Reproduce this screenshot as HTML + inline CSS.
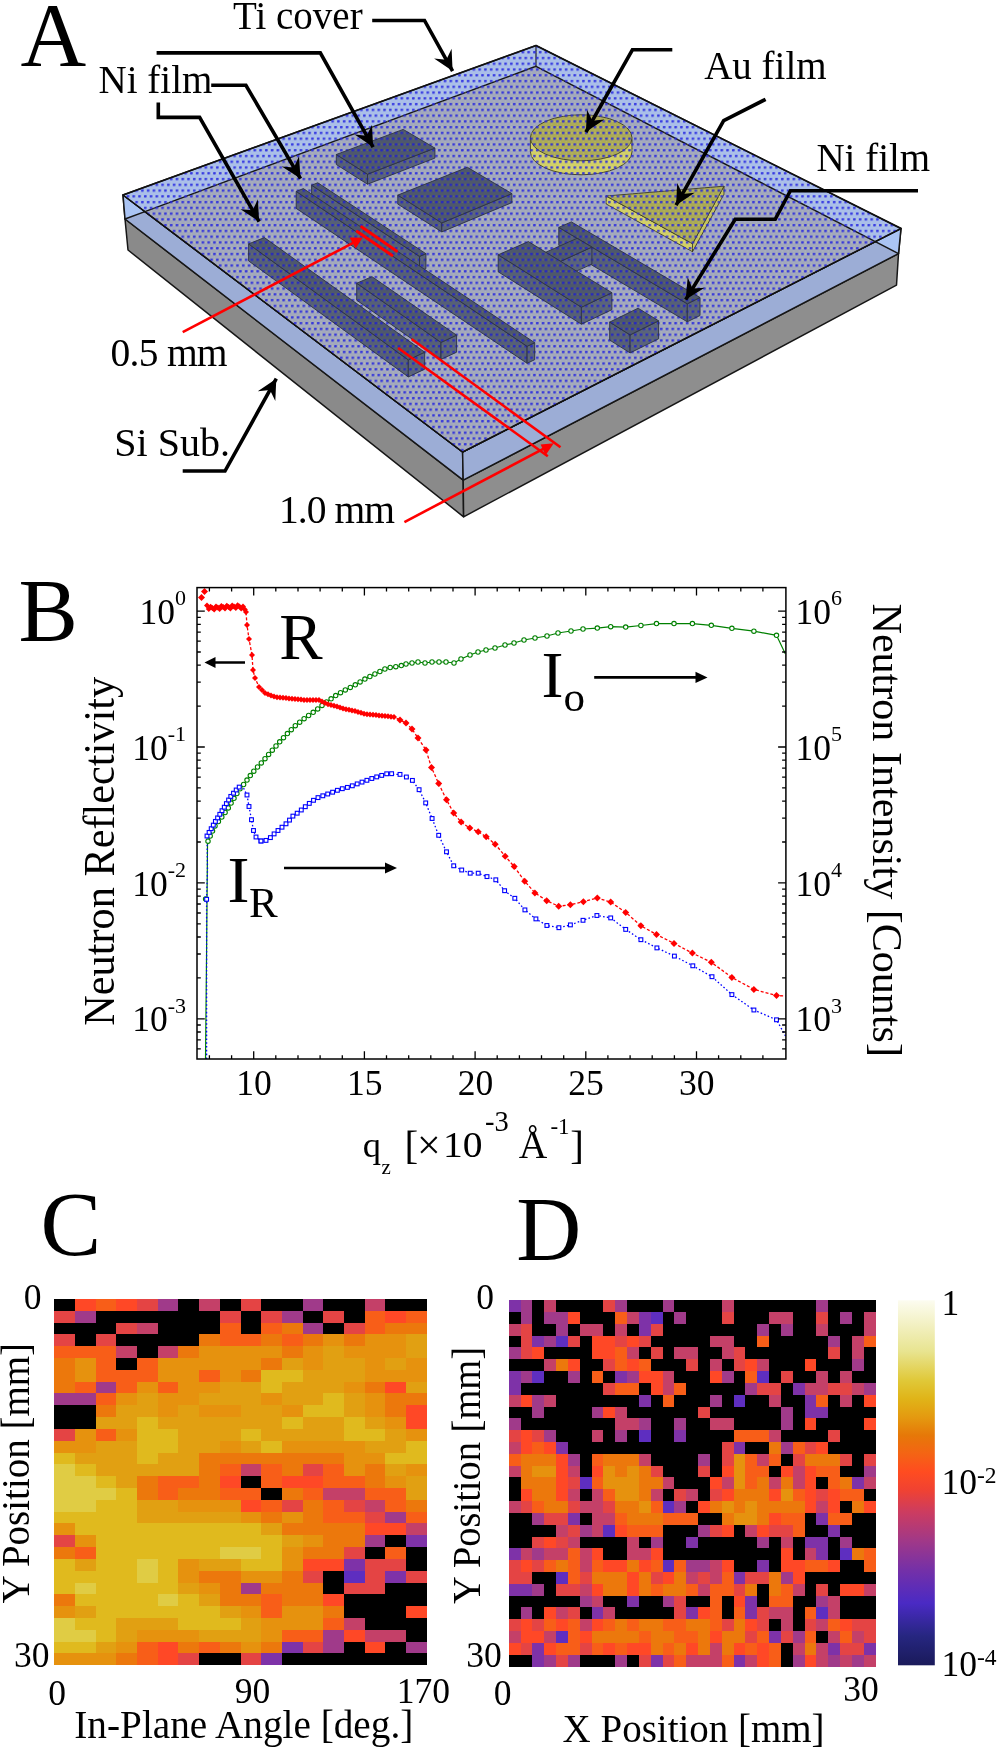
<!DOCTYPE html>
<html><head><meta charset="utf-8"><style>html,body{margin:0;padding:0;background:#fff;width:998px;height:1751px;overflow:hidden}</style></head><body>
<svg width="998" height="1751" viewBox="0 0 998 1751" style="display:block;will-change:transform">
<defs>
<pattern id="dots" patternUnits="userSpaceOnUse" width="5.765" height="11.53" x="-0.155" y="-0.84">
<rect x="0" y="0" width="2.6" height="2.3" rx="0.6" fill="#2424e0" opacity="0.85"/>
<rect x="2.8825" y="5.765" width="2.6" height="2.3" rx="0.6" fill="#2424e0" opacity="0.85"/>
<rect x="3.58" y="0.5" width="1.2" height="1.3" fill="#ecec9c" opacity="0.4"/>
<rect x="0.7" y="6.265" width="1.2" height="1.3" fill="#ecec9c" opacity="0.4"/>
<rect x="0.7" y="3.4" width="1.2" height="1.1" fill="#e0e4b0" opacity="0.22"/>
<rect x="3.58" y="9.15" width="1.2" height="1.1" fill="#e0e4b0" opacity="0.22"/>
</pattern>
<pattern id="dotsb" patternUnits="userSpaceOnUse" width="5.765" height="11.53" x="-0.155" y="-0.84">
<rect x="0" y="0" width="2.6" height="2.3" rx="0.6" fill="#2020d0" opacity="0.85"/>
<rect x="2.8825" y="5.765" width="2.6" height="2.3" rx="0.6" fill="#2020d0" opacity="0.85"/>
<rect x="3.58" y="0.5" width="1.2" height="1.3" fill="#8c9a50" opacity="0.35"/>
<rect x="0.7" y="6.265" width="1.2" height="1.3" fill="#8c9a50" opacity="0.35"/>
</pattern>
<linearGradient id="cbar" x1="0" y1="1" x2="0" y2="0">
<stop offset="0" stop-color="#1a1a5a"/>
<stop offset="0.08" stop-color="#262680"/>
<stop offset="0.17" stop-color="#4a2ac4"/>
<stop offset="0.26" stop-color="#7430a8"/>
<stop offset="0.34" stop-color="#a03888"/>
<stop offset="0.42" stop-color="#cc3c60"/>
<stop offset="0.48" stop-color="#f04232"/>
<stop offset="0.53" stop-color="#ff4c20"/>
<stop offset="0.58" stop-color="#f46414"/>
<stop offset="0.63" stop-color="#e67808"/>
<stop offset="0.68" stop-color="#e49a10"/>
<stop offset="0.73" stop-color="#e0b418"/>
<stop offset="0.78" stop-color="#e0c838"/>
<stop offset="0.86" stop-color="#e8e490"/>
<stop offset="1" stop-color="#fcfcf0"/>
</linearGradient>
</defs>
<rect width="998" height="1751" fill="#fff"/>
<polygon points="125.0,219.0 463.2,480.2 463.6,516.8 128.0,250.0" fill="#8a8a8a" stroke="#161616" stroke-width="1.5" stroke-linejoin="round"/>
<polygon points="463.2,480.2 898.5,253.6 896.5,285.2 463.6,516.8" fill="#8e8e8e" stroke="#161616" stroke-width="1.5" stroke-linejoin="round"/>
<polygon points="123.0,195.0 462.6,452.0 463.2,480.2 125.0,219.0" fill="#9cadd6" stroke="#161616" stroke-width="1.5" stroke-linejoin="round"/>
<polygon points="462.6,452.0 901.0,228.5 898.5,253.6 463.2,480.2" fill="#9cadd6" stroke="#161616" stroke-width="1.5" stroke-linejoin="round"/>
<polygon points="123.0,195.0 144.9,211.6 125.0,219.0" fill="#aac4f4" stroke="#161616" stroke-width="1.5" stroke-linejoin="round"/>
<polygon points="901.0,228.5 875.3,241.6 898.5,253.6" fill="#aac4f4" stroke="#161616" stroke-width="1.5" stroke-linejoin="round"/>
<polygon points="123.0,195.0 536.0,45.5 901.0,228.5 462.6,452.0" fill="#a9beea" stroke="#161616" stroke-width="1.5" stroke-linejoin="round"/>
<polygon points="144.9,211.6 536.0,66.3 875.3,241.6 462.6,452.0" fill="#a2a8bc" stroke="#161616" stroke-width="1.5" stroke-linejoin="round"/>
<line x1="536" y1="45.5" x2="536" y2="66.3" stroke="#222" stroke-width="1.2"/>
<path d="M530.4000000000001,137.8 L530.4000000000001,151.8 A50.8,23 0 0 0 632.0,151.8 L632.0,137.8 Z" fill="#d2d066" stroke="#3a3a20" stroke-width="0.9"/>
<ellipse cx="581.2" cy="137.8" rx="50.8" ry="23" fill="#acaa56" stroke="#3a3a20" stroke-width="0.9"/>
<polygon points="606.2,196.0 692.5,243.7 692.5,251.7 606.2,204.0" fill="#d2d066" stroke="#3a3a20" stroke-width="0.9"/>
<polygon points="692.5,243.7 724.0,186.2 724.0,194.2 692.5,251.7" fill="#c4c260" stroke="#3a3a20" stroke-width="0.9"/>
<polygon points="606.2,196.0 724.0,186.2 692.5,243.7" fill="#aaa954" stroke="#3a3a20" stroke-width="0.9"/>
<polygon points="123.0,195.0 536.0,45.5 901.0,228.5 462.6,452.0" fill="url(#dots)"/>
<polygon points="336.3,154.5 367.5,174.2 367.5,184.2 336.3,164.5" fill="#566076"/><polygon points="336.3,154.5 367.5,174.2 367.5,184.2 336.3,164.5" fill="url(#dotsb)" stroke="#2c3244" stroke-width="0.9" stroke-linejoin="round"/><polygon points="367.5,174.2 434.9,148.1 434.9,158.1 367.5,184.2" fill="#5a647a"/><polygon points="367.5,174.2 434.9,148.1 434.9,158.1 367.5,184.2" fill="url(#dotsb)" stroke="#2c3244" stroke-width="0.9" stroke-linejoin="round"/><polygon points="336.3,154.5 367.5,174.2 434.9,148.1 403.2,129.4" fill="#4e586c"/><polygon points="336.3,154.5 367.5,174.2 434.9,148.1 403.2,129.4" fill="url(#dotsb)" stroke="#2c3244" stroke-width="0.9" stroke-linejoin="round"/>
<polygon points="397.8,195.1 441.8,222.9 441.8,231.9 397.8,204.1" fill="#566076"/><polygon points="397.8,195.1 441.8,222.9 441.8,231.9 397.8,204.1" fill="url(#dotsb)" stroke="#2c3244" stroke-width="0.9" stroke-linejoin="round"/><polygon points="441.8,222.9 511.9,193.6 511.9,202.6 441.8,231.9" fill="#5a647a"/><polygon points="441.8,222.9 511.9,193.6 511.9,202.6 441.8,231.9" fill="url(#dotsb)" stroke="#2c3244" stroke-width="0.9" stroke-linejoin="round"/><polygon points="397.8,195.1 441.8,222.9 511.9,193.6 467.4,167.3" fill="#4e586c"/><polygon points="397.8,195.1 441.8,222.9 511.9,193.6 467.4,167.3" fill="url(#dotsb)" stroke="#2c3244" stroke-width="0.9" stroke-linejoin="round"/>
<polygon points="558.8,227.4 687.3,303.8 687.3,321.8 558.8,245.4" fill="#566076"/><polygon points="558.8,227.4 687.3,303.8 687.3,321.8 558.8,245.4" fill="url(#dotsb)" stroke="#2c3244" stroke-width="0.9" stroke-linejoin="round"/><polygon points="687.3,303.8 700.0,297.5 700.0,315.5 687.3,321.8" fill="#5a647a"/><polygon points="687.3,303.8 700.0,297.5 700.0,315.5 687.3,321.8" fill="url(#dotsb)" stroke="#2c3244" stroke-width="0.9" stroke-linejoin="round"/><polygon points="558.8,227.4 687.3,303.8 700.0,297.5 571.4,221.9" fill="#4e586c"/><polygon points="558.8,227.4 687.3,303.8 700.0,297.5 571.4,221.9" fill="url(#dotsb)" stroke="#2c3244" stroke-width="0.9" stroke-linejoin="round"/>
<polygon points="545.4,252.4 560.2,261.5 560.2,278.5 545.4,269.4" fill="#566076"/><polygon points="545.4,252.4 560.2,261.5 560.2,278.5 545.4,269.4" fill="url(#dotsb)" stroke="#2c3244" stroke-width="0.9" stroke-linejoin="round"/><polygon points="560.2,261.5 591.9,247.1 591.9,264.1 560.2,278.5" fill="#5a647a"/><polygon points="560.2,261.5 591.9,247.1 591.9,264.1 560.2,278.5" fill="url(#dotsb)" stroke="#2c3244" stroke-width="0.9" stroke-linejoin="round"/><polygon points="545.4,252.4 560.2,261.5 591.9,247.1 577.1,238.3" fill="#4e586c"/><polygon points="545.4,252.4 560.2,261.5 591.9,247.1 577.1,238.3" fill="url(#dotsb)" stroke="#2c3244" stroke-width="0.9" stroke-linejoin="round"/>
<polygon points="498.2,254.8 581.4,307.2 581.4,324.2 498.2,271.8" fill="#566076"/><polygon points="498.2,254.8 581.4,307.2 581.4,324.2 498.2,271.8" fill="url(#dotsb)" stroke="#2c3244" stroke-width="0.9" stroke-linejoin="round"/><polygon points="581.4,307.2 611.9,292.7 611.9,309.7 581.4,324.2" fill="#5a647a"/><polygon points="581.4,307.2 611.9,292.7 611.9,309.7 581.4,324.2" fill="url(#dotsb)" stroke="#2c3244" stroke-width="0.9" stroke-linejoin="round"/><polygon points="498.2,254.8 581.4,307.2 611.9,292.7 528.4,241.6" fill="#4e586c"/><polygon points="498.2,254.8 581.4,307.2 611.9,292.7 528.4,241.6" fill="url(#dotsb)" stroke="#2c3244" stroke-width="0.9" stroke-linejoin="round"/>
<polygon points="609.7,322.1 630.1,334.9 630.1,352.9 609.7,340.1" fill="#566076"/><polygon points="609.7,322.1 630.1,334.9 630.1,352.9 609.7,340.1" fill="url(#dotsb)" stroke="#2c3244" stroke-width="0.9" stroke-linejoin="round"/><polygon points="630.1,334.9 658.6,320.8 658.6,338.8 630.1,352.9" fill="#5a647a"/><polygon points="630.1,334.9 658.6,320.8 658.6,338.8 630.1,352.9" fill="url(#dotsb)" stroke="#2c3244" stroke-width="0.9" stroke-linejoin="round"/><polygon points="609.7,322.1 630.1,334.9 658.6,320.8 638.1,308.2" fill="#4e586c"/><polygon points="609.7,322.1 630.1,334.9 658.6,320.8 638.1,308.2" fill="url(#dotsb)" stroke="#2c3244" stroke-width="0.9" stroke-linejoin="round"/>
<polygon points="311.6,185.2 419.5,256.4 419.5,271.4 311.6,200.2" fill="#566076"/><polygon points="311.6,185.2 419.5,256.4 419.5,271.4 311.6,200.2" fill="url(#dotsb)" stroke="#2c3244" stroke-width="0.9" stroke-linejoin="round"/><polygon points="419.5,256.4 425.9,253.7 425.9,268.7 419.5,271.4" fill="#5a647a"/><polygon points="419.5,256.4 425.9,253.7 425.9,268.7 419.5,271.4" fill="url(#dotsb)" stroke="#2c3244" stroke-width="0.9" stroke-linejoin="round"/><polygon points="311.6,185.2 419.5,256.4 425.9,253.7 317.8,182.8" fill="#4e586c"/><polygon points="311.6,185.2 419.5,256.4 425.9,253.7 317.8,182.8" fill="url(#dotsb)" stroke="#2c3244" stroke-width="0.9" stroke-linejoin="round"/>
<polygon points="296.2,191.4 527.1,346.3 527.1,363.3 296.2,208.4" fill="#566076"/><polygon points="296.2,191.4 527.1,346.3 527.1,363.3 296.2,208.4" fill="url(#dotsb)" stroke="#2c3244" stroke-width="0.9" stroke-linejoin="round"/><polygon points="527.1,346.3 534.7,342.7 534.7,359.7 527.1,363.3" fill="#5a647a"/><polygon points="527.1,346.3 534.7,342.7 534.7,359.7 527.1,363.3" fill="url(#dotsb)" stroke="#2c3244" stroke-width="0.9" stroke-linejoin="round"/><polygon points="296.2,191.4 527.1,346.3 534.7,342.7 303.4,188.6" fill="#4e586c"/><polygon points="296.2,191.4 527.1,346.3 534.7,342.7 303.4,188.6" fill="url(#dotsb)" stroke="#2c3244" stroke-width="0.9" stroke-linejoin="round"/>
<polygon points="356.7,283.2 441.0,342.4 441.0,359.4 356.7,300.2" fill="#566076"/><polygon points="356.7,283.2 441.0,342.4 441.0,359.4 356.7,300.2" fill="url(#dotsb)" stroke="#2c3244" stroke-width="0.9" stroke-linejoin="round"/><polygon points="441.0,342.4 456.6,335.2 456.6,352.2 441.0,359.4" fill="#5a647a"/><polygon points="441.0,342.4 456.6,335.2 456.6,352.2 441.0,359.4" fill="url(#dotsb)" stroke="#2c3244" stroke-width="0.9" stroke-linejoin="round"/><polygon points="356.7,283.2 441.0,342.4 456.6,335.2 372.0,276.7" fill="#4e586c"/><polygon points="356.7,283.2 441.0,342.4 456.6,335.2 372.0,276.7" fill="url(#dotsb)" stroke="#2c3244" stroke-width="0.9" stroke-linejoin="round"/>
<polygon points="248.6,243.9 408.3,359.9 408.3,376.9 248.6,260.9" fill="#566076"/><polygon points="248.6,243.9 408.3,359.9 408.3,376.9 248.6,260.9" fill="url(#dotsb)" stroke="#2c3244" stroke-width="0.9" stroke-linejoin="round"/><polygon points="408.3,359.9 424.7,352.2 424.7,369.2 408.3,376.9" fill="#5a647a"/><polygon points="408.3,359.9 424.7,352.2 424.7,369.2 408.3,376.9" fill="url(#dotsb)" stroke="#2c3244" stroke-width="0.9" stroke-linejoin="round"/><polygon points="248.6,243.9 408.3,359.9 424.7,352.2 264.4,237.6" fill="#4e586c"/><polygon points="248.6,243.9 408.3,359.9 424.7,352.2 264.4,237.6" fill="url(#dotsb)" stroke="#2c3244" stroke-width="0.9" stroke-linejoin="round"/>
<polyline points="123.0,195.0 536.0,45.5 901.0,228.5" fill="none" stroke="#111" stroke-width="1.4"/>
<polyline points="123.0,195.0 462.6,452.0 901.0,228.5" fill="none" stroke="#111" stroke-width="1.1"/>
<polyline points="372.2,20.5 424.5,20.5 452.6,71.1" fill="none" stroke="#000" stroke-width="3.6" stroke-linejoin="miter"/><polygon points="452.6,71.1 434.1,58.5 446.3,59.7 451.6,48.8" fill="#000"/>
<polyline points="156.6,52.9 320.3,52.9 373.1,147.1" fill="none" stroke="#000" stroke-width="3.6" stroke-linejoin="miter"/><polygon points="373.1,147.1 354.6,134.5 366.7,135.8 372.0,124.8" fill="#000"/>
<polyline points="211.2,85.3 245.9,85.3 300.5,178.6" fill="none" stroke="#000" stroke-width="3.6" stroke-linejoin="miter"/><polygon points="300.5,178.6 281.8,166.4 293.9,167.4 299.0,156.3" fill="#000"/>
<polyline points="158.3,102.5 158.3,117.4 199.6,117.4 259.1,221.6" fill="none" stroke="#000" stroke-width="3.6" stroke-linejoin="miter"/><polygon points="259.1,221.6 240.5,209.2 252.7,210.3 257.9,199.3" fill="#000"/>
<polyline points="672.3,49.8 632.4,49.8 585.9,132.1" fill="none" stroke="#000" stroke-width="3.6" stroke-linejoin="miter"/><polygon points="585.9,132.1 587.0,109.8 592.3,120.8 604.4,119.6" fill="#000"/>
<polyline points="765.6,99.3 723.7,120.6 676.1,205.2" fill="none" stroke="#000" stroke-width="3.6" stroke-linejoin="miter"/><polygon points="676.1,205.2 677.2,182.9 682.5,193.9 694.6,192.7" fill="#000"/>
<polyline points="918.0,190.7 790.4,190.7 775.2,219.3 735.2,219.3 685.7,299.6" fill="none" stroke="#000" stroke-width="3.6" stroke-linejoin="miter"/><polygon points="685.7,299.6 687.7,277.3 692.5,288.5 704.7,287.8" fill="#000"/>
<polyline points="182.7,471.0 225.0,471.0 276.3,378.7" fill="none" stroke="#000" stroke-width="3.6" stroke-linejoin="miter"/><polygon points="276.3,378.7 275.3,401.0 270.0,390.1 257.8,391.3" fill="#000"/>
<line x1="182.7" y1="332.2" x2="356" y2="241.3" stroke="#ff0000" stroke-width="2.6"/>
<polygon points="362.6,237.8 349.6,237.6 355.6,248.6" fill="#ff0000"/>
<line x1="361.7" y1="226.9" x2="396.5" y2="251.1" stroke="#ff0000" stroke-width="3" stroke-linecap="round"/>
<line x1="357.2" y1="231.5" x2="391.9" y2="255.3" stroke="#ff0000" stroke-width="3" stroke-linecap="round"/>
<line x1="404.4" y1="522.1" x2="547" y2="446.9" stroke="#ff0000" stroke-width="2.6"/>
<polygon points="553.8,443.2 540.6,444.6 545.6,455.2" fill="#ff0000"/>
<line x1="411.6" y1="339" x2="560.5" y2="447.2" stroke="#ff0000" stroke-width="2.6"/>
<line x1="398.1" y1="348" x2="547.8" y2="456.3" stroke="#ff0000" stroke-width="2.6"/>
<text x="20.6" y="65.8" font-family="Liberation Serif" font-size="91" text-anchor="start" >A</text>
<text x="233.0" y="28.8" font-family="Liberation Serif" font-size="39" text-anchor="start" >Ti cover</text>
<text x="98.6" y="93.1" font-family="Liberation Serif" font-size="39" text-anchor="start" >Ni film</text>
<text x="704.2" y="79.1" font-family="Liberation Serif" font-size="39" text-anchor="start" >Au film</text>
<text x="816.4" y="171" font-family="Liberation Serif" font-size="39" text-anchor="start" >Ni film</text>
<text x="110.6" y="366.2" font-family="Liberation Serif" font-size="39.5" text-anchor="start" textLength="117" lengthAdjust="spacing">0.5 mm</text>
<text x="114.3" y="456.3" font-family="Liberation Serif" font-size="40" text-anchor="start" >Si Sub.</text>
<text x="279.0" y="523.2" font-family="Liberation Serif" font-size="39.5" text-anchor="start" textLength="116" lengthAdjust="spacing">1.0 mm</text>
<text x="18.6" y="640.2" font-family="Liberation Serif" font-size="89" text-anchor="start" >B</text>
<defs><clipPath id="plotclip"><rect x="197.0" y="587.6" width="588.9" height="471.4"/></clipPath></defs>
<g clip-path="url(#plotclip)">
<polyline points="205.5,1059.0 206.5,960.0 207.5,845.0 208.0,841.2 211.0,834.0 215.0,826.0 221.0,818.0 227.0,810.0 233.0,800.0 239.0,790.0 244.0,784.0 247.0,780.0 253.0,772.0 263.0,761.0 275.0,747.0 285.0,736.0 295.0,726.0 305.0,718.0 315.0,711.0 325.0,703.0 335.0,696.0 345.0,690.0 355.0,685.0 365.0,679.0 375.0,674.0 387.0,668.0 394.0,667.0 400.0,666.0 406.0,664.0 412.0,663.0 418.0,662.0 425.0,663.0 432.0,662.0 439.0,662.0 446.0,662.0 454.0,663.0 461.0,659.0 470.0,655.0 478.0,652.0 486.0,650.0 495.0,648.0 505.0,645.0 514.0,643.0 524.0,640.0 535.0,638.0 547.0,636.0 558.0,633.0 571.0,631.0 583.0,629.0 597.3,628.1 610.7,626.7 625.7,627.1 640.9,625.5 656.5,623.6 674.0,623.6 692.4,623.6 711.3,625.3 731.9,628.3 753.9,631.2 776.5,635.3 785.3,653.8" fill="none" stroke="#008000" stroke-width="1.2"/>
<polyline points="206.6,1059.0 206.6,899.3 207.5,869.0 207.0,836.0 211.0,829.0 215.0,822.0 220.0,814.0 225.0,806.0 231.0,796.0 238.0,788.0 242.0,785.0 247.0,795.0 249.0,806.5 251.5,819.7 253.5,830.5 256.0,837.0 261.0,841.0 265.0,841.0 270.0,838.0 275.0,833.0 281.0,828.0 287.0,823.0 293.0,816.0 299.0,812.0 305.0,807.0 311.0,802.0 317.0,798.0 325.0,795.0 333.0,792.0 341.0,789.0 349.0,787.0 357.0,784.0 365.0,781.0 373.0,778.0 383.0,775.0 389.0,773.0 394.0,774.4 400.0,774.4 406.4,777.0 412.4,780.4 419.1,789.7 425.7,802.9 432.1,818.5 438.7,835.3 446.5,851.8 453.7,865.8 461.7,870.0 470.2,873.2 478.2,873.2 487.0,876.6 495.8,879.8 504.6,890.7 514.8,898.3 524.9,909.9 535.9,918.9 546.9,925.5 558.9,927.7 570.4,924.9 583.0,920.3 596.9,915.5 610.7,917.9 625.7,929.4 640.9,939.7 656.9,947.9 674.4,956.1 692.8,965.8 712.0,976.7 731.9,994.6 753.9,1010.0 776.5,1019.8 785.9,1036.7" fill="none" stroke="#0000ff" stroke-width="1.3" stroke-dasharray="1.6,2.2"/>
<polyline points="206.0,604.0 208.0,607.0 211.0,608.0 215.0,608.0 220.0,607.2 225.0,607.0 230.0,607.0 235.0,606.5 240.0,606.5 244.0,608.0 246.0,612.0 247.0,625.0 249.0,639.0 252.0,655.0 253.0,670.0 255.0,678.0 259.0,687.0 265.0,693.0 275.0,697.0 285.0,698.0 295.0,699.0 305.0,700.0 319.0,700.0 327.0,704.0 335.0,706.0 345.0,709.0 355.0,711.0 365.0,714.0 375.0,715.0 385.0,716.0 394.0,717.0 400.0,720.0 406.0,723.0 412.0,729.0 418.0,738.0 426.0,750.0 431.5,767.6 438.7,783.6 446.5,799.7 453.7,813.1 461.1,822.1 469.8,828.1 478.2,831.7 486.2,836.8 495.2,844.2 505.2,856.2 514.2,866.6 524.7,881.2 534.9,892.9 546.7,900.7 558.7,906.3 570.4,904.7 583.4,901.7 597.3,898.0 610.7,902.1 625.7,912.4 640.9,925.7 656.5,934.6 674.0,943.4 692.4,953.1 711.3,962.3 731.9,977.5 753.9,989.4 776.5,995.6 785.3,996.0" fill="none" stroke="#ff0000" stroke-width="1.3" stroke-dasharray="3,2"/>
<circle cx="208.0" cy="841.2" r="2.2" fill="#fff" stroke="#008000" stroke-width="1.1"/>
<circle cx="210.2" cy="836.0" r="2.2" fill="#fff" stroke="#008000" stroke-width="1.1"/>
<circle cx="212.5" cy="831.0" r="2.2" fill="#fff" stroke="#008000" stroke-width="1.1"/>
<circle cx="215.0" cy="826.0" r="2.2" fill="#fff" stroke="#008000" stroke-width="1.1"/>
<circle cx="218.4" cy="821.5" r="2.2" fill="#fff" stroke="#008000" stroke-width="1.1"/>
<circle cx="221.8" cy="817.0" r="2.2" fill="#fff" stroke="#008000" stroke-width="1.1"/>
<circle cx="225.1" cy="812.5" r="2.2" fill="#fff" stroke="#008000" stroke-width="1.1"/>
<circle cx="228.3" cy="807.9" r="2.2" fill="#fff" stroke="#008000" stroke-width="1.1"/>
<circle cx="231.1" cy="803.1" r="2.2" fill="#fff" stroke="#008000" stroke-width="1.1"/>
<circle cx="234.0" cy="798.3" r="2.2" fill="#fff" stroke="#008000" stroke-width="1.1"/>
<circle cx="236.9" cy="793.5" r="2.2" fill="#fff" stroke="#008000" stroke-width="1.1"/>
<circle cx="240.0" cy="788.8" r="2.2" fill="#fff" stroke="#008000" stroke-width="1.1"/>
<circle cx="243.6" cy="784.5" r="2.2" fill="#fff" stroke="#008000" stroke-width="1.1"/>
<circle cx="247.0" cy="780.1" r="2.2" fill="#fff" stroke="#008000" stroke-width="1.1"/>
<circle cx="250.3" cy="775.6" r="2.2" fill="#fff" stroke="#008000" stroke-width="1.1"/>
<circle cx="253.8" cy="771.2" r="2.2" fill="#fff" stroke="#008000" stroke-width="1.1"/>
<circle cx="257.5" cy="767.0" r="2.2" fill="#fff" stroke="#008000" stroke-width="1.1"/>
<circle cx="261.3" cy="762.9" r="2.2" fill="#fff" stroke="#008000" stroke-width="1.1"/>
<circle cx="265.0" cy="758.7" r="2.2" fill="#fff" stroke="#008000" stroke-width="1.1"/>
<circle cx="268.6" cy="754.4" r="2.2" fill="#fff" stroke="#008000" stroke-width="1.1"/>
<circle cx="272.3" cy="750.2" r="2.2" fill="#fff" stroke="#008000" stroke-width="1.1"/>
<circle cx="276.0" cy="746.0" r="2.2" fill="#fff" stroke="#008000" stroke-width="1.1"/>
<circle cx="279.7" cy="741.8" r="2.2" fill="#fff" stroke="#008000" stroke-width="1.1"/>
<circle cx="283.5" cy="737.7" r="2.2" fill="#fff" stroke="#008000" stroke-width="1.1"/>
<circle cx="287.4" cy="733.6" r="2.2" fill="#fff" stroke="#008000" stroke-width="1.1"/>
<circle cx="291.3" cy="729.7" r="2.2" fill="#fff" stroke="#008000" stroke-width="1.1"/>
<circle cx="295.3" cy="725.7" r="2.2" fill="#fff" stroke="#008000" stroke-width="1.1"/>
<circle cx="299.7" cy="722.2" r="2.2" fill="#fff" stroke="#008000" stroke-width="1.1"/>
<circle cx="304.1" cy="718.7" r="2.2" fill="#fff" stroke="#008000" stroke-width="1.1"/>
<circle cx="308.6" cy="715.5" r="2.2" fill="#fff" stroke="#008000" stroke-width="1.1"/>
<circle cx="313.2" cy="712.3" r="2.2" fill="#fff" stroke="#008000" stroke-width="1.1"/>
<circle cx="317.7" cy="708.9" r="2.2" fill="#fff" stroke="#008000" stroke-width="1.1"/>
<circle cx="322.0" cy="705.4" r="2.2" fill="#fff" stroke="#008000" stroke-width="1.1"/>
<circle cx="326.5" cy="702.0" r="2.2" fill="#fff" stroke="#008000" stroke-width="1.1"/>
<circle cx="331.1" cy="698.8" r="2.2" fill="#fff" stroke="#008000" stroke-width="1.1"/>
<circle cx="335.7" cy="695.6" r="2.2" fill="#fff" stroke="#008000" stroke-width="1.1"/>
<circle cx="340.5" cy="692.7" r="2.2" fill="#fff" stroke="#008000" stroke-width="1.1"/>
<circle cx="345.3" cy="689.9" r="2.2" fill="#fff" stroke="#008000" stroke-width="1.1"/>
<circle cx="350.3" cy="687.4" r="2.2" fill="#fff" stroke="#008000" stroke-width="1.1"/>
<circle cx="355.3" cy="684.8" r="2.2" fill="#fff" stroke="#008000" stroke-width="1.1"/>
<circle cx="360.1" cy="681.9" r="2.2" fill="#fff" stroke="#008000" stroke-width="1.1"/>
<circle cx="364.9" cy="679.1" r="2.2" fill="#fff" stroke="#008000" stroke-width="1.1"/>
<circle cx="369.9" cy="676.5" r="2.2" fill="#fff" stroke="#008000" stroke-width="1.1"/>
<circle cx="374.9" cy="674.0" r="2.2" fill="#fff" stroke="#008000" stroke-width="1.1"/>
<circle cx="379.9" cy="671.5" r="2.2" fill="#fff" stroke="#008000" stroke-width="1.1"/>
<circle cx="384.9" cy="669.0" r="2.2" fill="#fff" stroke="#008000" stroke-width="1.1"/>
<circle cx="390.2" cy="667.5" r="2.2" fill="#fff" stroke="#008000" stroke-width="1.1"/>
<circle cx="395.8" cy="666.7" r="2.2" fill="#fff" stroke="#008000" stroke-width="1.1"/>
<circle cx="401.3" cy="665.6" r="2.2" fill="#fff" stroke="#008000" stroke-width="1.1"/>
<circle cx="406.0" cy="664.0" r="2.2" fill="#fff" stroke="#008000" stroke-width="1.1"/>
<circle cx="412.0" cy="663.0" r="2.2" fill="#fff" stroke="#008000" stroke-width="1.1"/>
<circle cx="418.0" cy="662.0" r="2.2" fill="#fff" stroke="#008000" stroke-width="1.1"/>
<circle cx="425.0" cy="663.0" r="2.2" fill="#fff" stroke="#008000" stroke-width="1.1"/>
<circle cx="432.0" cy="662.0" r="2.2" fill="#fff" stroke="#008000" stroke-width="1.1"/>
<circle cx="439.0" cy="662.0" r="2.2" fill="#fff" stroke="#008000" stroke-width="1.1"/>
<circle cx="446.0" cy="662.0" r="2.2" fill="#fff" stroke="#008000" stroke-width="1.1"/>
<circle cx="454.0" cy="663.0" r="2.2" fill="#fff" stroke="#008000" stroke-width="1.1"/>
<circle cx="461.0" cy="659.0" r="2.2" fill="#fff" stroke="#008000" stroke-width="1.1"/>
<circle cx="470.0" cy="655.0" r="2.2" fill="#fff" stroke="#008000" stroke-width="1.1"/>
<circle cx="478.0" cy="652.0" r="2.2" fill="#fff" stroke="#008000" stroke-width="1.1"/>
<circle cx="486.0" cy="650.0" r="2.2" fill="#fff" stroke="#008000" stroke-width="1.1"/>
<circle cx="495.0" cy="648.0" r="2.2" fill="#fff" stroke="#008000" stroke-width="1.1"/>
<circle cx="505.0" cy="645.0" r="2.2" fill="#fff" stroke="#008000" stroke-width="1.1"/>
<circle cx="514.0" cy="643.0" r="2.2" fill="#fff" stroke="#008000" stroke-width="1.1"/>
<circle cx="524.0" cy="640.0" r="2.2" fill="#fff" stroke="#008000" stroke-width="1.1"/>
<circle cx="535.0" cy="638.0" r="2.2" fill="#fff" stroke="#008000" stroke-width="1.1"/>
<circle cx="547.0" cy="636.0" r="2.2" fill="#fff" stroke="#008000" stroke-width="1.1"/>
<circle cx="558.0" cy="633.0" r="2.2" fill="#fff" stroke="#008000" stroke-width="1.1"/>
<circle cx="571.0" cy="631.0" r="2.2" fill="#fff" stroke="#008000" stroke-width="1.1"/>
<circle cx="583.0" cy="629.0" r="2.2" fill="#fff" stroke="#008000" stroke-width="1.1"/>
<circle cx="597.3" cy="628.1" r="2.2" fill="#fff" stroke="#008000" stroke-width="1.1"/>
<circle cx="610.7" cy="626.7" r="2.2" fill="#fff" stroke="#008000" stroke-width="1.1"/>
<circle cx="625.7" cy="627.1" r="2.2" fill="#fff" stroke="#008000" stroke-width="1.1"/>
<circle cx="640.9" cy="625.5" r="2.2" fill="#fff" stroke="#008000" stroke-width="1.1"/>
<circle cx="656.5" cy="623.6" r="2.2" fill="#fff" stroke="#008000" stroke-width="1.1"/>
<circle cx="674.0" cy="623.6" r="2.2" fill="#fff" stroke="#008000" stroke-width="1.1"/>
<circle cx="692.4" cy="623.6" r="2.2" fill="#fff" stroke="#008000" stroke-width="1.1"/>
<circle cx="711.3" cy="625.3" r="2.2" fill="#fff" stroke="#008000" stroke-width="1.1"/>
<circle cx="731.9" cy="628.3" r="2.2" fill="#fff" stroke="#008000" stroke-width="1.1"/>
<circle cx="753.9" cy="631.2" r="2.2" fill="#fff" stroke="#008000" stroke-width="1.1"/>
<circle cx="776.5" cy="635.3" r="2.2" fill="#fff" stroke="#008000" stroke-width="1.1"/>
<circle cx="205.6" cy="899.0" r="2.2" fill="#fff" stroke="#008000" stroke-width="1.1"/>
<rect x="205.1" y="834.1" width="3.8" height="3.8" fill="#fff" stroke="#0000ff" stroke-width="1.1"/>
<rect x="207.2" y="830.5" width="3.8" height="3.8" fill="#fff" stroke="#0000ff" stroke-width="1.1"/>
<rect x="209.3" y="826.8" width="3.8" height="3.8" fill="#fff" stroke="#0000ff" stroke-width="1.1"/>
<rect x="211.4" y="823.2" width="3.8" height="3.8" fill="#fff" stroke="#0000ff" stroke-width="1.1"/>
<rect x="213.5" y="819.5" width="3.8" height="3.8" fill="#fff" stroke="#0000ff" stroke-width="1.1"/>
<rect x="215.7" y="816.0" width="3.8" height="3.8" fill="#fff" stroke="#0000ff" stroke-width="1.1"/>
<rect x="217.9" y="812.4" width="3.8" height="3.8" fill="#fff" stroke="#0000ff" stroke-width="1.1"/>
<rect x="220.1" y="808.8" width="3.8" height="3.8" fill="#fff" stroke="#0000ff" stroke-width="1.1"/>
<rect x="222.4" y="805.3" width="3.8" height="3.8" fill="#fff" stroke="#0000ff" stroke-width="1.1"/>
<rect x="224.5" y="801.7" width="3.8" height="3.8" fill="#fff" stroke="#0000ff" stroke-width="1.1"/>
<rect x="226.7" y="798.1" width="3.8" height="3.8" fill="#fff" stroke="#0000ff" stroke-width="1.1"/>
<rect x="228.9" y="794.5" width="3.8" height="3.8" fill="#fff" stroke="#0000ff" stroke-width="1.1"/>
<rect x="231.6" y="791.3" width="3.8" height="3.8" fill="#fff" stroke="#0000ff" stroke-width="1.1"/>
<rect x="234.3" y="788.1" width="3.8" height="3.8" fill="#fff" stroke="#0000ff" stroke-width="1.1"/>
<rect x="237.3" y="785.2" width="3.8" height="3.8" fill="#fff" stroke="#0000ff" stroke-width="1.1"/>
<rect x="245.1" y="793.1" width="3.8" height="3.8" fill="#fff" stroke="#0000ff" stroke-width="1.1"/>
<rect x="247.1" y="804.6" width="3.8" height="3.8" fill="#fff" stroke="#0000ff" stroke-width="1.1"/>
<rect x="249.6" y="817.8" width="3.8" height="3.8" fill="#fff" stroke="#0000ff" stroke-width="1.1"/>
<rect x="251.6" y="828.6" width="3.8" height="3.8" fill="#fff" stroke="#0000ff" stroke-width="1.1"/>
<rect x="254.1" y="835.1" width="3.8" height="3.8" fill="#fff" stroke="#0000ff" stroke-width="1.1"/>
<rect x="259.1" y="839.1" width="3.8" height="3.8" fill="#fff" stroke="#0000ff" stroke-width="1.1"/>
<rect x="259.1" y="839.1" width="3.8" height="3.8" fill="#fff" stroke="#0000ff" stroke-width="1.1"/>
<rect x="264.1" y="838.5" width="3.8" height="3.8" fill="#fff" stroke="#0000ff" stroke-width="1.1"/>
<rect x="268.5" y="835.7" width="3.8" height="3.8" fill="#fff" stroke="#0000ff" stroke-width="1.1"/>
<rect x="272.2" y="832.0" width="3.8" height="3.8" fill="#fff" stroke="#0000ff" stroke-width="1.1"/>
<rect x="276.1" y="828.6" width="3.8" height="3.8" fill="#fff" stroke="#0000ff" stroke-width="1.1"/>
<rect x="280.1" y="825.3" width="3.8" height="3.8" fill="#fff" stroke="#0000ff" stroke-width="1.1"/>
<rect x="284.1" y="821.9" width="3.8" height="3.8" fill="#fff" stroke="#0000ff" stroke-width="1.1"/>
<rect x="287.6" y="818.2" width="3.8" height="3.8" fill="#fff" stroke="#0000ff" stroke-width="1.1"/>
<rect x="291.0" y="814.2" width="3.8" height="3.8" fill="#fff" stroke="#0000ff" stroke-width="1.1"/>
<rect x="295.3" y="811.3" width="3.8" height="3.8" fill="#fff" stroke="#0000ff" stroke-width="1.1"/>
<rect x="299.4" y="808.1" width="3.8" height="3.8" fill="#fff" stroke="#0000ff" stroke-width="1.1"/>
<rect x="303.4" y="804.8" width="3.8" height="3.8" fill="#fff" stroke="#0000ff" stroke-width="1.1"/>
<rect x="307.4" y="801.5" width="3.8" height="3.8" fill="#fff" stroke="#0000ff" stroke-width="1.1"/>
<rect x="311.6" y="798.4" width="3.8" height="3.8" fill="#fff" stroke="#0000ff" stroke-width="1.1"/>
<rect x="316.1" y="795.7" width="3.8" height="3.8" fill="#fff" stroke="#0000ff" stroke-width="1.1"/>
<rect x="320.9" y="793.9" width="3.8" height="3.8" fill="#fff" stroke="#0000ff" stroke-width="1.1"/>
<rect x="325.8" y="792.1" width="3.8" height="3.8" fill="#fff" stroke="#0000ff" stroke-width="1.1"/>
<rect x="330.7" y="790.3" width="3.8" height="3.8" fill="#fff" stroke="#0000ff" stroke-width="1.1"/>
<rect x="335.5" y="788.4" width="3.8" height="3.8" fill="#fff" stroke="#0000ff" stroke-width="1.1"/>
<rect x="340.4" y="786.8" width="3.8" height="3.8" fill="#fff" stroke="#0000ff" stroke-width="1.1"/>
<rect x="345.5" y="785.5" width="3.8" height="3.8" fill="#fff" stroke="#0000ff" stroke-width="1.1"/>
<rect x="350.4" y="783.9" width="3.8" height="3.8" fill="#fff" stroke="#0000ff" stroke-width="1.1"/>
<rect x="355.3" y="782.0" width="3.8" height="3.8" fill="#fff" stroke="#0000ff" stroke-width="1.1"/>
<rect x="360.1" y="780.2" width="3.8" height="3.8" fill="#fff" stroke="#0000ff" stroke-width="1.1"/>
<rect x="365.0" y="778.4" width="3.8" height="3.8" fill="#fff" stroke="#0000ff" stroke-width="1.1"/>
<rect x="369.9" y="776.6" width="3.8" height="3.8" fill="#fff" stroke="#0000ff" stroke-width="1.1"/>
<rect x="374.8" y="775.0" width="3.8" height="3.8" fill="#fff" stroke="#0000ff" stroke-width="1.1"/>
<rect x="379.8" y="773.5" width="3.8" height="3.8" fill="#fff" stroke="#0000ff" stroke-width="1.1"/>
<rect x="384.8" y="771.9" width="3.8" height="3.8" fill="#fff" stroke="#0000ff" stroke-width="1.1"/>
<rect x="389.7" y="771.8" width="3.8" height="3.8" fill="#fff" stroke="#0000ff" stroke-width="1.1"/>
<rect x="398.1" y="772.5" width="3.8" height="3.8" fill="#fff" stroke="#0000ff" stroke-width="1.1"/>
<rect x="404.5" y="775.1" width="3.8" height="3.8" fill="#fff" stroke="#0000ff" stroke-width="1.1"/>
<rect x="410.5" y="778.5" width="3.8" height="3.8" fill="#fff" stroke="#0000ff" stroke-width="1.1"/>
<rect x="417.2" y="787.8" width="3.8" height="3.8" fill="#fff" stroke="#0000ff" stroke-width="1.1"/>
<rect x="423.8" y="801.0" width="3.8" height="3.8" fill="#fff" stroke="#0000ff" stroke-width="1.1"/>
<rect x="430.2" y="816.6" width="3.8" height="3.8" fill="#fff" stroke="#0000ff" stroke-width="1.1"/>
<rect x="436.8" y="833.4" width="3.8" height="3.8" fill="#fff" stroke="#0000ff" stroke-width="1.1"/>
<rect x="444.6" y="849.9" width="3.8" height="3.8" fill="#fff" stroke="#0000ff" stroke-width="1.1"/>
<rect x="451.8" y="863.9" width="3.8" height="3.8" fill="#fff" stroke="#0000ff" stroke-width="1.1"/>
<rect x="459.8" y="868.1" width="3.8" height="3.8" fill="#fff" stroke="#0000ff" stroke-width="1.1"/>
<rect x="468.3" y="871.3" width="3.8" height="3.8" fill="#fff" stroke="#0000ff" stroke-width="1.1"/>
<rect x="476.3" y="871.3" width="3.8" height="3.8" fill="#fff" stroke="#0000ff" stroke-width="1.1"/>
<rect x="485.1" y="874.7" width="3.8" height="3.8" fill="#fff" stroke="#0000ff" stroke-width="1.1"/>
<rect x="493.9" y="877.9" width="3.8" height="3.8" fill="#fff" stroke="#0000ff" stroke-width="1.1"/>
<rect x="502.7" y="888.8" width="3.8" height="3.8" fill="#fff" stroke="#0000ff" stroke-width="1.1"/>
<rect x="512.9" y="896.4" width="3.8" height="3.8" fill="#fff" stroke="#0000ff" stroke-width="1.1"/>
<rect x="523.0" y="908.0" width="3.8" height="3.8" fill="#fff" stroke="#0000ff" stroke-width="1.1"/>
<rect x="534.0" y="917.0" width="3.8" height="3.8" fill="#fff" stroke="#0000ff" stroke-width="1.1"/>
<rect x="545.0" y="923.6" width="3.8" height="3.8" fill="#fff" stroke="#0000ff" stroke-width="1.1"/>
<rect x="557.0" y="925.8" width="3.8" height="3.8" fill="#fff" stroke="#0000ff" stroke-width="1.1"/>
<rect x="568.5" y="923.0" width="3.8" height="3.8" fill="#fff" stroke="#0000ff" stroke-width="1.1"/>
<rect x="581.1" y="918.4" width="3.8" height="3.8" fill="#fff" stroke="#0000ff" stroke-width="1.1"/>
<rect x="595.0" y="913.6" width="3.8" height="3.8" fill="#fff" stroke="#0000ff" stroke-width="1.1"/>
<rect x="608.8" y="916.0" width="3.8" height="3.8" fill="#fff" stroke="#0000ff" stroke-width="1.1"/>
<rect x="623.8" y="927.5" width="3.8" height="3.8" fill="#fff" stroke="#0000ff" stroke-width="1.1"/>
<rect x="639.0" y="937.8" width="3.8" height="3.8" fill="#fff" stroke="#0000ff" stroke-width="1.1"/>
<rect x="655.0" y="946.0" width="3.8" height="3.8" fill="#fff" stroke="#0000ff" stroke-width="1.1"/>
<rect x="672.5" y="954.2" width="3.8" height="3.8" fill="#fff" stroke="#0000ff" stroke-width="1.1"/>
<rect x="690.9" y="963.9" width="3.8" height="3.8" fill="#fff" stroke="#0000ff" stroke-width="1.1"/>
<rect x="710.1" y="974.8" width="3.8" height="3.8" fill="#fff" stroke="#0000ff" stroke-width="1.1"/>
<rect x="730.0" y="992.7" width="3.8" height="3.8" fill="#fff" stroke="#0000ff" stroke-width="1.1"/>
<rect x="752.0" y="1008.1" width="3.8" height="3.8" fill="#fff" stroke="#0000ff" stroke-width="1.1"/>
<rect x="774.6" y="1017.9" width="3.8" height="3.8" fill="#fff" stroke="#0000ff" stroke-width="1.1"/>
<rect x="204.7" y="897.4" width="3.8" height="3.8" fill="#fff" stroke="#0000ff" stroke-width="1.1"/>
<polygon points="207.0,602.5 210.0,605.5 207.0,608.5 204.0,605.5" fill="#ff0000"/>
<polygon points="208.8,605.9 211.8,608.9 208.8,611.9 205.8,608.9" fill="#ff0000"/>
<polygon points="210.6,603.7 213.6,606.7 210.6,609.7 207.6,606.7" fill="#ff0000"/>
<polygon points="212.4,605.0 215.4,608.0 212.4,611.0 209.4,608.0" fill="#ff0000"/>
<polygon points="214.2,606.6 217.2,609.6 214.2,612.6 211.2,609.6" fill="#ff0000"/>
<polygon points="216.0,603.6 219.0,606.6 216.0,609.6 213.0,606.6" fill="#ff0000"/>
<polygon points="217.8,604.6 220.8,607.6 217.8,610.6 214.8,607.6" fill="#ff0000"/>
<polygon points="219.6,605.9 222.6,608.9 219.6,611.9 216.6,608.9" fill="#ff0000"/>
<polygon points="221.4,602.9 224.4,605.9 221.4,608.9 218.4,605.9" fill="#ff0000"/>
<polygon points="223.2,604.1 226.2,607.1 223.2,610.1 220.2,607.1" fill="#ff0000"/>
<polygon points="225.0,605.6 228.0,608.6 225.0,611.6 222.0,608.6" fill="#ff0000"/>
<polygon points="226.8,602.8 229.8,605.8 226.8,608.8 223.8,605.8" fill="#ff0000"/>
<polygon points="228.6,604.0 231.6,607.0 228.6,610.0 225.6,607.0" fill="#ff0000"/>
<polygon points="230.4,605.6 233.4,608.6 230.4,611.6 227.4,608.6" fill="#ff0000"/>
<polygon points="232.2,602.6 235.2,605.6 232.2,608.6 229.2,605.6" fill="#ff0000"/>
<polygon points="234.0,603.6 237.0,606.6 234.0,609.6 231.0,606.6" fill="#ff0000"/>
<polygon points="235.8,605.1 238.8,608.1 235.8,611.1 232.8,608.1" fill="#ff0000"/>
<polygon points="237.6,602.3 240.6,605.3 237.6,608.3 234.6,605.3" fill="#ff0000"/>
<polygon points="239.4,603.5 242.4,606.5 239.4,609.5 236.4,606.5" fill="#ff0000"/>
<polygon points="241.2,605.6 244.2,608.6 241.2,611.6 238.2,608.6" fill="#ff0000"/>
<polygon points="243.0,603.4 246.0,606.4 243.0,609.4 240.0,606.4" fill="#ff0000"/>
<polygon points="244.8,606.6 247.8,609.6 244.8,612.6 241.8,609.6" fill="#ff0000"/>
<polygon points="246.0,609.0 249.0,612.0 246.0,615.0 243.0,612.0" fill="#ff0000"/>
<polygon points="247.0,622.0 250.0,625.0 247.0,628.0 244.0,625.0" fill="#ff0000"/>
<polygon points="249.0,636.0 252.0,639.0 249.0,642.0 246.0,639.0" fill="#ff0000"/>
<polygon points="252.0,652.0 255.0,655.0 252.0,658.0 249.0,655.0" fill="#ff0000"/>
<polygon points="253.0,667.0 256.0,670.0 253.0,673.0 250.0,670.0" fill="#ff0000"/>
<polygon points="255.0,675.0 258.0,678.0 255.0,681.0 252.0,678.0" fill="#ff0000"/>
<polygon points="259.0,684.0 262.0,687.0 259.0,690.0 256.0,687.0" fill="#ff0000"/>
<polygon points="262.0,687.0 265.0,690.0 262.0,693.0 259.0,690.0" fill="#ff0000"/>
<polygon points="265.0,690.0 268.0,693.0 265.0,696.0 262.0,693.0" fill="#ff0000"/>
<polygon points="268.0,691.2 271.0,694.2 268.0,697.2 265.0,694.2" fill="#ff0000"/>
<polygon points="271.0,692.4 274.0,695.4 271.0,698.4 268.0,695.4" fill="#ff0000"/>
<polygon points="274.0,693.6 277.0,696.6 274.0,699.6 271.0,696.6" fill="#ff0000"/>
<polygon points="277.0,694.2 280.0,697.2 277.0,700.2 274.0,697.2" fill="#ff0000"/>
<polygon points="280.0,694.5 283.0,697.5 280.0,700.5 277.0,697.5" fill="#ff0000"/>
<polygon points="283.0,694.8 286.0,697.8 283.0,700.8 280.0,697.8" fill="#ff0000"/>
<polygon points="286.0,695.1 289.0,698.1 286.0,701.1 283.0,698.1" fill="#ff0000"/>
<polygon points="289.0,695.4 292.0,698.4 289.0,701.4 286.0,698.4" fill="#ff0000"/>
<polygon points="292.0,695.7 295.0,698.7 292.0,701.7 289.0,698.7" fill="#ff0000"/>
<polygon points="295.0,696.0 298.0,699.0 295.0,702.0 292.0,699.0" fill="#ff0000"/>
<polygon points="298.0,696.3 301.0,699.3 298.0,702.3 295.0,699.3" fill="#ff0000"/>
<polygon points="301.0,696.6 304.0,699.6 301.0,702.6 298.0,699.6" fill="#ff0000"/>
<polygon points="304.0,696.9 307.0,699.9 304.0,702.9 301.0,699.9" fill="#ff0000"/>
<polygon points="307.0,697.0 310.0,700.0 307.0,703.0 304.0,700.0" fill="#ff0000"/>
<polygon points="310.0,697.0 313.0,700.0 310.0,703.0 307.0,700.0" fill="#ff0000"/>
<polygon points="313.0,697.0 316.0,700.0 313.0,703.0 310.0,700.0" fill="#ff0000"/>
<polygon points="316.0,697.0 319.0,700.0 316.0,703.0 313.0,700.0" fill="#ff0000"/>
<polygon points="319.0,697.0 322.0,700.0 319.0,703.0 316.0,700.0" fill="#ff0000"/>
<polygon points="322.0,698.5 325.0,701.5 322.0,704.5 319.0,701.5" fill="#ff0000"/>
<polygon points="325.0,700.0 328.0,703.0 325.0,706.0 322.0,703.0" fill="#ff0000"/>
<polygon points="328.0,701.2 331.0,704.2 328.0,707.2 325.0,704.2" fill="#ff0000"/>
<polygon points="331.0,702.0 334.0,705.0 331.0,708.0 328.0,705.0" fill="#ff0000"/>
<polygon points="334.0,702.8 337.0,705.8 334.0,708.8 331.0,705.8" fill="#ff0000"/>
<polygon points="337.0,703.6 340.0,706.6 337.0,709.6 334.0,706.6" fill="#ff0000"/>
<polygon points="340.0,704.5 343.0,707.5 340.0,710.5 337.0,707.5" fill="#ff0000"/>
<polygon points="343.0,705.4 346.0,708.4 343.0,711.4 340.0,708.4" fill="#ff0000"/>
<polygon points="346.0,706.2 349.0,709.2 346.0,712.2 343.0,709.2" fill="#ff0000"/>
<polygon points="349.0,706.8 352.0,709.8 349.0,712.8 346.0,709.8" fill="#ff0000"/>
<polygon points="352.0,707.4 355.0,710.4 352.0,713.4 349.0,710.4" fill="#ff0000"/>
<polygon points="355.0,708.0 358.0,711.0 355.0,714.0 352.0,711.0" fill="#ff0000"/>
<polygon points="358.0,708.9 361.0,711.9 358.0,714.9 355.0,711.9" fill="#ff0000"/>
<polygon points="361.0,709.8 364.0,712.8 361.0,715.8 358.0,712.8" fill="#ff0000"/>
<polygon points="364.0,710.7 367.0,713.7 364.0,716.7 361.0,713.7" fill="#ff0000"/>
<polygon points="367.0,711.2 370.0,714.2 367.0,717.2 364.0,714.2" fill="#ff0000"/>
<polygon points="370.0,711.5 373.0,714.5 370.0,717.5 367.0,714.5" fill="#ff0000"/>
<polygon points="373.0,711.8 376.0,714.8 373.0,717.8 370.0,714.8" fill="#ff0000"/>
<polygon points="376.0,712.1 379.0,715.1 376.0,718.1 373.0,715.1" fill="#ff0000"/>
<polygon points="379.0,712.4 382.0,715.4 379.0,718.4 376.0,715.4" fill="#ff0000"/>
<polygon points="382.0,712.7 385.0,715.7 382.0,718.7 379.0,715.7" fill="#ff0000"/>
<polygon points="385.0,713.0 388.0,716.0 385.0,719.0 382.0,716.0" fill="#ff0000"/>
<polygon points="388.0,713.3 391.0,716.3 388.0,719.3 385.0,716.3" fill="#ff0000"/>
<polygon points="391.0,713.7 394.0,716.7 391.0,719.7 388.0,716.7" fill="#ff0000"/>
<polygon points="394.0,714.0 397.0,717.0 394.0,720.0 391.0,717.0" fill="#ff0000"/>
<polygon points="400.0,716.5 403.5,720.0 400.0,723.5 396.5,720.0" fill="#ff0000"/>
<polygon points="406.0,719.5 409.5,723.0 406.0,726.5 402.5,723.0" fill="#ff0000"/>
<polygon points="412.0,725.5 415.5,729.0 412.0,732.5 408.5,729.0" fill="#ff0000"/>
<polygon points="418.0,734.5 421.5,738.0 418.0,741.5 414.5,738.0" fill="#ff0000"/>
<polygon points="426.0,746.5 429.5,750.0 426.0,753.5 422.5,750.0" fill="#ff0000"/>
<polygon points="431.5,764.1 435.0,767.6 431.5,771.1 428.0,767.6" fill="#ff0000"/>
<polygon points="438.7,780.1 442.2,783.6 438.7,787.1 435.2,783.6" fill="#ff0000"/>
<polygon points="446.5,796.2 450.0,799.7 446.5,803.2 443.0,799.7" fill="#ff0000"/>
<polygon points="453.7,809.6 457.2,813.1 453.7,816.6 450.2,813.1" fill="#ff0000"/>
<polygon points="461.1,818.6 464.6,822.1 461.1,825.6 457.6,822.1" fill="#ff0000"/>
<polygon points="469.8,824.6 473.3,828.1 469.8,831.6 466.3,828.1" fill="#ff0000"/>
<polygon points="478.2,828.2 481.7,831.7 478.2,835.2 474.7,831.7" fill="#ff0000"/>
<polygon points="486.2,833.3 489.7,836.8 486.2,840.3 482.7,836.8" fill="#ff0000"/>
<polygon points="495.2,840.7 498.7,844.2 495.2,847.7 491.7,844.2" fill="#ff0000"/>
<polygon points="505.2,852.7 508.7,856.2 505.2,859.7 501.7,856.2" fill="#ff0000"/>
<polygon points="514.2,863.1 517.7,866.6 514.2,870.1 510.7,866.6" fill="#ff0000"/>
<polygon points="524.7,877.7 528.2,881.2 524.7,884.7 521.2,881.2" fill="#ff0000"/>
<polygon points="534.9,889.4 538.4,892.9 534.9,896.4 531.4,892.9" fill="#ff0000"/>
<polygon points="546.7,897.2 550.2,900.7 546.7,904.2 543.2,900.7" fill="#ff0000"/>
<polygon points="558.7,902.8 562.2,906.3 558.7,909.8 555.2,906.3" fill="#ff0000"/>
<polygon points="570.4,901.2 573.9,904.7 570.4,908.2 566.9,904.7" fill="#ff0000"/>
<polygon points="583.4,898.2 586.9,901.7 583.4,905.2 579.9,901.7" fill="#ff0000"/>
<polygon points="597.3,894.5 600.8,898.0 597.3,901.5 593.8,898.0" fill="#ff0000"/>
<polygon points="610.7,898.6 614.2,902.1 610.7,905.6 607.2,902.1" fill="#ff0000"/>
<polygon points="625.7,908.9 629.2,912.4 625.7,915.9 622.2,912.4" fill="#ff0000"/>
<polygon points="640.9,922.2 644.4,925.7 640.9,929.2 637.4,925.7" fill="#ff0000"/>
<polygon points="656.5,931.1 660.0,934.6 656.5,938.1 653.0,934.6" fill="#ff0000"/>
<polygon points="674.0,939.9 677.5,943.4 674.0,946.9 670.5,943.4" fill="#ff0000"/>
<polygon points="692.4,949.6 695.9,953.1 692.4,956.6 688.9,953.1" fill="#ff0000"/>
<polygon points="711.3,958.8 714.8,962.3 711.3,965.8 707.8,962.3" fill="#ff0000"/>
<polygon points="731.9,974.0 735.4,977.5 731.9,981.0 728.4,977.5" fill="#ff0000"/>
<polygon points="753.9,985.9 757.4,989.4 753.9,992.9 750.4,989.4" fill="#ff0000"/>
<polygon points="776.5,992.1 780.0,995.6 776.5,999.1 773.0,995.6" fill="#ff0000"/>
<polygon points="201.5,594.0 205.0,597.5 201.5,601.0 198.0,597.5" fill="#ff0000"/>
<polygon points="204.5,588.0 208.0,591.5 204.5,595.0 201.0,591.5" fill="#ff0000"/>
</g>
<rect x="197.0" y="587.6" width="588.9" height="471.4" fill="none" stroke="#000" stroke-width="1.5"/>
<path d="M209.4,1059.0v-3.8M209.4,587.6v3.8M231.6,1059.0v-3.8M231.6,587.6v3.8M253.7,1059.0v-7.8M253.7,587.6v7.8M275.8,1059.0v-3.8M275.8,587.6v3.8M298.0,1059.0v-3.8M298.0,587.6v3.8M320.1,1059.0v-3.8M320.1,587.6v3.8M342.3,1059.0v-3.8M342.3,587.6v3.8M364.4,1059.0v-7.8M364.4,587.6v7.8M386.5,1059.0v-3.8M386.5,587.6v3.8M408.7,1059.0v-3.8M408.7,587.6v3.8M430.8,1059.0v-3.8M430.8,587.6v3.8M453.0,1059.0v-3.8M453.0,587.6v3.8M475.1,1059.0v-7.8M475.1,587.6v7.8M497.2,1059.0v-3.8M497.2,587.6v3.8M519.4,1059.0v-3.8M519.4,587.6v3.8M541.5,1059.0v-3.8M541.5,587.6v3.8M563.7,1059.0v-3.8M563.7,587.6v3.8M585.8,1059.0v-7.8M585.8,587.6v7.8M607.9,1059.0v-3.8M607.9,587.6v3.8M630.1,1059.0v-3.8M630.1,587.6v3.8M652.2,1059.0v-3.8M652.2,587.6v3.8M674.4,1059.0v-3.8M674.4,587.6v3.8M696.5,1059.0v-7.8M696.5,587.6v7.8M718.6,1059.0v-3.8M718.6,587.6v3.8M740.8,1059.0v-3.8M740.8,587.6v3.8M762.9,1059.0v-3.8M762.9,587.6v3.8M197.0,1048.9h3.8M785.9,1048.9h-3.8M197.0,1039.9h3.8M785.9,1039.9h-3.8M197.0,1032.0h3.8M785.9,1032.0h-3.8M197.0,1025.0h3.8M785.9,1025.0h-3.8M197.0,1018.8h7.8M785.9,1018.8h-7.8M197.0,977.9h3.8M785.9,977.9h-3.8M197.0,954.0h3.8M785.9,954.0h-3.8M197.0,937.0h3.8M785.9,937.0h-3.8M197.0,923.8h3.8M785.9,923.8h-3.8M197.0,913.0h3.8M785.9,913.0h-3.8M197.0,904.0h3.8M785.9,904.0h-3.8M197.0,896.1h3.8M785.9,896.1h-3.8M197.0,889.1h3.8M785.9,889.1h-3.8M197.0,882.9h7.8M785.9,882.9h-7.8M197.0,842.0h3.8M785.9,842.0h-3.8M197.0,818.1h3.8M785.9,818.1h-3.8M197.0,801.1h3.8M785.9,801.1h-3.8M197.0,787.9h3.8M785.9,787.9h-3.8M197.0,777.1h3.8M785.9,777.1h-3.8M197.0,768.1h3.8M785.9,768.1h-3.8M197.0,760.2h3.8M785.9,760.2h-3.8M197.0,753.2h3.8M785.9,753.2h-3.8M197.0,747.0h7.8M785.9,747.0h-7.8M197.0,706.1h3.8M785.9,706.1h-3.8M197.0,682.2h3.8M785.9,682.2h-3.8M197.0,665.2h3.8M785.9,665.2h-3.8M197.0,652.0h3.8M785.9,652.0h-3.8M197.0,641.2h3.8M785.9,641.2h-3.8M197.0,632.2h3.8M785.9,632.2h-3.8M197.0,624.3h3.8M785.9,624.3h-3.8M197.0,617.3h3.8M785.9,617.3h-3.8M197.0,611.1h7.8M785.9,611.1h-7.8" stroke="#000" stroke-width="1.3" fill="none"/>
<text x="254.0" y="1095.4" font-family="Liberation Serif" font-size="35.5" text-anchor="middle" >10</text>
<text x="364.7" y="1095.4" font-family="Liberation Serif" font-size="35.5" text-anchor="middle" >15</text>
<text x="475.40000000000003" y="1095.4" font-family="Liberation Serif" font-size="35.5" text-anchor="middle" >20</text>
<text x="586.0999999999999" y="1095.4" font-family="Liberation Serif" font-size="35.5" text-anchor="middle" >25</text>
<text x="696.8" y="1095.4" font-family="Liberation Serif" font-size="35.5" text-anchor="middle" >30</text>
<text x="186" y="623.7" font-family="Liberation Serif" font-size="35.5" text-anchor="end">10<tspan dy="-18.6" font-size="22">0</tspan></text>
<text x="186" y="759.6" font-family="Liberation Serif" font-size="35.5" text-anchor="end">10<tspan dy="-18.6" font-size="22">-1</tspan></text>
<text x="186" y="895.5" font-family="Liberation Serif" font-size="35.5" text-anchor="end">10<tspan dy="-18.6" font-size="22">-2</tspan></text>
<text x="186" y="1031.4" font-family="Liberation Serif" font-size="35.5" text-anchor="end">10<tspan dy="-18.6" font-size="22">-3</tspan></text>
<text x="795.5" y="623.7" font-family="Liberation Serif" font-size="35.5">10<tspan dy="-18.6" font-size="22">6</tspan></text>
<text x="795.5" y="759.6" font-family="Liberation Serif" font-size="35.5">10<tspan dy="-18.6" font-size="22">5</tspan></text>
<text x="795.5" y="895.5" font-family="Liberation Serif" font-size="35.5">10<tspan dy="-18.6" font-size="22">4</tspan></text>
<text x="795.5" y="1031.4" font-family="Liberation Serif" font-size="35.5">10<tspan dy="-18.6" font-size="22">3</tspan></text>
<text transform="translate(113.8,1025.8) rotate(-90)" font-family="Liberation Serif" font-size="43.5" textLength="349" lengthAdjust="spacingAndGlyphs">Neutron Reflectivity</text>
<text transform="translate(872.7,603.5) rotate(90)" font-family="Liberation Serif" font-size="42" textLength="453.5" lengthAdjust="spacingAndGlyphs">Neutron Intensity [Counts]</text>
<text x="362.7" y="1156.9" font-family="Liberation Serif" font-size="36.5" >q</text>
<text x="381.4" y="1173.7" font-family="Liberation Serif" font-size="21" >z</text>
<text x="404.6" y="1159.3" font-family="Liberation Serif" font-size="41" >[</text>
<text x="417.0" y="1158.5" font-family="Liberation Serif" font-size="42" >×</text>
<text x="443.0" y="1156.6" font-family="Liberation Serif" font-size="36" textLength="39.5" lengthAdjust="spacingAndGlyphs">10</text>
<text x="485.0" y="1131.2" font-family="Liberation Serif" font-size="28.5" >-3</text>
<text x="518.7" y="1158" font-family="Liberation Serif" font-size="39.5" >Å</text>
<text x="550.4" y="1134.2" font-family="Liberation Serif" font-size="23" >-1</text>
<text x="570.3" y="1159.3" font-family="Liberation Serif" font-size="41" >]</text>
<text x="279.2" y="659.1" font-family="Liberation Serif" font-size="65" text-anchor="start" >R</text>
<text x="541.4" y="696.5" font-family="Liberation Serif" font-size="66" text-anchor="start" >I</text>
<text x="563.6" y="710.6" font-family="Liberation Serif" font-size="43" text-anchor="start" >o</text>
<text x="227.6" y="901.9" font-family="Liberation Serif" font-size="66" text-anchor="start" >I</text>
<text x="248.9" y="916.6" font-family="Liberation Serif" font-size="43" text-anchor="start" >R</text>
<line x1="594.2" y1="677.4" x2="699.5" y2="677.4" stroke="#000" stroke-width="2.7"/><polygon points="707.5,677.4 695.5,671.8 695.5,683.0" fill="#000"/>
<line x1="284" y1="868" x2="389" y2="868" stroke="#000" stroke-width="2.7"/><polygon points="397,868 385,862.4 385,873.6" fill="#000"/>
<line x1="212.5" y1="662.5" x2="245" y2="662.5" stroke="#000" stroke-width="2.7"/><polygon points="204.5,662.5 215.5,656.9 215.5,668.1" fill="#000"/>
<g shape-rendering="crispEdges"><rect x="54.20" y="1298.90" width="20.71" height="11.82" fill="#000000"/><rect x="74.91" y="1298.90" width="20.71" height="11.82" fill="#ff4826"/><rect x="95.61" y="1298.90" width="20.71" height="11.82" fill="#f85e18"/><rect x="116.32" y="1298.90" width="20.71" height="11.82" fill="#ff4826"/><rect x="137.02" y="1298.90" width="20.71" height="11.82" fill="#e44444"/><rect x="157.73" y="1298.90" width="20.71" height="11.82" fill="#a03a8a"/><rect x="178.43" y="1298.90" width="20.71" height="11.82" fill="#000000"/><rect x="199.14" y="1298.90" width="20.71" height="11.82" fill="#c44068"/><rect x="219.84" y="1298.90" width="20.71" height="11.82" fill="#000000"/><rect x="240.55" y="1298.90" width="20.71" height="11.82" fill="#e44444"/><rect x="261.26" y="1298.90" width="20.71" height="11.82" fill="#000000"/><rect x="281.96" y="1298.90" width="20.71" height="11.82" fill="#000000"/><rect x="302.67" y="1298.90" width="20.71" height="11.82" fill="#a03a8a"/><rect x="323.37" y="1298.90" width="20.71" height="11.82" fill="#000000"/><rect x="344.08" y="1298.90" width="20.71" height="11.82" fill="#000000"/><rect x="364.78" y="1298.90" width="20.71" height="11.82" fill="#c44068"/><rect x="385.49" y="1298.90" width="20.71" height="11.82" fill="#000000"/><rect x="406.19" y="1298.90" width="20.71" height="11.82" fill="#000000"/><rect x="54.20" y="1310.72" width="20.71" height="11.82" fill="#e44444"/><rect x="74.91" y="1310.72" width="20.71" height="11.82" fill="#a03a8a"/><rect x="95.61" y="1310.72" width="20.71" height="11.82" fill="#000000"/><rect x="116.32" y="1310.72" width="20.71" height="11.82" fill="#000000"/><rect x="137.02" y="1310.72" width="20.71" height="11.82" fill="#000000"/><rect x="157.73" y="1310.72" width="20.71" height="11.82" fill="#000000"/><rect x="178.43" y="1310.72" width="20.71" height="11.82" fill="#000000"/><rect x="199.14" y="1310.72" width="20.71" height="11.82" fill="#000000"/><rect x="219.84" y="1310.72" width="20.71" height="11.82" fill="#e44444"/><rect x="240.55" y="1310.72" width="20.71" height="11.82" fill="#000000"/><rect x="261.26" y="1310.72" width="20.71" height="11.82" fill="#e44444"/><rect x="281.96" y="1310.72" width="20.71" height="11.82" fill="#a03a8a"/><rect x="302.67" y="1310.72" width="20.71" height="11.82" fill="#000000"/><rect x="323.37" y="1310.72" width="20.71" height="11.82" fill="#e44444"/><rect x="344.08" y="1310.72" width="20.71" height="11.82" fill="#000000"/><rect x="364.78" y="1310.72" width="20.71" height="11.82" fill="#f85e18"/><rect x="385.49" y="1310.72" width="20.71" height="11.82" fill="#ff4826"/><rect x="406.19" y="1310.72" width="20.71" height="11.82" fill="#f85e18"/><rect x="54.20" y="1322.54" width="20.71" height="11.82" fill="#000000"/><rect x="74.91" y="1322.54" width="20.71" height="11.82" fill="#000000"/><rect x="95.61" y="1322.54" width="20.71" height="11.82" fill="#000000"/><rect x="116.32" y="1322.54" width="20.71" height="11.82" fill="#e44444"/><rect x="137.02" y="1322.54" width="20.71" height="11.82" fill="#c44068"/><rect x="157.73" y="1322.54" width="20.71" height="11.82" fill="#000000"/><rect x="178.43" y="1322.54" width="20.71" height="11.82" fill="#000000"/><rect x="199.14" y="1322.54" width="20.71" height="11.82" fill="#000000"/><rect x="219.84" y="1322.54" width="20.71" height="11.82" fill="#f85e18"/><rect x="240.55" y="1322.54" width="20.71" height="11.82" fill="#000000"/><rect x="261.26" y="1322.54" width="20.71" height="11.82" fill="#f85e18"/><rect x="281.96" y="1322.54" width="20.71" height="11.82" fill="#ec780c"/><rect x="302.67" y="1322.54" width="20.71" height="11.82" fill="#a03a8a"/><rect x="323.37" y="1322.54" width="20.71" height="11.82" fill="#000000"/><rect x="344.08" y="1322.54" width="20.71" height="11.82" fill="#e44444"/><rect x="364.78" y="1322.54" width="20.71" height="11.82" fill="#f85e18"/><rect x="385.49" y="1322.54" width="20.71" height="11.82" fill="#ec780c"/><rect x="406.19" y="1322.54" width="20.71" height="11.82" fill="#ec780c"/><rect x="54.20" y="1334.36" width="20.71" height="11.82" fill="#e44444"/><rect x="74.91" y="1334.36" width="20.71" height="11.82" fill="#000000"/><rect x="95.61" y="1334.36" width="20.71" height="11.82" fill="#e44444"/><rect x="116.32" y="1334.36" width="20.71" height="11.82" fill="#000000"/><rect x="137.02" y="1334.36" width="20.71" height="11.82" fill="#000000"/><rect x="157.73" y="1334.36" width="20.71" height="11.82" fill="#000000"/><rect x="178.43" y="1334.36" width="20.71" height="11.82" fill="#000000"/><rect x="199.14" y="1334.36" width="20.71" height="11.82" fill="#ec780c"/><rect x="219.84" y="1334.36" width="20.71" height="11.82" fill="#f85e18"/><rect x="240.55" y="1334.36" width="20.71" height="11.82" fill="#f85e18"/><rect x="261.26" y="1334.36" width="20.71" height="11.82" fill="#ec780c"/><rect x="281.96" y="1334.36" width="20.71" height="11.82" fill="#f85e18"/><rect x="302.67" y="1334.36" width="20.71" height="11.82" fill="#ec780c"/><rect x="323.37" y="1334.36" width="20.71" height="11.82" fill="#e6920e"/><rect x="344.08" y="1334.36" width="20.71" height="11.82" fill="#ec780c"/><rect x="364.78" y="1334.36" width="20.71" height="11.82" fill="#e6920e"/><rect x="385.49" y="1334.36" width="20.71" height="11.82" fill="#e6920e"/><rect x="406.19" y="1334.36" width="20.71" height="11.82" fill="#e1a012"/><rect x="54.20" y="1346.18" width="20.71" height="11.82" fill="#f85e18"/><rect x="74.91" y="1346.18" width="20.71" height="11.82" fill="#f85e18"/><rect x="95.61" y="1346.18" width="20.71" height="11.82" fill="#f85e18"/><rect x="116.32" y="1346.18" width="20.71" height="11.82" fill="#c44068"/><rect x="137.02" y="1346.18" width="20.71" height="11.82" fill="#000000"/><rect x="157.73" y="1346.18" width="20.71" height="11.82" fill="#c44068"/><rect x="178.43" y="1346.18" width="20.71" height="11.82" fill="#ec780c"/><rect x="199.14" y="1346.18" width="20.71" height="11.82" fill="#e6920e"/><rect x="219.84" y="1346.18" width="20.71" height="11.82" fill="#e6920e"/><rect x="240.55" y="1346.18" width="20.71" height="11.82" fill="#e6920e"/><rect x="261.26" y="1346.18" width="20.71" height="11.82" fill="#e6920e"/><rect x="281.96" y="1346.18" width="20.71" height="11.82" fill="#ec780c"/><rect x="302.67" y="1346.18" width="20.71" height="11.82" fill="#e6920e"/><rect x="323.37" y="1346.18" width="20.71" height="11.82" fill="#e1a012"/><rect x="344.08" y="1346.18" width="20.71" height="11.82" fill="#e6920e"/><rect x="364.78" y="1346.18" width="20.71" height="11.82" fill="#e6920e"/><rect x="385.49" y="1346.18" width="20.71" height="11.82" fill="#e6920e"/><rect x="406.19" y="1346.18" width="20.71" height="11.82" fill="#e1a012"/><rect x="54.20" y="1358.00" width="20.71" height="11.82" fill="#ec780c"/><rect x="74.91" y="1358.00" width="20.71" height="11.82" fill="#e6920e"/><rect x="95.61" y="1358.00" width="20.71" height="11.82" fill="#f85e18"/><rect x="116.32" y="1358.00" width="20.71" height="11.82" fill="#000000"/><rect x="137.02" y="1358.00" width="20.71" height="11.82" fill="#f85e18"/><rect x="157.73" y="1358.00" width="20.71" height="11.82" fill="#e6920e"/><rect x="178.43" y="1358.00" width="20.71" height="11.82" fill="#e6920e"/><rect x="199.14" y="1358.00" width="20.71" height="11.82" fill="#e6920e"/><rect x="219.84" y="1358.00" width="20.71" height="11.82" fill="#e6920e"/><rect x="240.55" y="1358.00" width="20.71" height="11.82" fill="#e6920e"/><rect x="261.26" y="1358.00" width="20.71" height="11.82" fill="#ec780c"/><rect x="281.96" y="1358.00" width="20.71" height="11.82" fill="#e1a012"/><rect x="302.67" y="1358.00" width="20.71" height="11.82" fill="#e6920e"/><rect x="323.37" y="1358.00" width="20.71" height="11.82" fill="#e1a012"/><rect x="344.08" y="1358.00" width="20.71" height="11.82" fill="#e1a012"/><rect x="364.78" y="1358.00" width="20.71" height="11.82" fill="#e6920e"/><rect x="385.49" y="1358.00" width="20.71" height="11.82" fill="#e1a012"/><rect x="406.19" y="1358.00" width="20.71" height="11.82" fill="#e6920e"/><rect x="54.20" y="1369.82" width="20.71" height="11.82" fill="#ec780c"/><rect x="74.91" y="1369.82" width="20.71" height="11.82" fill="#e6920e"/><rect x="95.61" y="1369.82" width="20.71" height="11.82" fill="#f85e18"/><rect x="116.32" y="1369.82" width="20.71" height="11.82" fill="#f85e18"/><rect x="137.02" y="1369.82" width="20.71" height="11.82" fill="#f85e18"/><rect x="157.73" y="1369.82" width="20.71" height="11.82" fill="#e6920e"/><rect x="178.43" y="1369.82" width="20.71" height="11.82" fill="#e6920e"/><rect x="199.14" y="1369.82" width="20.71" height="11.82" fill="#f85e18"/><rect x="219.84" y="1369.82" width="20.71" height="11.82" fill="#e6920e"/><rect x="240.55" y="1369.82" width="20.71" height="11.82" fill="#ec780c"/><rect x="261.26" y="1369.82" width="20.71" height="11.82" fill="#e0ba1e"/><rect x="281.96" y="1369.82" width="20.71" height="11.82" fill="#e0ba1e"/><rect x="302.67" y="1369.82" width="20.71" height="11.82" fill="#e1a012"/><rect x="323.37" y="1369.82" width="20.71" height="11.82" fill="#e1a012"/><rect x="344.08" y="1369.82" width="20.71" height="11.82" fill="#e1a012"/><rect x="364.78" y="1369.82" width="20.71" height="11.82" fill="#e6920e"/><rect x="385.49" y="1369.82" width="20.71" height="11.82" fill="#e6920e"/><rect x="406.19" y="1369.82" width="20.71" height="11.82" fill="#e6920e"/><rect x="54.20" y="1381.64" width="20.71" height="11.82" fill="#ec780c"/><rect x="74.91" y="1381.64" width="20.71" height="11.82" fill="#f85e18"/><rect x="95.61" y="1381.64" width="20.71" height="11.82" fill="#a03a8a"/><rect x="116.32" y="1381.64" width="20.71" height="11.82" fill="#f85e18"/><rect x="137.02" y="1381.64" width="20.71" height="11.82" fill="#e6920e"/><rect x="157.73" y="1381.64" width="20.71" height="11.82" fill="#f85e18"/><rect x="178.43" y="1381.64" width="20.71" height="11.82" fill="#e6920e"/><rect x="199.14" y="1381.64" width="20.71" height="11.82" fill="#e6920e"/><rect x="219.84" y="1381.64" width="20.71" height="11.82" fill="#e1a012"/><rect x="240.55" y="1381.64" width="20.71" height="11.82" fill="#e1a012"/><rect x="261.26" y="1381.64" width="20.71" height="11.82" fill="#e0ba1e"/><rect x="281.96" y="1381.64" width="20.71" height="11.82" fill="#e1a012"/><rect x="302.67" y="1381.64" width="20.71" height="11.82" fill="#e1a012"/><rect x="323.37" y="1381.64" width="20.71" height="11.82" fill="#e1a012"/><rect x="344.08" y="1381.64" width="20.71" height="11.82" fill="#e6920e"/><rect x="364.78" y="1381.64" width="20.71" height="11.82" fill="#ec780c"/><rect x="385.49" y="1381.64" width="20.71" height="11.82" fill="#ff4826"/><rect x="406.19" y="1381.64" width="20.71" height="11.82" fill="#e1a012"/><rect x="54.20" y="1393.45" width="20.71" height="11.82" fill="#a03a8a"/><rect x="74.91" y="1393.45" width="20.71" height="11.82" fill="#a03a8a"/><rect x="95.61" y="1393.45" width="20.71" height="11.82" fill="#f85e18"/><rect x="116.32" y="1393.45" width="20.71" height="11.82" fill="#e6920e"/><rect x="137.02" y="1393.45" width="20.71" height="11.82" fill="#e1a012"/><rect x="157.73" y="1393.45" width="20.71" height="11.82" fill="#e6920e"/><rect x="178.43" y="1393.45" width="20.71" height="11.82" fill="#e6920e"/><rect x="199.14" y="1393.45" width="20.71" height="11.82" fill="#e1a012"/><rect x="219.84" y="1393.45" width="20.71" height="11.82" fill="#e1a012"/><rect x="240.55" y="1393.45" width="20.71" height="11.82" fill="#e1a012"/><rect x="261.26" y="1393.45" width="20.71" height="11.82" fill="#e6920e"/><rect x="281.96" y="1393.45" width="20.71" height="11.82" fill="#e1a012"/><rect x="302.67" y="1393.45" width="20.71" height="11.82" fill="#e1a012"/><rect x="323.37" y="1393.45" width="20.71" height="11.82" fill="#e0ba1e"/><rect x="344.08" y="1393.45" width="20.71" height="11.82" fill="#e1a012"/><rect x="364.78" y="1393.45" width="20.71" height="11.82" fill="#e6920e"/><rect x="385.49" y="1393.45" width="20.71" height="11.82" fill="#ec780c"/><rect x="406.19" y="1393.45" width="20.71" height="11.82" fill="#ec780c"/><rect x="54.20" y="1405.27" width="20.71" height="11.82" fill="#000000"/><rect x="74.91" y="1405.27" width="20.71" height="11.82" fill="#000000"/><rect x="95.61" y="1405.27" width="20.71" height="11.82" fill="#ec780c"/><rect x="116.32" y="1405.27" width="20.71" height="11.82" fill="#e1a012"/><rect x="137.02" y="1405.27" width="20.71" height="11.82" fill="#e1a012"/><rect x="157.73" y="1405.27" width="20.71" height="11.82" fill="#e6920e"/><rect x="178.43" y="1405.27" width="20.71" height="11.82" fill="#e1a012"/><rect x="199.14" y="1405.27" width="20.71" height="11.82" fill="#e6920e"/><rect x="219.84" y="1405.27" width="20.71" height="11.82" fill="#e6920e"/><rect x="240.55" y="1405.27" width="20.71" height="11.82" fill="#e1a012"/><rect x="261.26" y="1405.27" width="20.71" height="11.82" fill="#e1a012"/><rect x="281.96" y="1405.27" width="20.71" height="11.82" fill="#e6920e"/><rect x="302.67" y="1405.27" width="20.71" height="11.82" fill="#e0ba1e"/><rect x="323.37" y="1405.27" width="20.71" height="11.82" fill="#e0ba1e"/><rect x="344.08" y="1405.27" width="20.71" height="11.82" fill="#e1a012"/><rect x="364.78" y="1405.27" width="20.71" height="11.82" fill="#e6920e"/><rect x="385.49" y="1405.27" width="20.71" height="11.82" fill="#ec780c"/><rect x="406.19" y="1405.27" width="20.71" height="11.82" fill="#ff4826"/><rect x="54.20" y="1417.09" width="20.71" height="11.82" fill="#000000"/><rect x="74.91" y="1417.09" width="20.71" height="11.82" fill="#000000"/><rect x="95.61" y="1417.09" width="20.71" height="11.82" fill="#e1a012"/><rect x="116.32" y="1417.09" width="20.71" height="11.82" fill="#e1a012"/><rect x="137.02" y="1417.09" width="20.71" height="11.82" fill="#e0ba1e"/><rect x="157.73" y="1417.09" width="20.71" height="11.82" fill="#e1a012"/><rect x="178.43" y="1417.09" width="20.71" height="11.82" fill="#e1a012"/><rect x="199.14" y="1417.09" width="20.71" height="11.82" fill="#e1a012"/><rect x="219.84" y="1417.09" width="20.71" height="11.82" fill="#e1a012"/><rect x="240.55" y="1417.09" width="20.71" height="11.82" fill="#e1a012"/><rect x="261.26" y="1417.09" width="20.71" height="11.82" fill="#e1a012"/><rect x="281.96" y="1417.09" width="20.71" height="11.82" fill="#e0ba1e"/><rect x="302.67" y="1417.09" width="20.71" height="11.82" fill="#e1a012"/><rect x="323.37" y="1417.09" width="20.71" height="11.82" fill="#e1a012"/><rect x="344.08" y="1417.09" width="20.71" height="11.82" fill="#e0ba1e"/><rect x="364.78" y="1417.09" width="20.71" height="11.82" fill="#e1a012"/><rect x="385.49" y="1417.09" width="20.71" height="11.82" fill="#e6920e"/><rect x="406.19" y="1417.09" width="20.71" height="11.82" fill="#ff4826"/><rect x="54.20" y="1428.91" width="20.71" height="11.82" fill="#e44444"/><rect x="74.91" y="1428.91" width="20.71" height="11.82" fill="#e6920e"/><rect x="95.61" y="1428.91" width="20.71" height="11.82" fill="#f85e18"/><rect x="116.32" y="1428.91" width="20.71" height="11.82" fill="#e6920e"/><rect x="137.02" y="1428.91" width="20.71" height="11.82" fill="#e0ba1e"/><rect x="157.73" y="1428.91" width="20.71" height="11.82" fill="#e0ba1e"/><rect x="178.43" y="1428.91" width="20.71" height="11.82" fill="#e1a012"/><rect x="199.14" y="1428.91" width="20.71" height="11.82" fill="#e1a012"/><rect x="219.84" y="1428.91" width="20.71" height="11.82" fill="#e1a012"/><rect x="240.55" y="1428.91" width="20.71" height="11.82" fill="#e0ba1e"/><rect x="261.26" y="1428.91" width="20.71" height="11.82" fill="#e1a012"/><rect x="281.96" y="1428.91" width="20.71" height="11.82" fill="#e1a012"/><rect x="302.67" y="1428.91" width="20.71" height="11.82" fill="#e1a012"/><rect x="323.37" y="1428.91" width="20.71" height="11.82" fill="#e1a012"/><rect x="344.08" y="1428.91" width="20.71" height="11.82" fill="#e0ba1e"/><rect x="364.78" y="1428.91" width="20.71" height="11.82" fill="#e0ba1e"/><rect x="385.49" y="1428.91" width="20.71" height="11.82" fill="#e1a012"/><rect x="406.19" y="1428.91" width="20.71" height="11.82" fill="#e6920e"/><rect x="54.20" y="1440.73" width="20.71" height="11.82" fill="#e6920e"/><rect x="74.91" y="1440.73" width="20.71" height="11.82" fill="#e6920e"/><rect x="95.61" y="1440.73" width="20.71" height="11.82" fill="#e1a012"/><rect x="116.32" y="1440.73" width="20.71" height="11.82" fill="#e1a012"/><rect x="137.02" y="1440.73" width="20.71" height="11.82" fill="#e0ba1e"/><rect x="157.73" y="1440.73" width="20.71" height="11.82" fill="#e0ba1e"/><rect x="178.43" y="1440.73" width="20.71" height="11.82" fill="#e1a012"/><rect x="199.14" y="1440.73" width="20.71" height="11.82" fill="#e1a012"/><rect x="219.84" y="1440.73" width="20.71" height="11.82" fill="#e6920e"/><rect x="240.55" y="1440.73" width="20.71" height="11.82" fill="#e1a012"/><rect x="261.26" y="1440.73" width="20.71" height="11.82" fill="#e0ba1e"/><rect x="281.96" y="1440.73" width="20.71" height="11.82" fill="#e6920e"/><rect x="302.67" y="1440.73" width="20.71" height="11.82" fill="#e6920e"/><rect x="323.37" y="1440.73" width="20.71" height="11.82" fill="#e6920e"/><rect x="344.08" y="1440.73" width="20.71" height="11.82" fill="#e6920e"/><rect x="364.78" y="1440.73" width="20.71" height="11.82" fill="#e1a012"/><rect x="385.49" y="1440.73" width="20.71" height="11.82" fill="#e1a012"/><rect x="406.19" y="1440.73" width="20.71" height="11.82" fill="#e0ba1e"/><rect x="54.20" y="1452.55" width="20.71" height="11.82" fill="#e0ba1e"/><rect x="74.91" y="1452.55" width="20.71" height="11.82" fill="#e1a012"/><rect x="95.61" y="1452.55" width="20.71" height="11.82" fill="#e1a012"/><rect x="116.32" y="1452.55" width="20.71" height="11.82" fill="#e1a012"/><rect x="137.02" y="1452.55" width="20.71" height="11.82" fill="#e0ba1e"/><rect x="157.73" y="1452.55" width="20.71" height="11.82" fill="#e1a012"/><rect x="178.43" y="1452.55" width="20.71" height="11.82" fill="#e1a012"/><rect x="199.14" y="1452.55" width="20.71" height="11.82" fill="#ec780c"/><rect x="219.84" y="1452.55" width="20.71" height="11.82" fill="#ec780c"/><rect x="240.55" y="1452.55" width="20.71" height="11.82" fill="#ec780c"/><rect x="261.26" y="1452.55" width="20.71" height="11.82" fill="#ec780c"/><rect x="281.96" y="1452.55" width="20.71" height="11.82" fill="#ec780c"/><rect x="302.67" y="1452.55" width="20.71" height="11.82" fill="#ec780c"/><rect x="323.37" y="1452.55" width="20.71" height="11.82" fill="#ec780c"/><rect x="344.08" y="1452.55" width="20.71" height="11.82" fill="#e6920e"/><rect x="364.78" y="1452.55" width="20.71" height="11.82" fill="#e6920e"/><rect x="385.49" y="1452.55" width="20.71" height="11.82" fill="#e0ba1e"/><rect x="406.19" y="1452.55" width="20.71" height="11.82" fill="#e0ba1e"/><rect x="54.20" y="1464.37" width="20.71" height="11.82" fill="#e0cc44"/><rect x="74.91" y="1464.37" width="20.71" height="11.82" fill="#e0ba1e"/><rect x="95.61" y="1464.37" width="20.71" height="11.82" fill="#e1a012"/><rect x="116.32" y="1464.37" width="20.71" height="11.82" fill="#e1a012"/><rect x="137.02" y="1464.37" width="20.71" height="11.82" fill="#e1a012"/><rect x="157.73" y="1464.37" width="20.71" height="11.82" fill="#e1a012"/><rect x="178.43" y="1464.37" width="20.71" height="11.82" fill="#e1a012"/><rect x="199.14" y="1464.37" width="20.71" height="11.82" fill="#ec780c"/><rect x="219.84" y="1464.37" width="20.71" height="11.82" fill="#f85e18"/><rect x="240.55" y="1464.37" width="20.71" height="11.82" fill="#c44068"/><rect x="261.26" y="1464.37" width="20.71" height="11.82" fill="#f85e18"/><rect x="281.96" y="1464.37" width="20.71" height="11.82" fill="#ec780c"/><rect x="302.67" y="1464.37" width="20.71" height="11.82" fill="#e44444"/><rect x="323.37" y="1464.37" width="20.71" height="11.82" fill="#f85e18"/><rect x="344.08" y="1464.37" width="20.71" height="11.82" fill="#e6920e"/><rect x="364.78" y="1464.37" width="20.71" height="11.82" fill="#ec780c"/><rect x="385.49" y="1464.37" width="20.71" height="11.82" fill="#e1a012"/><rect x="406.19" y="1464.37" width="20.71" height="11.82" fill="#e6920e"/><rect x="54.20" y="1476.19" width="20.71" height="11.82" fill="#e0cc44"/><rect x="74.91" y="1476.19" width="20.71" height="11.82" fill="#e0cc44"/><rect x="95.61" y="1476.19" width="20.71" height="11.82" fill="#e0ba1e"/><rect x="116.32" y="1476.19" width="20.71" height="11.82" fill="#e1a012"/><rect x="137.02" y="1476.19" width="20.71" height="11.82" fill="#ec780c"/><rect x="157.73" y="1476.19" width="20.71" height="11.82" fill="#f85e18"/><rect x="178.43" y="1476.19" width="20.71" height="11.82" fill="#f85e18"/><rect x="199.14" y="1476.19" width="20.71" height="11.82" fill="#ec780c"/><rect x="219.84" y="1476.19" width="20.71" height="11.82" fill="#ff4826"/><rect x="240.55" y="1476.19" width="20.71" height="11.82" fill="#000000"/><rect x="261.26" y="1476.19" width="20.71" height="11.82" fill="#f85e18"/><rect x="281.96" y="1476.19" width="20.71" height="11.82" fill="#ff4826"/><rect x="302.67" y="1476.19" width="20.71" height="11.82" fill="#ff4826"/><rect x="323.37" y="1476.19" width="20.71" height="11.82" fill="#f85e18"/><rect x="344.08" y="1476.19" width="20.71" height="11.82" fill="#f85e18"/><rect x="364.78" y="1476.19" width="20.71" height="11.82" fill="#ec780c"/><rect x="385.49" y="1476.19" width="20.71" height="11.82" fill="#e6920e"/><rect x="406.19" y="1476.19" width="20.71" height="11.82" fill="#e1a012"/><rect x="54.20" y="1488.01" width="20.71" height="11.82" fill="#e0cc44"/><rect x="74.91" y="1488.01" width="20.71" height="11.82" fill="#e0cc44"/><rect x="95.61" y="1488.01" width="20.71" height="11.82" fill="#e0cc44"/><rect x="116.32" y="1488.01" width="20.71" height="11.82" fill="#e0ba1e"/><rect x="137.02" y="1488.01" width="20.71" height="11.82" fill="#ec780c"/><rect x="157.73" y="1488.01" width="20.71" height="11.82" fill="#f85e18"/><rect x="178.43" y="1488.01" width="20.71" height="11.82" fill="#ec780c"/><rect x="199.14" y="1488.01" width="20.71" height="11.82" fill="#ec780c"/><rect x="219.84" y="1488.01" width="20.71" height="11.82" fill="#f85e18"/><rect x="240.55" y="1488.01" width="20.71" height="11.82" fill="#f85e18"/><rect x="261.26" y="1488.01" width="20.71" height="11.82" fill="#000000"/><rect x="281.96" y="1488.01" width="20.71" height="11.82" fill="#ec780c"/><rect x="302.67" y="1488.01" width="20.71" height="11.82" fill="#f85e18"/><rect x="323.37" y="1488.01" width="20.71" height="11.82" fill="#c44068"/><rect x="344.08" y="1488.01" width="20.71" height="11.82" fill="#c44068"/><rect x="364.78" y="1488.01" width="20.71" height="11.82" fill="#f85e18"/><rect x="385.49" y="1488.01" width="20.71" height="11.82" fill="#f85e18"/><rect x="406.19" y="1488.01" width="20.71" height="11.82" fill="#e1a012"/><rect x="54.20" y="1499.83" width="20.71" height="11.82" fill="#e0cc44"/><rect x="74.91" y="1499.83" width="20.71" height="11.82" fill="#e0cc44"/><rect x="95.61" y="1499.83" width="20.71" height="11.82" fill="#e0ba1e"/><rect x="116.32" y="1499.83" width="20.71" height="11.82" fill="#e0ba1e"/><rect x="137.02" y="1499.83" width="20.71" height="11.82" fill="#e1a012"/><rect x="157.73" y="1499.83" width="20.71" height="11.82" fill="#e1a012"/><rect x="178.43" y="1499.83" width="20.71" height="11.82" fill="#e6920e"/><rect x="199.14" y="1499.83" width="20.71" height="11.82" fill="#e6920e"/><rect x="219.84" y="1499.83" width="20.71" height="11.82" fill="#e6920e"/><rect x="240.55" y="1499.83" width="20.71" height="11.82" fill="#ff4826"/><rect x="261.26" y="1499.83" width="20.71" height="11.82" fill="#f85e18"/><rect x="281.96" y="1499.83" width="20.71" height="11.82" fill="#e44444"/><rect x="302.67" y="1499.83" width="20.71" height="11.82" fill="#ec780c"/><rect x="323.37" y="1499.83" width="20.71" height="11.82" fill="#f85e18"/><rect x="344.08" y="1499.83" width="20.71" height="11.82" fill="#e44444"/><rect x="364.78" y="1499.83" width="20.71" height="11.82" fill="#c44068"/><rect x="385.49" y="1499.83" width="20.71" height="11.82" fill="#f85e18"/><rect x="406.19" y="1499.83" width="20.71" height="11.82" fill="#ec780c"/><rect x="54.20" y="1511.65" width="20.71" height="11.82" fill="#e0ba1e"/><rect x="74.91" y="1511.65" width="20.71" height="11.82" fill="#e0ba1e"/><rect x="95.61" y="1511.65" width="20.71" height="11.82" fill="#e0ba1e"/><rect x="116.32" y="1511.65" width="20.71" height="11.82" fill="#e0ba1e"/><rect x="137.02" y="1511.65" width="20.71" height="11.82" fill="#e1a012"/><rect x="157.73" y="1511.65" width="20.71" height="11.82" fill="#e1a012"/><rect x="178.43" y="1511.65" width="20.71" height="11.82" fill="#e1a012"/><rect x="199.14" y="1511.65" width="20.71" height="11.82" fill="#e1a012"/><rect x="219.84" y="1511.65" width="20.71" height="11.82" fill="#e1a012"/><rect x="240.55" y="1511.65" width="20.71" height="11.82" fill="#e6920e"/><rect x="261.26" y="1511.65" width="20.71" height="11.82" fill="#ec780c"/><rect x="281.96" y="1511.65" width="20.71" height="11.82" fill="#e6920e"/><rect x="302.67" y="1511.65" width="20.71" height="11.82" fill="#ec780c"/><rect x="323.37" y="1511.65" width="20.71" height="11.82" fill="#f85e18"/><rect x="344.08" y="1511.65" width="20.71" height="11.82" fill="#f85e18"/><rect x="364.78" y="1511.65" width="20.71" height="11.82" fill="#e44444"/><rect x="385.49" y="1511.65" width="20.71" height="11.82" fill="#a03a8a"/><rect x="406.19" y="1511.65" width="20.71" height="11.82" fill="#f85e18"/><rect x="54.20" y="1523.47" width="20.71" height="11.82" fill="#e6920e"/><rect x="74.91" y="1523.47" width="20.71" height="11.82" fill="#e0ba1e"/><rect x="95.61" y="1523.47" width="20.71" height="11.82" fill="#e0ba1e"/><rect x="116.32" y="1523.47" width="20.71" height="11.82" fill="#e0ba1e"/><rect x="137.02" y="1523.47" width="20.71" height="11.82" fill="#e0ba1e"/><rect x="157.73" y="1523.47" width="20.71" height="11.82" fill="#e0ba1e"/><rect x="178.43" y="1523.47" width="20.71" height="11.82" fill="#e0ba1e"/><rect x="199.14" y="1523.47" width="20.71" height="11.82" fill="#e0ba1e"/><rect x="219.84" y="1523.47" width="20.71" height="11.82" fill="#e0ba1e"/><rect x="240.55" y="1523.47" width="20.71" height="11.82" fill="#e0ba1e"/><rect x="261.26" y="1523.47" width="20.71" height="11.82" fill="#e1a012"/><rect x="281.96" y="1523.47" width="20.71" height="11.82" fill="#ec780c"/><rect x="302.67" y="1523.47" width="20.71" height="11.82" fill="#ec780c"/><rect x="323.37" y="1523.47" width="20.71" height="11.82" fill="#ec780c"/><rect x="344.08" y="1523.47" width="20.71" height="11.82" fill="#ec780c"/><rect x="364.78" y="1523.47" width="20.71" height="11.82" fill="#ff4826"/><rect x="385.49" y="1523.47" width="20.71" height="11.82" fill="#ff4826"/><rect x="406.19" y="1523.47" width="20.71" height="11.82" fill="#c44068"/><rect x="54.20" y="1535.29" width="20.71" height="11.82" fill="#e44444"/><rect x="74.91" y="1535.29" width="20.71" height="11.82" fill="#e6920e"/><rect x="95.61" y="1535.29" width="20.71" height="11.82" fill="#e0ba1e"/><rect x="116.32" y="1535.29" width="20.71" height="11.82" fill="#e0ba1e"/><rect x="137.02" y="1535.29" width="20.71" height="11.82" fill="#e0ba1e"/><rect x="157.73" y="1535.29" width="20.71" height="11.82" fill="#e0ba1e"/><rect x="178.43" y="1535.29" width="20.71" height="11.82" fill="#e0ba1e"/><rect x="199.14" y="1535.29" width="20.71" height="11.82" fill="#e0ba1e"/><rect x="219.84" y="1535.29" width="20.71" height="11.82" fill="#e0ba1e"/><rect x="240.55" y="1535.29" width="20.71" height="11.82" fill="#e0ba1e"/><rect x="261.26" y="1535.29" width="20.71" height="11.82" fill="#e0ba1e"/><rect x="281.96" y="1535.29" width="20.71" height="11.82" fill="#e1a012"/><rect x="302.67" y="1535.29" width="20.71" height="11.82" fill="#e6920e"/><rect x="323.37" y="1535.29" width="20.71" height="11.82" fill="#ec780c"/><rect x="344.08" y="1535.29" width="20.71" height="11.82" fill="#ec780c"/><rect x="364.78" y="1535.29" width="20.71" height="11.82" fill="#a03a8a"/><rect x="385.49" y="1535.29" width="20.71" height="11.82" fill="#000000"/><rect x="406.19" y="1535.29" width="20.71" height="11.82" fill="#7e32a8"/><rect x="54.20" y="1547.11" width="20.71" height="11.82" fill="#ec780c"/><rect x="74.91" y="1547.11" width="20.71" height="11.82" fill="#f85e18"/><rect x="95.61" y="1547.11" width="20.71" height="11.82" fill="#e0ba1e"/><rect x="116.32" y="1547.11" width="20.71" height="11.82" fill="#e0ba1e"/><rect x="137.02" y="1547.11" width="20.71" height="11.82" fill="#e0ba1e"/><rect x="157.73" y="1547.11" width="20.71" height="11.82" fill="#e0ba1e"/><rect x="178.43" y="1547.11" width="20.71" height="11.82" fill="#e0ba1e"/><rect x="199.14" y="1547.11" width="20.71" height="11.82" fill="#e0ba1e"/><rect x="219.84" y="1547.11" width="20.71" height="11.82" fill="#e0cc44"/><rect x="240.55" y="1547.11" width="20.71" height="11.82" fill="#e0cc44"/><rect x="261.26" y="1547.11" width="20.71" height="11.82" fill="#e0ba1e"/><rect x="281.96" y="1547.11" width="20.71" height="11.82" fill="#e6920e"/><rect x="302.67" y="1547.11" width="20.71" height="11.82" fill="#ec780c"/><rect x="323.37" y="1547.11" width="20.71" height="11.82" fill="#ec780c"/><rect x="344.08" y="1547.11" width="20.71" height="11.82" fill="#e44444"/><rect x="364.78" y="1547.11" width="20.71" height="11.82" fill="#000000"/><rect x="385.49" y="1547.11" width="20.71" height="11.82" fill="#f85e18"/><rect x="406.19" y="1547.11" width="20.71" height="11.82" fill="#000000"/><rect x="54.20" y="1558.93" width="20.71" height="11.82" fill="#e0ba1e"/><rect x="74.91" y="1558.93" width="20.71" height="11.82" fill="#e1a012"/><rect x="95.61" y="1558.93" width="20.71" height="11.82" fill="#e0ba1e"/><rect x="116.32" y="1558.93" width="20.71" height="11.82" fill="#e0ba1e"/><rect x="137.02" y="1558.93" width="20.71" height="11.82" fill="#e0cc44"/><rect x="157.73" y="1558.93" width="20.71" height="11.82" fill="#e0ba1e"/><rect x="178.43" y="1558.93" width="20.71" height="11.82" fill="#e6920e"/><rect x="199.14" y="1558.93" width="20.71" height="11.82" fill="#e1a012"/><rect x="219.84" y="1558.93" width="20.71" height="11.82" fill="#e1a012"/><rect x="240.55" y="1558.93" width="20.71" height="11.82" fill="#e0ba1e"/><rect x="261.26" y="1558.93" width="20.71" height="11.82" fill="#e0ba1e"/><rect x="281.96" y="1558.93" width="20.71" height="11.82" fill="#e6920e"/><rect x="302.67" y="1558.93" width="20.71" height="11.82" fill="#ff4826"/><rect x="323.37" y="1558.93" width="20.71" height="11.82" fill="#ff4826"/><rect x="344.08" y="1558.93" width="20.71" height="11.82" fill="#7e32a8"/><rect x="364.78" y="1558.93" width="20.71" height="11.82" fill="#e44444"/><rect x="385.49" y="1558.93" width="20.71" height="11.82" fill="#e44444"/><rect x="406.19" y="1558.93" width="20.71" height="11.82" fill="#000000"/><rect x="54.20" y="1570.75" width="20.71" height="11.82" fill="#e0ba1e"/><rect x="74.91" y="1570.75" width="20.71" height="11.82" fill="#e0ba1e"/><rect x="95.61" y="1570.75" width="20.71" height="11.82" fill="#e0ba1e"/><rect x="116.32" y="1570.75" width="20.71" height="11.82" fill="#e0ba1e"/><rect x="137.02" y="1570.75" width="20.71" height="11.82" fill="#e0cc44"/><rect x="157.73" y="1570.75" width="20.71" height="11.82" fill="#e0ba1e"/><rect x="178.43" y="1570.75" width="20.71" height="11.82" fill="#e6920e"/><rect x="199.14" y="1570.75" width="20.71" height="11.82" fill="#ec780c"/><rect x="219.84" y="1570.75" width="20.71" height="11.82" fill="#ec780c"/><rect x="240.55" y="1570.75" width="20.71" height="11.82" fill="#e6920e"/><rect x="261.26" y="1570.75" width="20.71" height="11.82" fill="#e6920e"/><rect x="281.96" y="1570.75" width="20.71" height="11.82" fill="#ec780c"/><rect x="302.67" y="1570.75" width="20.71" height="11.82" fill="#e44444"/><rect x="323.37" y="1570.75" width="20.71" height="11.82" fill="#000000"/><rect x="344.08" y="1570.75" width="20.71" height="11.82" fill="#5e2ec0"/><rect x="364.78" y="1570.75" width="20.71" height="11.82" fill="#e44444"/><rect x="385.49" y="1570.75" width="20.71" height="11.82" fill="#7e32a8"/><rect x="406.19" y="1570.75" width="20.71" height="11.82" fill="#e44444"/><rect x="54.20" y="1582.56" width="20.71" height="11.82" fill="#e0ba1e"/><rect x="74.91" y="1582.56" width="20.71" height="11.82" fill="#e0cc44"/><rect x="95.61" y="1582.56" width="20.71" height="11.82" fill="#e0ba1e"/><rect x="116.32" y="1582.56" width="20.71" height="11.82" fill="#e0ba1e"/><rect x="137.02" y="1582.56" width="20.71" height="11.82" fill="#e0ba1e"/><rect x="157.73" y="1582.56" width="20.71" height="11.82" fill="#e0ba1e"/><rect x="178.43" y="1582.56" width="20.71" height="11.82" fill="#e1a012"/><rect x="199.14" y="1582.56" width="20.71" height="11.82" fill="#e6920e"/><rect x="219.84" y="1582.56" width="20.71" height="11.82" fill="#ec780c"/><rect x="240.55" y="1582.56" width="20.71" height="11.82" fill="#a03a8a"/><rect x="261.26" y="1582.56" width="20.71" height="11.82" fill="#ec780c"/><rect x="281.96" y="1582.56" width="20.71" height="11.82" fill="#ec780c"/><rect x="302.67" y="1582.56" width="20.71" height="11.82" fill="#ec780c"/><rect x="323.37" y="1582.56" width="20.71" height="11.82" fill="#000000"/><rect x="344.08" y="1582.56" width="20.71" height="11.82" fill="#e44444"/><rect x="364.78" y="1582.56" width="20.71" height="11.82" fill="#e44444"/><rect x="385.49" y="1582.56" width="20.71" height="11.82" fill="#000000"/><rect x="406.19" y="1582.56" width="20.71" height="11.82" fill="#000000"/><rect x="54.20" y="1594.38" width="20.71" height="11.82" fill="#ec780c"/><rect x="74.91" y="1594.38" width="20.71" height="11.82" fill="#e0ba1e"/><rect x="95.61" y="1594.38" width="20.71" height="11.82" fill="#e0ba1e"/><rect x="116.32" y="1594.38" width="20.71" height="11.82" fill="#e0ba1e"/><rect x="137.02" y="1594.38" width="20.71" height="11.82" fill="#e0ba1e"/><rect x="157.73" y="1594.38" width="20.71" height="11.82" fill="#e0cc44"/><rect x="178.43" y="1594.38" width="20.71" height="11.82" fill="#e0ba1e"/><rect x="199.14" y="1594.38" width="20.71" height="11.82" fill="#e1a012"/><rect x="219.84" y="1594.38" width="20.71" height="11.82" fill="#ec780c"/><rect x="240.55" y="1594.38" width="20.71" height="11.82" fill="#ec780c"/><rect x="261.26" y="1594.38" width="20.71" height="11.82" fill="#f85e18"/><rect x="281.96" y="1594.38" width="20.71" height="11.82" fill="#ec780c"/><rect x="302.67" y="1594.38" width="20.71" height="11.82" fill="#ec780c"/><rect x="323.37" y="1594.38" width="20.71" height="11.82" fill="#ff4826"/><rect x="344.08" y="1594.38" width="20.71" height="11.82" fill="#000000"/><rect x="364.78" y="1594.38" width="20.71" height="11.82" fill="#000000"/><rect x="385.49" y="1594.38" width="20.71" height="11.82" fill="#000000"/><rect x="406.19" y="1594.38" width="20.71" height="11.82" fill="#000000"/><rect x="54.20" y="1606.20" width="20.71" height="11.82" fill="#e6920e"/><rect x="74.91" y="1606.20" width="20.71" height="11.82" fill="#e1a012"/><rect x="95.61" y="1606.20" width="20.71" height="11.82" fill="#e0ba1e"/><rect x="116.32" y="1606.20" width="20.71" height="11.82" fill="#e0ba1e"/><rect x="137.02" y="1606.20" width="20.71" height="11.82" fill="#e0ba1e"/><rect x="157.73" y="1606.20" width="20.71" height="11.82" fill="#e0ba1e"/><rect x="178.43" y="1606.20" width="20.71" height="11.82" fill="#e0ba1e"/><rect x="199.14" y="1606.20" width="20.71" height="11.82" fill="#e0ba1e"/><rect x="219.84" y="1606.20" width="20.71" height="11.82" fill="#e1a012"/><rect x="240.55" y="1606.20" width="20.71" height="11.82" fill="#e6920e"/><rect x="261.26" y="1606.20" width="20.71" height="11.82" fill="#f85e18"/><rect x="281.96" y="1606.20" width="20.71" height="11.82" fill="#e6920e"/><rect x="302.67" y="1606.20" width="20.71" height="11.82" fill="#e6920e"/><rect x="323.37" y="1606.20" width="20.71" height="11.82" fill="#ec780c"/><rect x="344.08" y="1606.20" width="20.71" height="11.82" fill="#000000"/><rect x="364.78" y="1606.20" width="20.71" height="11.82" fill="#000000"/><rect x="385.49" y="1606.20" width="20.71" height="11.82" fill="#000000"/><rect x="406.19" y="1606.20" width="20.71" height="11.82" fill="#ff4826"/><rect x="54.20" y="1618.02" width="20.71" height="11.82" fill="#e0cc44"/><rect x="74.91" y="1618.02" width="20.71" height="11.82" fill="#e0ba1e"/><rect x="95.61" y="1618.02" width="20.71" height="11.82" fill="#e0ba1e"/><rect x="116.32" y="1618.02" width="20.71" height="11.82" fill="#e1a012"/><rect x="137.02" y="1618.02" width="20.71" height="11.82" fill="#e1a012"/><rect x="157.73" y="1618.02" width="20.71" height="11.82" fill="#e1a012"/><rect x="178.43" y="1618.02" width="20.71" height="11.82" fill="#e0ba1e"/><rect x="199.14" y="1618.02" width="20.71" height="11.82" fill="#e0ba1e"/><rect x="219.84" y="1618.02" width="20.71" height="11.82" fill="#e0ba1e"/><rect x="240.55" y="1618.02" width="20.71" height="11.82" fill="#e1a012"/><rect x="261.26" y="1618.02" width="20.71" height="11.82" fill="#e6920e"/><rect x="281.96" y="1618.02" width="20.71" height="11.82" fill="#e6920e"/><rect x="302.67" y="1618.02" width="20.71" height="11.82" fill="#e6920e"/><rect x="323.37" y="1618.02" width="20.71" height="11.82" fill="#f85e18"/><rect x="344.08" y="1618.02" width="20.71" height="11.82" fill="#c44068"/><rect x="364.78" y="1618.02" width="20.71" height="11.82" fill="#000000"/><rect x="385.49" y="1618.02" width="20.71" height="11.82" fill="#000000"/><rect x="406.19" y="1618.02" width="20.71" height="11.82" fill="#000000"/><rect x="54.20" y="1629.84" width="20.71" height="11.82" fill="#e0cc44"/><rect x="74.91" y="1629.84" width="20.71" height="11.82" fill="#e0cc44"/><rect x="95.61" y="1629.84" width="20.71" height="11.82" fill="#e0ba1e"/><rect x="116.32" y="1629.84" width="20.71" height="11.82" fill="#e1a012"/><rect x="137.02" y="1629.84" width="20.71" height="11.82" fill="#e6920e"/><rect x="157.73" y="1629.84" width="20.71" height="11.82" fill="#e6920e"/><rect x="178.43" y="1629.84" width="20.71" height="11.82" fill="#e6920e"/><rect x="199.14" y="1629.84" width="20.71" height="11.82" fill="#e1a012"/><rect x="219.84" y="1629.84" width="20.71" height="11.82" fill="#e1a012"/><rect x="240.55" y="1629.84" width="20.71" height="11.82" fill="#e1a012"/><rect x="261.26" y="1629.84" width="20.71" height="11.82" fill="#e6920e"/><rect x="281.96" y="1629.84" width="20.71" height="11.82" fill="#f85e18"/><rect x="302.67" y="1629.84" width="20.71" height="11.82" fill="#f85e18"/><rect x="323.37" y="1629.84" width="20.71" height="11.82" fill="#a03a8a"/><rect x="344.08" y="1629.84" width="20.71" height="11.82" fill="#ff4826"/><rect x="364.78" y="1629.84" width="20.71" height="11.82" fill="#c44068"/><rect x="385.49" y="1629.84" width="20.71" height="11.82" fill="#c44068"/><rect x="406.19" y="1629.84" width="20.71" height="11.82" fill="#000000"/><rect x="54.20" y="1641.66" width="20.71" height="11.82" fill="#e0ba1e"/><rect x="74.91" y="1641.66" width="20.71" height="11.82" fill="#e0ba1e"/><rect x="95.61" y="1641.66" width="20.71" height="11.82" fill="#e1a012"/><rect x="116.32" y="1641.66" width="20.71" height="11.82" fill="#e6920e"/><rect x="137.02" y="1641.66" width="20.71" height="11.82" fill="#f85e18"/><rect x="157.73" y="1641.66" width="20.71" height="11.82" fill="#ff4826"/><rect x="178.43" y="1641.66" width="20.71" height="11.82" fill="#ec780c"/><rect x="199.14" y="1641.66" width="20.71" height="11.82" fill="#f85e18"/><rect x="219.84" y="1641.66" width="20.71" height="11.82" fill="#ec780c"/><rect x="240.55" y="1641.66" width="20.71" height="11.82" fill="#e6920e"/><rect x="261.26" y="1641.66" width="20.71" height="11.82" fill="#ec780c"/><rect x="281.96" y="1641.66" width="20.71" height="11.82" fill="#7e32a8"/><rect x="302.67" y="1641.66" width="20.71" height="11.82" fill="#e44444"/><rect x="323.37" y="1641.66" width="20.71" height="11.82" fill="#a03a8a"/><rect x="344.08" y="1641.66" width="20.71" height="11.82" fill="#000000"/><rect x="364.78" y="1641.66" width="20.71" height="11.82" fill="#ff4826"/><rect x="385.49" y="1641.66" width="20.71" height="11.82" fill="#000000"/><rect x="406.19" y="1641.66" width="20.71" height="11.82" fill="#a03a8a"/><rect x="54.20" y="1653.48" width="20.71" height="11.82" fill="#e6920e"/><rect x="74.91" y="1653.48" width="20.71" height="11.82" fill="#e6920e"/><rect x="95.61" y="1653.48" width="20.71" height="11.82" fill="#e6920e"/><rect x="116.32" y="1653.48" width="20.71" height="11.82" fill="#ec780c"/><rect x="137.02" y="1653.48" width="20.71" height="11.82" fill="#f85e18"/><rect x="157.73" y="1653.48" width="20.71" height="11.82" fill="#ff4826"/><rect x="178.43" y="1653.48" width="20.71" height="11.82" fill="#e44444"/><rect x="199.14" y="1653.48" width="20.71" height="11.82" fill="#000000"/><rect x="219.84" y="1653.48" width="20.71" height="11.82" fill="#000000"/><rect x="240.55" y="1653.48" width="20.71" height="11.82" fill="#e44444"/><rect x="261.26" y="1653.48" width="20.71" height="11.82" fill="#7e32a8"/><rect x="281.96" y="1653.48" width="20.71" height="11.82" fill="#000000"/><rect x="302.67" y="1653.48" width="20.71" height="11.82" fill="#000000"/><rect x="323.37" y="1653.48" width="20.71" height="11.82" fill="#000000"/><rect x="344.08" y="1653.48" width="20.71" height="11.82" fill="#000000"/><rect x="364.78" y="1653.48" width="20.71" height="11.82" fill="#000000"/><rect x="385.49" y="1653.48" width="20.71" height="11.82" fill="#000000"/><rect x="406.19" y="1653.48" width="20.71" height="11.82" fill="#000000"/></g>
<g shape-rendering="crispEdges"><rect x="508.70" y="1300.20" width="11.83" height="11.82" fill="#7e32a8"/><rect x="520.53" y="1300.20" width="11.83" height="11.82" fill="#a03a8a"/><rect x="532.36" y="1300.20" width="11.83" height="11.82" fill="#000000"/><rect x="544.20" y="1300.20" width="11.83" height="11.82" fill="#c44068"/><rect x="556.03" y="1300.20" width="11.83" height="11.82" fill="#000000"/><rect x="567.86" y="1300.20" width="11.83" height="11.82" fill="#000000"/><rect x="579.69" y="1300.20" width="11.83" height="11.82" fill="#000000"/><rect x="591.53" y="1300.20" width="11.83" height="11.82" fill="#000000"/><rect x="603.36" y="1300.20" width="11.83" height="11.82" fill="#e44444"/><rect x="615.19" y="1300.20" width="11.83" height="11.82" fill="#a03a8a"/><rect x="627.02" y="1300.20" width="11.83" height="11.82" fill="#000000"/><rect x="638.85" y="1300.20" width="11.83" height="11.82" fill="#000000"/><rect x="650.69" y="1300.20" width="11.83" height="11.82" fill="#000000"/><rect x="662.52" y="1300.20" width="11.83" height="11.82" fill="#a03a8a"/><rect x="674.35" y="1300.20" width="11.83" height="11.82" fill="#000000"/><rect x="686.18" y="1300.20" width="11.83" height="11.82" fill="#000000"/><rect x="698.02" y="1300.20" width="11.83" height="11.82" fill="#000000"/><rect x="709.85" y="1300.20" width="11.83" height="11.82" fill="#000000"/><rect x="721.68" y="1300.20" width="11.83" height="11.82" fill="#c44068"/><rect x="733.51" y="1300.20" width="11.83" height="11.82" fill="#000000"/><rect x="745.35" y="1300.20" width="11.83" height="11.82" fill="#000000"/><rect x="757.18" y="1300.20" width="11.83" height="11.82" fill="#000000"/><rect x="769.01" y="1300.20" width="11.83" height="11.82" fill="#000000"/><rect x="780.84" y="1300.20" width="11.83" height="11.82" fill="#000000"/><rect x="792.67" y="1300.20" width="11.83" height="11.82" fill="#000000"/><rect x="804.51" y="1300.20" width="11.83" height="11.82" fill="#000000"/><rect x="816.34" y="1300.20" width="11.83" height="11.82" fill="#a03a8a"/><rect x="828.17" y="1300.20" width="11.83" height="11.82" fill="#000000"/><rect x="840.00" y="1300.20" width="11.83" height="11.82" fill="#000000"/><rect x="851.84" y="1300.20" width="11.83" height="11.82" fill="#000000"/><rect x="863.67" y="1300.20" width="11.83" height="11.82" fill="#000000"/><rect x="508.70" y="1312.02" width="11.83" height="11.82" fill="#000000"/><rect x="520.53" y="1312.02" width="11.83" height="11.82" fill="#a03a8a"/><rect x="532.36" y="1312.02" width="11.83" height="11.82" fill="#000000"/><rect x="544.20" y="1312.02" width="11.83" height="11.82" fill="#a03a8a"/><rect x="556.03" y="1312.02" width="11.83" height="11.82" fill="#a03a8a"/><rect x="567.86" y="1312.02" width="11.83" height="11.82" fill="#ff4826"/><rect x="579.69" y="1312.02" width="11.83" height="11.82" fill="#000000"/><rect x="591.53" y="1312.02" width="11.83" height="11.82" fill="#000000"/><rect x="603.36" y="1312.02" width="11.83" height="11.82" fill="#000000"/><rect x="615.19" y="1312.02" width="11.83" height="11.82" fill="#f85e18"/><rect x="627.02" y="1312.02" width="11.83" height="11.82" fill="#c44068"/><rect x="638.85" y="1312.02" width="11.83" height="11.82" fill="#7e32a8"/><rect x="650.69" y="1312.02" width="11.83" height="11.82" fill="#5e2ec0"/><rect x="662.52" y="1312.02" width="11.83" height="11.82" fill="#000000"/><rect x="674.35" y="1312.02" width="11.83" height="11.82" fill="#a03a8a"/><rect x="686.18" y="1312.02" width="11.83" height="11.82" fill="#000000"/><rect x="698.02" y="1312.02" width="11.83" height="11.82" fill="#000000"/><rect x="709.85" y="1312.02" width="11.83" height="11.82" fill="#000000"/><rect x="721.68" y="1312.02" width="11.83" height="11.82" fill="#e44444"/><rect x="733.51" y="1312.02" width="11.83" height="11.82" fill="#000000"/><rect x="745.35" y="1312.02" width="11.83" height="11.82" fill="#000000"/><rect x="757.18" y="1312.02" width="11.83" height="11.82" fill="#000000"/><rect x="769.01" y="1312.02" width="11.83" height="11.82" fill="#c44068"/><rect x="780.84" y="1312.02" width="11.83" height="11.82" fill="#c44068"/><rect x="792.67" y="1312.02" width="11.83" height="11.82" fill="#000000"/><rect x="804.51" y="1312.02" width="11.83" height="11.82" fill="#000000"/><rect x="816.34" y="1312.02" width="11.83" height="11.82" fill="#e44444"/><rect x="828.17" y="1312.02" width="11.83" height="11.82" fill="#000000"/><rect x="840.00" y="1312.02" width="11.83" height="11.82" fill="#a03a8a"/><rect x="851.84" y="1312.02" width="11.83" height="11.82" fill="#000000"/><rect x="863.67" y="1312.02" width="11.83" height="11.82" fill="#c44068"/><rect x="508.70" y="1323.83" width="11.83" height="11.82" fill="#c44068"/><rect x="520.53" y="1323.83" width="11.83" height="11.82" fill="#e44444"/><rect x="532.36" y="1323.83" width="11.83" height="11.82" fill="#000000"/><rect x="544.20" y="1323.83" width="11.83" height="11.82" fill="#000000"/><rect x="556.03" y="1323.83" width="11.83" height="11.82" fill="#a03a8a"/><rect x="567.86" y="1323.83" width="11.83" height="11.82" fill="#000000"/><rect x="579.69" y="1323.83" width="11.83" height="11.82" fill="#c44068"/><rect x="591.53" y="1323.83" width="11.83" height="11.82" fill="#c44068"/><rect x="603.36" y="1323.83" width="11.83" height="11.82" fill="#000000"/><rect x="615.19" y="1323.83" width="11.83" height="11.82" fill="#c44068"/><rect x="627.02" y="1323.83" width="11.83" height="11.82" fill="#000000"/><rect x="638.85" y="1323.83" width="11.83" height="11.82" fill="#7e32a8"/><rect x="650.69" y="1323.83" width="11.83" height="11.82" fill="#e44444"/><rect x="662.52" y="1323.83" width="11.83" height="11.82" fill="#000000"/><rect x="674.35" y="1323.83" width="11.83" height="11.82" fill="#000000"/><rect x="686.18" y="1323.83" width="11.83" height="11.82" fill="#000000"/><rect x="698.02" y="1323.83" width="11.83" height="11.82" fill="#000000"/><rect x="709.85" y="1323.83" width="11.83" height="11.82" fill="#000000"/><rect x="721.68" y="1323.83" width="11.83" height="11.82" fill="#000000"/><rect x="733.51" y="1323.83" width="11.83" height="11.82" fill="#000000"/><rect x="745.35" y="1323.83" width="11.83" height="11.82" fill="#000000"/><rect x="757.18" y="1323.83" width="11.83" height="11.82" fill="#a03a8a"/><rect x="769.01" y="1323.83" width="11.83" height="11.82" fill="#000000"/><rect x="780.84" y="1323.83" width="11.83" height="11.82" fill="#a03a8a"/><rect x="792.67" y="1323.83" width="11.83" height="11.82" fill="#000000"/><rect x="804.51" y="1323.83" width="11.83" height="11.82" fill="#000000"/><rect x="816.34" y="1323.83" width="11.83" height="11.82" fill="#c44068"/><rect x="828.17" y="1323.83" width="11.83" height="11.82" fill="#000000"/><rect x="840.00" y="1323.83" width="11.83" height="11.82" fill="#000000"/><rect x="851.84" y="1323.83" width="11.83" height="11.82" fill="#000000"/><rect x="863.67" y="1323.83" width="11.83" height="11.82" fill="#c44068"/><rect x="508.70" y="1335.65" width="11.83" height="11.82" fill="#000000"/><rect x="520.53" y="1335.65" width="11.83" height="11.82" fill="#e44444"/><rect x="532.36" y="1335.65" width="11.83" height="11.82" fill="#7e32a8"/><rect x="544.20" y="1335.65" width="11.83" height="11.82" fill="#a03a8a"/><rect x="556.03" y="1335.65" width="11.83" height="11.82" fill="#5e2ec0"/><rect x="567.86" y="1335.65" width="11.83" height="11.82" fill="#e44444"/><rect x="579.69" y="1335.65" width="11.83" height="11.82" fill="#000000"/><rect x="591.53" y="1335.65" width="11.83" height="11.82" fill="#ff4826"/><rect x="603.36" y="1335.65" width="11.83" height="11.82" fill="#ff4826"/><rect x="615.19" y="1335.65" width="11.83" height="11.82" fill="#e44444"/><rect x="627.02" y="1335.65" width="11.83" height="11.82" fill="#ff4826"/><rect x="638.85" y="1335.65" width="11.83" height="11.82" fill="#e44444"/><rect x="650.69" y="1335.65" width="11.83" height="11.82" fill="#000000"/><rect x="662.52" y="1335.65" width="11.83" height="11.82" fill="#000000"/><rect x="674.35" y="1335.65" width="11.83" height="11.82" fill="#000000"/><rect x="686.18" y="1335.65" width="11.83" height="11.82" fill="#000000"/><rect x="698.02" y="1335.65" width="11.83" height="11.82" fill="#000000"/><rect x="709.85" y="1335.65" width="11.83" height="11.82" fill="#c44068"/><rect x="721.68" y="1335.65" width="11.83" height="11.82" fill="#c44068"/><rect x="733.51" y="1335.65" width="11.83" height="11.82" fill="#000000"/><rect x="745.35" y="1335.65" width="11.83" height="11.82" fill="#000000"/><rect x="757.18" y="1335.65" width="11.83" height="11.82" fill="#f85e18"/><rect x="769.01" y="1335.65" width="11.83" height="11.82" fill="#000000"/><rect x="780.84" y="1335.65" width="11.83" height="11.82" fill="#000000"/><rect x="792.67" y="1335.65" width="11.83" height="11.82" fill="#000000"/><rect x="804.51" y="1335.65" width="11.83" height="11.82" fill="#000000"/><rect x="816.34" y="1335.65" width="11.83" height="11.82" fill="#000000"/><rect x="828.17" y="1335.65" width="11.83" height="11.82" fill="#a03a8a"/><rect x="840.00" y="1335.65" width="11.83" height="11.82" fill="#000000"/><rect x="851.84" y="1335.65" width="11.83" height="11.82" fill="#c44068"/><rect x="863.67" y="1335.65" width="11.83" height="11.82" fill="#f85e18"/><rect x="508.70" y="1347.46" width="11.83" height="11.82" fill="#a03a8a"/><rect x="520.53" y="1347.46" width="11.83" height="11.82" fill="#e44444"/><rect x="532.36" y="1347.46" width="11.83" height="11.82" fill="#ff4826"/><rect x="544.20" y="1347.46" width="11.83" height="11.82" fill="#000000"/><rect x="556.03" y="1347.46" width="11.83" height="11.82" fill="#000000"/><rect x="567.86" y="1347.46" width="11.83" height="11.82" fill="#000000"/><rect x="579.69" y="1347.46" width="11.83" height="11.82" fill="#000000"/><rect x="591.53" y="1347.46" width="11.83" height="11.82" fill="#ff4826"/><rect x="603.36" y="1347.46" width="11.83" height="11.82" fill="#ff4826"/><rect x="615.19" y="1347.46" width="11.83" height="11.82" fill="#f85e18"/><rect x="627.02" y="1347.46" width="11.83" height="11.82" fill="#c44068"/><rect x="638.85" y="1347.46" width="11.83" height="11.82" fill="#000000"/><rect x="650.69" y="1347.46" width="11.83" height="11.82" fill="#e44444"/><rect x="662.52" y="1347.46" width="11.83" height="11.82" fill="#000000"/><rect x="674.35" y="1347.46" width="11.83" height="11.82" fill="#c44068"/><rect x="686.18" y="1347.46" width="11.83" height="11.82" fill="#c44068"/><rect x="698.02" y="1347.46" width="11.83" height="11.82" fill="#000000"/><rect x="709.85" y="1347.46" width="11.83" height="11.82" fill="#000000"/><rect x="721.68" y="1347.46" width="11.83" height="11.82" fill="#c44068"/><rect x="733.51" y="1347.46" width="11.83" height="11.82" fill="#e44444"/><rect x="745.35" y="1347.46" width="11.83" height="11.82" fill="#000000"/><rect x="757.18" y="1347.46" width="11.83" height="11.82" fill="#000000"/><rect x="769.01" y="1347.46" width="11.83" height="11.82" fill="#000000"/><rect x="780.84" y="1347.46" width="11.83" height="11.82" fill="#000000"/><rect x="792.67" y="1347.46" width="11.83" height="11.82" fill="#000000"/><rect x="804.51" y="1347.46" width="11.83" height="11.82" fill="#000000"/><rect x="816.34" y="1347.46" width="11.83" height="11.82" fill="#000000"/><rect x="828.17" y="1347.46" width="11.83" height="11.82" fill="#e44444"/><rect x="840.00" y="1347.46" width="11.83" height="11.82" fill="#000000"/><rect x="851.84" y="1347.46" width="11.83" height="11.82" fill="#c44068"/><rect x="863.67" y="1347.46" width="11.83" height="11.82" fill="#000000"/><rect x="508.70" y="1359.28" width="11.83" height="11.82" fill="#000000"/><rect x="520.53" y="1359.28" width="11.83" height="11.82" fill="#000000"/><rect x="532.36" y="1359.28" width="11.83" height="11.82" fill="#000000"/><rect x="544.20" y="1359.28" width="11.83" height="11.82" fill="#c44068"/><rect x="556.03" y="1359.28" width="11.83" height="11.82" fill="#ec780c"/><rect x="567.86" y="1359.28" width="11.83" height="11.82" fill="#ff4826"/><rect x="579.69" y="1359.28" width="11.83" height="11.82" fill="#000000"/><rect x="591.53" y="1359.28" width="11.83" height="11.82" fill="#000000"/><rect x="603.36" y="1359.28" width="11.83" height="11.82" fill="#e44444"/><rect x="615.19" y="1359.28" width="11.83" height="11.82" fill="#f85e18"/><rect x="627.02" y="1359.28" width="11.83" height="11.82" fill="#ff4826"/><rect x="638.85" y="1359.28" width="11.83" height="11.82" fill="#f85e18"/><rect x="650.69" y="1359.28" width="11.83" height="11.82" fill="#000000"/><rect x="662.52" y="1359.28" width="11.83" height="11.82" fill="#000000"/><rect x="674.35" y="1359.28" width="11.83" height="11.82" fill="#000000"/><rect x="686.18" y="1359.28" width="11.83" height="11.82" fill="#e44444"/><rect x="698.02" y="1359.28" width="11.83" height="11.82" fill="#000000"/><rect x="709.85" y="1359.28" width="11.83" height="11.82" fill="#c44068"/><rect x="721.68" y="1359.28" width="11.83" height="11.82" fill="#000000"/><rect x="733.51" y="1359.28" width="11.83" height="11.82" fill="#e44444"/><rect x="745.35" y="1359.28" width="11.83" height="11.82" fill="#ff4826"/><rect x="757.18" y="1359.28" width="11.83" height="11.82" fill="#c44068"/><rect x="769.01" y="1359.28" width="11.83" height="11.82" fill="#000000"/><rect x="780.84" y="1359.28" width="11.83" height="11.82" fill="#000000"/><rect x="792.67" y="1359.28" width="11.83" height="11.82" fill="#000000"/><rect x="804.51" y="1359.28" width="11.83" height="11.82" fill="#ff4826"/><rect x="816.34" y="1359.28" width="11.83" height="11.82" fill="#000000"/><rect x="828.17" y="1359.28" width="11.83" height="11.82" fill="#000000"/><rect x="840.00" y="1359.28" width="11.83" height="11.82" fill="#000000"/><rect x="851.84" y="1359.28" width="11.83" height="11.82" fill="#a03a8a"/><rect x="863.67" y="1359.28" width="11.83" height="11.82" fill="#000000"/><rect x="508.70" y="1371.10" width="11.83" height="11.82" fill="#7e32a8"/><rect x="520.53" y="1371.10" width="11.83" height="11.82" fill="#a03a8a"/><rect x="532.36" y="1371.10" width="11.83" height="11.82" fill="#5e2ec0"/><rect x="544.20" y="1371.10" width="11.83" height="11.82" fill="#000000"/><rect x="556.03" y="1371.10" width="11.83" height="11.82" fill="#000000"/><rect x="567.86" y="1371.10" width="11.83" height="11.82" fill="#a03a8a"/><rect x="579.69" y="1371.10" width="11.83" height="11.82" fill="#000000"/><rect x="591.53" y="1371.10" width="11.83" height="11.82" fill="#f85e18"/><rect x="603.36" y="1371.10" width="11.83" height="11.82" fill="#000000"/><rect x="615.19" y="1371.10" width="11.83" height="11.82" fill="#7e32a8"/><rect x="627.02" y="1371.10" width="11.83" height="11.82" fill="#a03a8a"/><rect x="638.85" y="1371.10" width="11.83" height="11.82" fill="#ff4826"/><rect x="650.69" y="1371.10" width="11.83" height="11.82" fill="#ff4826"/><rect x="662.52" y="1371.10" width="11.83" height="11.82" fill="#c44068"/><rect x="674.35" y="1371.10" width="11.83" height="11.82" fill="#000000"/><rect x="686.18" y="1371.10" width="11.83" height="11.82" fill="#000000"/><rect x="698.02" y="1371.10" width="11.83" height="11.82" fill="#000000"/><rect x="709.85" y="1371.10" width="11.83" height="11.82" fill="#ff4826"/><rect x="721.68" y="1371.10" width="11.83" height="11.82" fill="#a03a8a"/><rect x="733.51" y="1371.10" width="11.83" height="11.82" fill="#000000"/><rect x="745.35" y="1371.10" width="11.83" height="11.82" fill="#f85e18"/><rect x="757.18" y="1371.10" width="11.83" height="11.82" fill="#5e2ec0"/><rect x="769.01" y="1371.10" width="11.83" height="11.82" fill="#000000"/><rect x="780.84" y="1371.10" width="11.83" height="11.82" fill="#e44444"/><rect x="792.67" y="1371.10" width="11.83" height="11.82" fill="#000000"/><rect x="804.51" y="1371.10" width="11.83" height="11.82" fill="#000000"/><rect x="816.34" y="1371.10" width="11.83" height="11.82" fill="#c44068"/><rect x="828.17" y="1371.10" width="11.83" height="11.82" fill="#000000"/><rect x="840.00" y="1371.10" width="11.83" height="11.82" fill="#c44068"/><rect x="851.84" y="1371.10" width="11.83" height="11.82" fill="#000000"/><rect x="863.67" y="1371.10" width="11.83" height="11.82" fill="#000000"/><rect x="508.70" y="1382.91" width="11.83" height="11.82" fill="#7e32a8"/><rect x="520.53" y="1382.91" width="11.83" height="11.82" fill="#000000"/><rect x="532.36" y="1382.91" width="11.83" height="11.82" fill="#000000"/><rect x="544.20" y="1382.91" width="11.83" height="11.82" fill="#000000"/><rect x="556.03" y="1382.91" width="11.83" height="11.82" fill="#000000"/><rect x="567.86" y="1382.91" width="11.83" height="11.82" fill="#000000"/><rect x="579.69" y="1382.91" width="11.83" height="11.82" fill="#000000"/><rect x="591.53" y="1382.91" width="11.83" height="11.82" fill="#000000"/><rect x="603.36" y="1382.91" width="11.83" height="11.82" fill="#e44444"/><rect x="615.19" y="1382.91" width="11.83" height="11.82" fill="#f85e18"/><rect x="627.02" y="1382.91" width="11.83" height="11.82" fill="#f85e18"/><rect x="638.85" y="1382.91" width="11.83" height="11.82" fill="#000000"/><rect x="650.69" y="1382.91" width="11.83" height="11.82" fill="#ff4826"/><rect x="662.52" y="1382.91" width="11.83" height="11.82" fill="#c44068"/><rect x="674.35" y="1382.91" width="11.83" height="11.82" fill="#f85e18"/><rect x="686.18" y="1382.91" width="11.83" height="11.82" fill="#000000"/><rect x="698.02" y="1382.91" width="11.83" height="11.82" fill="#000000"/><rect x="709.85" y="1382.91" width="11.83" height="11.82" fill="#000000"/><rect x="721.68" y="1382.91" width="11.83" height="11.82" fill="#000000"/><rect x="733.51" y="1382.91" width="11.83" height="11.82" fill="#000000"/><rect x="745.35" y="1382.91" width="11.83" height="11.82" fill="#a03a8a"/><rect x="757.18" y="1382.91" width="11.83" height="11.82" fill="#e44444"/><rect x="769.01" y="1382.91" width="11.83" height="11.82" fill="#e44444"/><rect x="780.84" y="1382.91" width="11.83" height="11.82" fill="#000000"/><rect x="792.67" y="1382.91" width="11.83" height="11.82" fill="#7e32a8"/><rect x="804.51" y="1382.91" width="11.83" height="11.82" fill="#c44068"/><rect x="816.34" y="1382.91" width="11.83" height="11.82" fill="#c44068"/><rect x="828.17" y="1382.91" width="11.83" height="11.82" fill="#e44444"/><rect x="840.00" y="1382.91" width="11.83" height="11.82" fill="#e44444"/><rect x="851.84" y="1382.91" width="11.83" height="11.82" fill="#c44068"/><rect x="863.67" y="1382.91" width="11.83" height="11.82" fill="#a03a8a"/><rect x="508.70" y="1394.73" width="11.83" height="11.82" fill="#c44068"/><rect x="520.53" y="1394.73" width="11.83" height="11.82" fill="#ff4826"/><rect x="532.36" y="1394.73" width="11.83" height="11.82" fill="#a03a8a"/><rect x="544.20" y="1394.73" width="11.83" height="11.82" fill="#c44068"/><rect x="556.03" y="1394.73" width="11.83" height="11.82" fill="#000000"/><rect x="567.86" y="1394.73" width="11.83" height="11.82" fill="#000000"/><rect x="579.69" y="1394.73" width="11.83" height="11.82" fill="#000000"/><rect x="591.53" y="1394.73" width="11.83" height="11.82" fill="#000000"/><rect x="603.36" y="1394.73" width="11.83" height="11.82" fill="#000000"/><rect x="615.19" y="1394.73" width="11.83" height="11.82" fill="#000000"/><rect x="627.02" y="1394.73" width="11.83" height="11.82" fill="#000000"/><rect x="638.85" y="1394.73" width="11.83" height="11.82" fill="#7e32a8"/><rect x="650.69" y="1394.73" width="11.83" height="11.82" fill="#000000"/><rect x="662.52" y="1394.73" width="11.83" height="11.82" fill="#f85e18"/><rect x="674.35" y="1394.73" width="11.83" height="11.82" fill="#000000"/><rect x="686.18" y="1394.73" width="11.83" height="11.82" fill="#000000"/><rect x="698.02" y="1394.73" width="11.83" height="11.82" fill="#000000"/><rect x="709.85" y="1394.73" width="11.83" height="11.82" fill="#a03a8a"/><rect x="721.68" y="1394.73" width="11.83" height="11.82" fill="#000000"/><rect x="733.51" y="1394.73" width="11.83" height="11.82" fill="#5e2ec0"/><rect x="745.35" y="1394.73" width="11.83" height="11.82" fill="#000000"/><rect x="757.18" y="1394.73" width="11.83" height="11.82" fill="#000000"/><rect x="769.01" y="1394.73" width="11.83" height="11.82" fill="#c44068"/><rect x="780.84" y="1394.73" width="11.83" height="11.82" fill="#000000"/><rect x="792.67" y="1394.73" width="11.83" height="11.82" fill="#000000"/><rect x="804.51" y="1394.73" width="11.83" height="11.82" fill="#7e32a8"/><rect x="816.34" y="1394.73" width="11.83" height="11.82" fill="#f85e18"/><rect x="828.17" y="1394.73" width="11.83" height="11.82" fill="#000000"/><rect x="840.00" y="1394.73" width="11.83" height="11.82" fill="#c44068"/><rect x="851.84" y="1394.73" width="11.83" height="11.82" fill="#000000"/><rect x="863.67" y="1394.73" width="11.83" height="11.82" fill="#ff4826"/><rect x="508.70" y="1406.55" width="11.83" height="11.82" fill="#000000"/><rect x="520.53" y="1406.55" width="11.83" height="11.82" fill="#000000"/><rect x="532.36" y="1406.55" width="11.83" height="11.82" fill="#a03a8a"/><rect x="544.20" y="1406.55" width="11.83" height="11.82" fill="#000000"/><rect x="556.03" y="1406.55" width="11.83" height="11.82" fill="#000000"/><rect x="567.86" y="1406.55" width="11.83" height="11.82" fill="#000000"/><rect x="579.69" y="1406.55" width="11.83" height="11.82" fill="#000000"/><rect x="591.53" y="1406.55" width="11.83" height="11.82" fill="#a03a8a"/><rect x="603.36" y="1406.55" width="11.83" height="11.82" fill="#ff4826"/><rect x="615.19" y="1406.55" width="11.83" height="11.82" fill="#c44068"/><rect x="627.02" y="1406.55" width="11.83" height="11.82" fill="#000000"/><rect x="638.85" y="1406.55" width="11.83" height="11.82" fill="#000000"/><rect x="650.69" y="1406.55" width="11.83" height="11.82" fill="#000000"/><rect x="662.52" y="1406.55" width="11.83" height="11.82" fill="#000000"/><rect x="674.35" y="1406.55" width="11.83" height="11.82" fill="#000000"/><rect x="686.18" y="1406.55" width="11.83" height="11.82" fill="#000000"/><rect x="698.02" y="1406.55" width="11.83" height="11.82" fill="#e44444"/><rect x="709.85" y="1406.55" width="11.83" height="11.82" fill="#000000"/><rect x="721.68" y="1406.55" width="11.83" height="11.82" fill="#000000"/><rect x="733.51" y="1406.55" width="11.83" height="11.82" fill="#000000"/><rect x="745.35" y="1406.55" width="11.83" height="11.82" fill="#000000"/><rect x="757.18" y="1406.55" width="11.83" height="11.82" fill="#000000"/><rect x="769.01" y="1406.55" width="11.83" height="11.82" fill="#000000"/><rect x="780.84" y="1406.55" width="11.83" height="11.82" fill="#a03a8a"/><rect x="792.67" y="1406.55" width="11.83" height="11.82" fill="#000000"/><rect x="804.51" y="1406.55" width="11.83" height="11.82" fill="#7e32a8"/><rect x="816.34" y="1406.55" width="11.83" height="11.82" fill="#7e32a8"/><rect x="828.17" y="1406.55" width="11.83" height="11.82" fill="#000000"/><rect x="840.00" y="1406.55" width="11.83" height="11.82" fill="#000000"/><rect x="851.84" y="1406.55" width="11.83" height="11.82" fill="#000000"/><rect x="863.67" y="1406.55" width="11.83" height="11.82" fill="#000000"/><rect x="508.70" y="1418.36" width="11.83" height="11.82" fill="#a03a8a"/><rect x="520.53" y="1418.36" width="11.83" height="11.82" fill="#000000"/><rect x="532.36" y="1418.36" width="11.83" height="11.82" fill="#000000"/><rect x="544.20" y="1418.36" width="11.83" height="11.82" fill="#000000"/><rect x="556.03" y="1418.36" width="11.83" height="11.82" fill="#000000"/><rect x="567.86" y="1418.36" width="11.83" height="11.82" fill="#000000"/><rect x="579.69" y="1418.36" width="11.83" height="11.82" fill="#000000"/><rect x="591.53" y="1418.36" width="11.83" height="11.82" fill="#000000"/><rect x="603.36" y="1418.36" width="11.83" height="11.82" fill="#000000"/><rect x="615.19" y="1418.36" width="11.83" height="11.82" fill="#c44068"/><rect x="627.02" y="1418.36" width="11.83" height="11.82" fill="#c44068"/><rect x="638.85" y="1418.36" width="11.83" height="11.82" fill="#a03a8a"/><rect x="650.69" y="1418.36" width="11.83" height="11.82" fill="#000000"/><rect x="662.52" y="1418.36" width="11.83" height="11.82" fill="#000000"/><rect x="674.35" y="1418.36" width="11.83" height="11.82" fill="#a03a8a"/><rect x="686.18" y="1418.36" width="11.83" height="11.82" fill="#000000"/><rect x="698.02" y="1418.36" width="11.83" height="11.82" fill="#000000"/><rect x="709.85" y="1418.36" width="11.83" height="11.82" fill="#c44068"/><rect x="721.68" y="1418.36" width="11.83" height="11.82" fill="#c44068"/><rect x="733.51" y="1418.36" width="11.83" height="11.82" fill="#000000"/><rect x="745.35" y="1418.36" width="11.83" height="11.82" fill="#000000"/><rect x="757.18" y="1418.36" width="11.83" height="11.82" fill="#000000"/><rect x="769.01" y="1418.36" width="11.83" height="11.82" fill="#000000"/><rect x="780.84" y="1418.36" width="11.83" height="11.82" fill="#a03a8a"/><rect x="792.67" y="1418.36" width="11.83" height="11.82" fill="#000000"/><rect x="804.51" y="1418.36" width="11.83" height="11.82" fill="#ff4826"/><rect x="816.34" y="1418.36" width="11.83" height="11.82" fill="#000000"/><rect x="828.17" y="1418.36" width="11.83" height="11.82" fill="#000000"/><rect x="840.00" y="1418.36" width="11.83" height="11.82" fill="#000000"/><rect x="851.84" y="1418.36" width="11.83" height="11.82" fill="#000000"/><rect x="863.67" y="1418.36" width="11.83" height="11.82" fill="#ff4826"/><rect x="508.70" y="1430.18" width="11.83" height="11.82" fill="#e44444"/><rect x="520.53" y="1430.18" width="11.83" height="11.82" fill="#ff4826"/><rect x="532.36" y="1430.18" width="11.83" height="11.82" fill="#e44444"/><rect x="544.20" y="1430.18" width="11.83" height="11.82" fill="#a03a8a"/><rect x="556.03" y="1430.18" width="11.83" height="11.82" fill="#000000"/><rect x="567.86" y="1430.18" width="11.83" height="11.82" fill="#000000"/><rect x="579.69" y="1430.18" width="11.83" height="11.82" fill="#000000"/><rect x="591.53" y="1430.18" width="11.83" height="11.82" fill="#c44068"/><rect x="603.36" y="1430.18" width="11.83" height="11.82" fill="#000000"/><rect x="615.19" y="1430.18" width="11.83" height="11.82" fill="#a03a8a"/><rect x="627.02" y="1430.18" width="11.83" height="11.82" fill="#000000"/><rect x="638.85" y="1430.18" width="11.83" height="11.82" fill="#5e2ec0"/><rect x="650.69" y="1430.18" width="11.83" height="11.82" fill="#000000"/><rect x="662.52" y="1430.18" width="11.83" height="11.82" fill="#000000"/><rect x="674.35" y="1430.18" width="11.83" height="11.82" fill="#7e32a8"/><rect x="686.18" y="1430.18" width="11.83" height="11.82" fill="#000000"/><rect x="698.02" y="1430.18" width="11.83" height="11.82" fill="#000000"/><rect x="709.85" y="1430.18" width="11.83" height="11.82" fill="#000000"/><rect x="721.68" y="1430.18" width="11.83" height="11.82" fill="#000000"/><rect x="733.51" y="1430.18" width="11.83" height="11.82" fill="#f85e18"/><rect x="745.35" y="1430.18" width="11.83" height="11.82" fill="#f85e18"/><rect x="757.18" y="1430.18" width="11.83" height="11.82" fill="#f85e18"/><rect x="769.01" y="1430.18" width="11.83" height="11.82" fill="#c44068"/><rect x="780.84" y="1430.18" width="11.83" height="11.82" fill="#000000"/><rect x="792.67" y="1430.18" width="11.83" height="11.82" fill="#000000"/><rect x="804.51" y="1430.18" width="11.83" height="11.82" fill="#000000"/><rect x="816.34" y="1430.18" width="11.83" height="11.82" fill="#000000"/><rect x="828.17" y="1430.18" width="11.83" height="11.82" fill="#e44444"/><rect x="840.00" y="1430.18" width="11.83" height="11.82" fill="#000000"/><rect x="851.84" y="1430.18" width="11.83" height="11.82" fill="#000000"/><rect x="863.67" y="1430.18" width="11.83" height="11.82" fill="#000000"/><rect x="508.70" y="1441.99" width="11.83" height="11.82" fill="#c44068"/><rect x="520.53" y="1441.99" width="11.83" height="11.82" fill="#ff4826"/><rect x="532.36" y="1441.99" width="11.83" height="11.82" fill="#f85e18"/><rect x="544.20" y="1441.99" width="11.83" height="11.82" fill="#ff4826"/><rect x="556.03" y="1441.99" width="11.83" height="11.82" fill="#7e32a8"/><rect x="567.86" y="1441.99" width="11.83" height="11.82" fill="#000000"/><rect x="579.69" y="1441.99" width="11.83" height="11.82" fill="#000000"/><rect x="591.53" y="1441.99" width="11.83" height="11.82" fill="#000000"/><rect x="603.36" y="1441.99" width="11.83" height="11.82" fill="#000000"/><rect x="615.19" y="1441.99" width="11.83" height="11.82" fill="#000000"/><rect x="627.02" y="1441.99" width="11.83" height="11.82" fill="#000000"/><rect x="638.85" y="1441.99" width="11.83" height="11.82" fill="#000000"/><rect x="650.69" y="1441.99" width="11.83" height="11.82" fill="#000000"/><rect x="662.52" y="1441.99" width="11.83" height="11.82" fill="#000000"/><rect x="674.35" y="1441.99" width="11.83" height="11.82" fill="#000000"/><rect x="686.18" y="1441.99" width="11.83" height="11.82" fill="#000000"/><rect x="698.02" y="1441.99" width="11.83" height="11.82" fill="#000000"/><rect x="709.85" y="1441.99" width="11.83" height="11.82" fill="#000000"/><rect x="721.68" y="1441.99" width="11.83" height="11.82" fill="#e44444"/><rect x="733.51" y="1441.99" width="11.83" height="11.82" fill="#7e32a8"/><rect x="745.35" y="1441.99" width="11.83" height="11.82" fill="#000000"/><rect x="757.18" y="1441.99" width="11.83" height="11.82" fill="#000000"/><rect x="769.01" y="1441.99" width="11.83" height="11.82" fill="#ec780c"/><rect x="780.84" y="1441.99" width="11.83" height="11.82" fill="#a03a8a"/><rect x="792.67" y="1441.99" width="11.83" height="11.82" fill="#f85e18"/><rect x="804.51" y="1441.99" width="11.83" height="11.82" fill="#e44444"/><rect x="816.34" y="1441.99" width="11.83" height="11.82" fill="#ff4826"/><rect x="828.17" y="1441.99" width="11.83" height="11.82" fill="#000000"/><rect x="840.00" y="1441.99" width="11.83" height="11.82" fill="#000000"/><rect x="851.84" y="1441.99" width="11.83" height="11.82" fill="#000000"/><rect x="863.67" y="1441.99" width="11.83" height="11.82" fill="#000000"/><rect x="508.70" y="1453.81" width="11.83" height="11.82" fill="#f85e18"/><rect x="520.53" y="1453.81" width="11.83" height="11.82" fill="#ec780c"/><rect x="532.36" y="1453.81" width="11.83" height="11.82" fill="#ec780c"/><rect x="544.20" y="1453.81" width="11.83" height="11.82" fill="#ec780c"/><rect x="556.03" y="1453.81" width="11.83" height="11.82" fill="#ff4826"/><rect x="567.86" y="1453.81" width="11.83" height="11.82" fill="#a03a8a"/><rect x="579.69" y="1453.81" width="11.83" height="11.82" fill="#000000"/><rect x="591.53" y="1453.81" width="11.83" height="11.82" fill="#f85e18"/><rect x="603.36" y="1453.81" width="11.83" height="11.82" fill="#ec780c"/><rect x="615.19" y="1453.81" width="11.83" height="11.82" fill="#ec780c"/><rect x="627.02" y="1453.81" width="11.83" height="11.82" fill="#ec780c"/><rect x="638.85" y="1453.81" width="11.83" height="11.82" fill="#c44068"/><rect x="650.69" y="1453.81" width="11.83" height="11.82" fill="#000000"/><rect x="662.52" y="1453.81" width="11.83" height="11.82" fill="#000000"/><rect x="674.35" y="1453.81" width="11.83" height="11.82" fill="#000000"/><rect x="686.18" y="1453.81" width="11.83" height="11.82" fill="#000000"/><rect x="698.02" y="1453.81" width="11.83" height="11.82" fill="#a03a8a"/><rect x="709.85" y="1453.81" width="11.83" height="11.82" fill="#000000"/><rect x="721.68" y="1453.81" width="11.83" height="11.82" fill="#e44444"/><rect x="733.51" y="1453.81" width="11.83" height="11.82" fill="#e6920e"/><rect x="745.35" y="1453.81" width="11.83" height="11.82" fill="#f85e18"/><rect x="757.18" y="1453.81" width="11.83" height="11.82" fill="#c44068"/><rect x="769.01" y="1453.81" width="11.83" height="11.82" fill="#f85e18"/><rect x="780.84" y="1453.81" width="11.83" height="11.82" fill="#000000"/><rect x="792.67" y="1453.81" width="11.83" height="11.82" fill="#e44444"/><rect x="804.51" y="1453.81" width="11.83" height="11.82" fill="#ec780c"/><rect x="816.34" y="1453.81" width="11.83" height="11.82" fill="#ec780c"/><rect x="828.17" y="1453.81" width="11.83" height="11.82" fill="#ec780c"/><rect x="840.00" y="1453.81" width="11.83" height="11.82" fill="#e44444"/><rect x="851.84" y="1453.81" width="11.83" height="11.82" fill="#000000"/><rect x="863.67" y="1453.81" width="11.83" height="11.82" fill="#e44444"/><rect x="508.70" y="1465.63" width="11.83" height="11.82" fill="#c44068"/><rect x="520.53" y="1465.63" width="11.83" height="11.82" fill="#ec780c"/><rect x="532.36" y="1465.63" width="11.83" height="11.82" fill="#e6920e"/><rect x="544.20" y="1465.63" width="11.83" height="11.82" fill="#e6920e"/><rect x="556.03" y="1465.63" width="11.83" height="11.82" fill="#ff4826"/><rect x="567.86" y="1465.63" width="11.83" height="11.82" fill="#c44068"/><rect x="579.69" y="1465.63" width="11.83" height="11.82" fill="#000000"/><rect x="591.53" y="1465.63" width="11.83" height="11.82" fill="#ff4826"/><rect x="603.36" y="1465.63" width="11.83" height="11.82" fill="#e6920e"/><rect x="615.19" y="1465.63" width="11.83" height="11.82" fill="#ec780c"/><rect x="627.02" y="1465.63" width="11.83" height="11.82" fill="#e6920e"/><rect x="638.85" y="1465.63" width="11.83" height="11.82" fill="#ec780c"/><rect x="650.69" y="1465.63" width="11.83" height="11.82" fill="#e44444"/><rect x="662.52" y="1465.63" width="11.83" height="11.82" fill="#000000"/><rect x="674.35" y="1465.63" width="11.83" height="11.82" fill="#000000"/><rect x="686.18" y="1465.63" width="11.83" height="11.82" fill="#000000"/><rect x="698.02" y="1465.63" width="11.83" height="11.82" fill="#e44444"/><rect x="709.85" y="1465.63" width="11.83" height="11.82" fill="#000000"/><rect x="721.68" y="1465.63" width="11.83" height="11.82" fill="#ff4826"/><rect x="733.51" y="1465.63" width="11.83" height="11.82" fill="#e6920e"/><rect x="745.35" y="1465.63" width="11.83" height="11.82" fill="#f85e18"/><rect x="757.18" y="1465.63" width="11.83" height="11.82" fill="#f85e18"/><rect x="769.01" y="1465.63" width="11.83" height="11.82" fill="#000000"/><rect x="780.84" y="1465.63" width="11.83" height="11.82" fill="#ff4826"/><rect x="792.67" y="1465.63" width="11.83" height="11.82" fill="#c44068"/><rect x="804.51" y="1465.63" width="11.83" height="11.82" fill="#ff4826"/><rect x="816.34" y="1465.63" width="11.83" height="11.82" fill="#f85e18"/><rect x="828.17" y="1465.63" width="11.83" height="11.82" fill="#f85e18"/><rect x="840.00" y="1465.63" width="11.83" height="11.82" fill="#000000"/><rect x="851.84" y="1465.63" width="11.83" height="11.82" fill="#000000"/><rect x="863.67" y="1465.63" width="11.83" height="11.82" fill="#a03a8a"/><rect x="508.70" y="1477.44" width="11.83" height="11.82" fill="#000000"/><rect x="520.53" y="1477.44" width="11.83" height="11.82" fill="#ec780c"/><rect x="532.36" y="1477.44" width="11.83" height="11.82" fill="#ec780c"/><rect x="544.20" y="1477.44" width="11.83" height="11.82" fill="#ec780c"/><rect x="556.03" y="1477.44" width="11.83" height="11.82" fill="#ff4826"/><rect x="567.86" y="1477.44" width="11.83" height="11.82" fill="#e44444"/><rect x="579.69" y="1477.44" width="11.83" height="11.82" fill="#5e2ec0"/><rect x="591.53" y="1477.44" width="11.83" height="11.82" fill="#f85e18"/><rect x="603.36" y="1477.44" width="11.83" height="11.82" fill="#e6920e"/><rect x="615.19" y="1477.44" width="11.83" height="11.82" fill="#e6920e"/><rect x="627.02" y="1477.44" width="11.83" height="11.82" fill="#e6920e"/><rect x="638.85" y="1477.44" width="11.83" height="11.82" fill="#ec780c"/><rect x="650.69" y="1477.44" width="11.83" height="11.82" fill="#ec780c"/><rect x="662.52" y="1477.44" width="11.83" height="11.82" fill="#c44068"/><rect x="674.35" y="1477.44" width="11.83" height="11.82" fill="#000000"/><rect x="686.18" y="1477.44" width="11.83" height="11.82" fill="#000000"/><rect x="698.02" y="1477.44" width="11.83" height="11.82" fill="#000000"/><rect x="709.85" y="1477.44" width="11.83" height="11.82" fill="#ff4826"/><rect x="721.68" y="1477.44" width="11.83" height="11.82" fill="#c44068"/><rect x="733.51" y="1477.44" width="11.83" height="11.82" fill="#e6920e"/><rect x="745.35" y="1477.44" width="11.83" height="11.82" fill="#f85e18"/><rect x="757.18" y="1477.44" width="11.83" height="11.82" fill="#ec780c"/><rect x="769.01" y="1477.44" width="11.83" height="11.82" fill="#c44068"/><rect x="780.84" y="1477.44" width="11.83" height="11.82" fill="#ec780c"/><rect x="792.67" y="1477.44" width="11.83" height="11.82" fill="#c44068"/><rect x="804.51" y="1477.44" width="11.83" height="11.82" fill="#ff4826"/><rect x="816.34" y="1477.44" width="11.83" height="11.82" fill="#000000"/><rect x="828.17" y="1477.44" width="11.83" height="11.82" fill="#f85e18"/><rect x="840.00" y="1477.44" width="11.83" height="11.82" fill="#ec780c"/><rect x="851.84" y="1477.44" width="11.83" height="11.82" fill="#7e32a8"/><rect x="863.67" y="1477.44" width="11.83" height="11.82" fill="#c44068"/><rect x="508.70" y="1489.26" width="11.83" height="11.82" fill="#000000"/><rect x="520.53" y="1489.26" width="11.83" height="11.82" fill="#ff4826"/><rect x="532.36" y="1489.26" width="11.83" height="11.82" fill="#ec780c"/><rect x="544.20" y="1489.26" width="11.83" height="11.82" fill="#ec780c"/><rect x="556.03" y="1489.26" width="11.83" height="11.82" fill="#ff4826"/><rect x="567.86" y="1489.26" width="11.83" height="11.82" fill="#c44068"/><rect x="579.69" y="1489.26" width="11.83" height="11.82" fill="#000000"/><rect x="591.53" y="1489.26" width="11.83" height="11.82" fill="#c44068"/><rect x="603.36" y="1489.26" width="11.83" height="11.82" fill="#f85e18"/><rect x="615.19" y="1489.26" width="11.83" height="11.82" fill="#e6920e"/><rect x="627.02" y="1489.26" width="11.83" height="11.82" fill="#e6920e"/><rect x="638.85" y="1489.26" width="11.83" height="11.82" fill="#ec780c"/><rect x="650.69" y="1489.26" width="11.83" height="11.82" fill="#c44068"/><rect x="662.52" y="1489.26" width="11.83" height="11.82" fill="#000000"/><rect x="674.35" y="1489.26" width="11.83" height="11.82" fill="#e44444"/><rect x="686.18" y="1489.26" width="11.83" height="11.82" fill="#c44068"/><rect x="698.02" y="1489.26" width="11.83" height="11.82" fill="#000000"/><rect x="709.85" y="1489.26" width="11.83" height="11.82" fill="#e44444"/><rect x="721.68" y="1489.26" width="11.83" height="11.82" fill="#ff4826"/><rect x="733.51" y="1489.26" width="11.83" height="11.82" fill="#ec780c"/><rect x="745.35" y="1489.26" width="11.83" height="11.82" fill="#ec780c"/><rect x="757.18" y="1489.26" width="11.83" height="11.82" fill="#ec780c"/><rect x="769.01" y="1489.26" width="11.83" height="11.82" fill="#ff4826"/><rect x="780.84" y="1489.26" width="11.83" height="11.82" fill="#e6920e"/><rect x="792.67" y="1489.26" width="11.83" height="11.82" fill="#f85e18"/><rect x="804.51" y="1489.26" width="11.83" height="11.82" fill="#ff4826"/><rect x="816.34" y="1489.26" width="11.83" height="11.82" fill="#e44444"/><rect x="828.17" y="1489.26" width="11.83" height="11.82" fill="#ff4826"/><rect x="840.00" y="1489.26" width="11.83" height="11.82" fill="#f85e18"/><rect x="851.84" y="1489.26" width="11.83" height="11.82" fill="#f85e18"/><rect x="863.67" y="1489.26" width="11.83" height="11.82" fill="#000000"/><rect x="508.70" y="1501.07" width="11.83" height="11.82" fill="#c44068"/><rect x="520.53" y="1501.07" width="11.83" height="11.82" fill="#e44444"/><rect x="532.36" y="1501.07" width="11.83" height="11.82" fill="#f85e18"/><rect x="544.20" y="1501.07" width="11.83" height="11.82" fill="#ec780c"/><rect x="556.03" y="1501.07" width="11.83" height="11.82" fill="#ec780c"/><rect x="567.86" y="1501.07" width="11.83" height="11.82" fill="#e44444"/><rect x="579.69" y="1501.07" width="11.83" height="11.82" fill="#c44068"/><rect x="591.53" y="1501.07" width="11.83" height="11.82" fill="#c44068"/><rect x="603.36" y="1501.07" width="11.83" height="11.82" fill="#e44444"/><rect x="615.19" y="1501.07" width="11.83" height="11.82" fill="#ec780c"/><rect x="627.02" y="1501.07" width="11.83" height="11.82" fill="#ec780c"/><rect x="638.85" y="1501.07" width="11.83" height="11.82" fill="#e6920e"/><rect x="650.69" y="1501.07" width="11.83" height="11.82" fill="#f85e18"/><rect x="662.52" y="1501.07" width="11.83" height="11.82" fill="#5e2ec0"/><rect x="674.35" y="1501.07" width="11.83" height="11.82" fill="#a03a8a"/><rect x="686.18" y="1501.07" width="11.83" height="11.82" fill="#000000"/><rect x="698.02" y="1501.07" width="11.83" height="11.82" fill="#ff4826"/><rect x="709.85" y="1501.07" width="11.83" height="11.82" fill="#ec780c"/><rect x="721.68" y="1501.07" width="11.83" height="11.82" fill="#e6920e"/><rect x="733.51" y="1501.07" width="11.83" height="11.82" fill="#ec780c"/><rect x="745.35" y="1501.07" width="11.83" height="11.82" fill="#e6920e"/><rect x="757.18" y="1501.07" width="11.83" height="11.82" fill="#ec780c"/><rect x="769.01" y="1501.07" width="11.83" height="11.82" fill="#ec780c"/><rect x="780.84" y="1501.07" width="11.83" height="11.82" fill="#ec780c"/><rect x="792.67" y="1501.07" width="11.83" height="11.82" fill="#ec780c"/><rect x="804.51" y="1501.07" width="11.83" height="11.82" fill="#ff4826"/><rect x="816.34" y="1501.07" width="11.83" height="11.82" fill="#c44068"/><rect x="828.17" y="1501.07" width="11.83" height="11.82" fill="#ff4826"/><rect x="840.00" y="1501.07" width="11.83" height="11.82" fill="#000000"/><rect x="851.84" y="1501.07" width="11.83" height="11.82" fill="#ec780c"/><rect x="863.67" y="1501.07" width="11.83" height="11.82" fill="#ff4826"/><rect x="508.70" y="1512.89" width="11.83" height="11.82" fill="#000000"/><rect x="520.53" y="1512.89" width="11.83" height="11.82" fill="#000000"/><rect x="532.36" y="1512.89" width="11.83" height="11.82" fill="#a03a8a"/><rect x="544.20" y="1512.89" width="11.83" height="11.82" fill="#e44444"/><rect x="556.03" y="1512.89" width="11.83" height="11.82" fill="#e44444"/><rect x="567.86" y="1512.89" width="11.83" height="11.82" fill="#7e32a8"/><rect x="579.69" y="1512.89" width="11.83" height="11.82" fill="#000000"/><rect x="591.53" y="1512.89" width="11.83" height="11.82" fill="#c44068"/><rect x="603.36" y="1512.89" width="11.83" height="11.82" fill="#c44068"/><rect x="615.19" y="1512.89" width="11.83" height="11.82" fill="#f85e18"/><rect x="627.02" y="1512.89" width="11.83" height="11.82" fill="#ec780c"/><rect x="638.85" y="1512.89" width="11.83" height="11.82" fill="#ec780c"/><rect x="650.69" y="1512.89" width="11.83" height="11.82" fill="#ec780c"/><rect x="662.52" y="1512.89" width="11.83" height="11.82" fill="#f85e18"/><rect x="674.35" y="1512.89" width="11.83" height="11.82" fill="#f85e18"/><rect x="686.18" y="1512.89" width="11.83" height="11.82" fill="#f85e18"/><rect x="698.02" y="1512.89" width="11.83" height="11.82" fill="#000000"/><rect x="709.85" y="1512.89" width="11.83" height="11.82" fill="#000000"/><rect x="721.68" y="1512.89" width="11.83" height="11.82" fill="#ec780c"/><rect x="733.51" y="1512.89" width="11.83" height="11.82" fill="#e6920e"/><rect x="745.35" y="1512.89" width="11.83" height="11.82" fill="#e6920e"/><rect x="757.18" y="1512.89" width="11.83" height="11.82" fill="#ec780c"/><rect x="769.01" y="1512.89" width="11.83" height="11.82" fill="#ff4826"/><rect x="780.84" y="1512.89" width="11.83" height="11.82" fill="#f85e18"/><rect x="792.67" y="1512.89" width="11.83" height="11.82" fill="#f85e18"/><rect x="804.51" y="1512.89" width="11.83" height="11.82" fill="#000000"/><rect x="816.34" y="1512.89" width="11.83" height="11.82" fill="#7e32a8"/><rect x="828.17" y="1512.89" width="11.83" height="11.82" fill="#f85e18"/><rect x="840.00" y="1512.89" width="11.83" height="11.82" fill="#f85e18"/><rect x="851.84" y="1512.89" width="11.83" height="11.82" fill="#000000"/><rect x="863.67" y="1512.89" width="11.83" height="11.82" fill="#000000"/><rect x="508.70" y="1524.71" width="11.83" height="11.82" fill="#000000"/><rect x="520.53" y="1524.71" width="11.83" height="11.82" fill="#000000"/><rect x="532.36" y="1524.71" width="11.83" height="11.82" fill="#000000"/><rect x="544.20" y="1524.71" width="11.83" height="11.82" fill="#000000"/><rect x="556.03" y="1524.71" width="11.83" height="11.82" fill="#c44068"/><rect x="567.86" y="1524.71" width="11.83" height="11.82" fill="#e44444"/><rect x="579.69" y="1524.71" width="11.83" height="11.82" fill="#a03a8a"/><rect x="591.53" y="1524.71" width="11.83" height="11.82" fill="#c44068"/><rect x="603.36" y="1524.71" width="11.83" height="11.82" fill="#5e2ec0"/><rect x="615.19" y="1524.71" width="11.83" height="11.82" fill="#ff4826"/><rect x="627.02" y="1524.71" width="11.83" height="11.82" fill="#f85e18"/><rect x="638.85" y="1524.71" width="11.83" height="11.82" fill="#f85e18"/><rect x="650.69" y="1524.71" width="11.83" height="11.82" fill="#f85e18"/><rect x="662.52" y="1524.71" width="11.83" height="11.82" fill="#000000"/><rect x="674.35" y="1524.71" width="11.83" height="11.82" fill="#000000"/><rect x="686.18" y="1524.71" width="11.83" height="11.82" fill="#000000"/><rect x="698.02" y="1524.71" width="11.83" height="11.82" fill="#a03a8a"/><rect x="709.85" y="1524.71" width="11.83" height="11.82" fill="#e44444"/><rect x="721.68" y="1524.71" width="11.83" height="11.82" fill="#ff4826"/><rect x="733.51" y="1524.71" width="11.83" height="11.82" fill="#000000"/><rect x="745.35" y="1524.71" width="11.83" height="11.82" fill="#c44068"/><rect x="757.18" y="1524.71" width="11.83" height="11.82" fill="#ff4826"/><rect x="769.01" y="1524.71" width="11.83" height="11.82" fill="#e44444"/><rect x="780.84" y="1524.71" width="11.83" height="11.82" fill="#e44444"/><rect x="792.67" y="1524.71" width="11.83" height="11.82" fill="#f85e18"/><rect x="804.51" y="1524.71" width="11.83" height="11.82" fill="#000000"/><rect x="816.34" y="1524.71" width="11.83" height="11.82" fill="#000000"/><rect x="828.17" y="1524.71" width="11.83" height="11.82" fill="#7e32a8"/><rect x="840.00" y="1524.71" width="11.83" height="11.82" fill="#000000"/><rect x="851.84" y="1524.71" width="11.83" height="11.82" fill="#000000"/><rect x="863.67" y="1524.71" width="11.83" height="11.82" fill="#000000"/><rect x="508.70" y="1536.52" width="11.83" height="11.82" fill="#000000"/><rect x="520.53" y="1536.52" width="11.83" height="11.82" fill="#000000"/><rect x="532.36" y="1536.52" width="11.83" height="11.82" fill="#e44444"/><rect x="544.20" y="1536.52" width="11.83" height="11.82" fill="#ff4826"/><rect x="556.03" y="1536.52" width="11.83" height="11.82" fill="#e44444"/><rect x="567.86" y="1536.52" width="11.83" height="11.82" fill="#c44068"/><rect x="579.69" y="1536.52" width="11.83" height="11.82" fill="#000000"/><rect x="591.53" y="1536.52" width="11.83" height="11.82" fill="#000000"/><rect x="603.36" y="1536.52" width="11.83" height="11.82" fill="#000000"/><rect x="615.19" y="1536.52" width="11.83" height="11.82" fill="#000000"/><rect x="627.02" y="1536.52" width="11.83" height="11.82" fill="#c44068"/><rect x="638.85" y="1536.52" width="11.83" height="11.82" fill="#000000"/><rect x="650.69" y="1536.52" width="11.83" height="11.82" fill="#a03a8a"/><rect x="662.52" y="1536.52" width="11.83" height="11.82" fill="#000000"/><rect x="674.35" y="1536.52" width="11.83" height="11.82" fill="#000000"/><rect x="686.18" y="1536.52" width="11.83" height="11.82" fill="#7e32a8"/><rect x="698.02" y="1536.52" width="11.83" height="11.82" fill="#000000"/><rect x="709.85" y="1536.52" width="11.83" height="11.82" fill="#000000"/><rect x="721.68" y="1536.52" width="11.83" height="11.82" fill="#000000"/><rect x="733.51" y="1536.52" width="11.83" height="11.82" fill="#000000"/><rect x="745.35" y="1536.52" width="11.83" height="11.82" fill="#000000"/><rect x="757.18" y="1536.52" width="11.83" height="11.82" fill="#a03a8a"/><rect x="769.01" y="1536.52" width="11.83" height="11.82" fill="#000000"/><rect x="780.84" y="1536.52" width="11.83" height="11.82" fill="#c44068"/><rect x="792.67" y="1536.52" width="11.83" height="11.82" fill="#000000"/><rect x="804.51" y="1536.52" width="11.83" height="11.82" fill="#7e32a8"/><rect x="816.34" y="1536.52" width="11.83" height="11.82" fill="#7e32a8"/><rect x="828.17" y="1536.52" width="11.83" height="11.82" fill="#000000"/><rect x="840.00" y="1536.52" width="11.83" height="11.82" fill="#a03a8a"/><rect x="851.84" y="1536.52" width="11.83" height="11.82" fill="#000000"/><rect x="863.67" y="1536.52" width="11.83" height="11.82" fill="#000000"/><rect x="508.70" y="1548.34" width="11.83" height="11.82" fill="#7e32a8"/><rect x="520.53" y="1548.34" width="11.83" height="11.82" fill="#c44068"/><rect x="532.36" y="1548.34" width="11.83" height="11.82" fill="#a03a8a"/><rect x="544.20" y="1548.34" width="11.83" height="11.82" fill="#c44068"/><rect x="556.03" y="1548.34" width="11.83" height="11.82" fill="#c44068"/><rect x="567.86" y="1548.34" width="11.83" height="11.82" fill="#f85e18"/><rect x="579.69" y="1548.34" width="11.83" height="11.82" fill="#c44068"/><rect x="591.53" y="1548.34" width="11.83" height="11.82" fill="#ff4826"/><rect x="603.36" y="1548.34" width="11.83" height="11.82" fill="#000000"/><rect x="615.19" y="1548.34" width="11.83" height="11.82" fill="#000000"/><rect x="627.02" y="1548.34" width="11.83" height="11.82" fill="#c44068"/><rect x="638.85" y="1548.34" width="11.83" height="11.82" fill="#c44068"/><rect x="650.69" y="1548.34" width="11.83" height="11.82" fill="#ff4826"/><rect x="662.52" y="1548.34" width="11.83" height="11.82" fill="#000000"/><rect x="674.35" y="1548.34" width="11.83" height="11.82" fill="#000000"/><rect x="686.18" y="1548.34" width="11.83" height="11.82" fill="#000000"/><rect x="698.02" y="1548.34" width="11.83" height="11.82" fill="#000000"/><rect x="709.85" y="1548.34" width="11.83" height="11.82" fill="#000000"/><rect x="721.68" y="1548.34" width="11.83" height="11.82" fill="#000000"/><rect x="733.51" y="1548.34" width="11.83" height="11.82" fill="#000000"/><rect x="745.35" y="1548.34" width="11.83" height="11.82" fill="#000000"/><rect x="757.18" y="1548.34" width="11.83" height="11.82" fill="#000000"/><rect x="769.01" y="1548.34" width="11.83" height="11.82" fill="#000000"/><rect x="780.84" y="1548.34" width="11.83" height="11.82" fill="#ff4826"/><rect x="792.67" y="1548.34" width="11.83" height="11.82" fill="#000000"/><rect x="804.51" y="1548.34" width="11.83" height="11.82" fill="#c44068"/><rect x="816.34" y="1548.34" width="11.83" height="11.82" fill="#7e32a8"/><rect x="828.17" y="1548.34" width="11.83" height="11.82" fill="#000000"/><rect x="840.00" y="1548.34" width="11.83" height="11.82" fill="#5e2ec0"/><rect x="851.84" y="1548.34" width="11.83" height="11.82" fill="#ec780c"/><rect x="863.67" y="1548.34" width="11.83" height="11.82" fill="#f85e18"/><rect x="508.70" y="1560.15" width="11.83" height="11.82" fill="#e44444"/><rect x="520.53" y="1560.15" width="11.83" height="11.82" fill="#ff4826"/><rect x="532.36" y="1560.15" width="11.83" height="11.82" fill="#e44444"/><rect x="544.20" y="1560.15" width="11.83" height="11.82" fill="#f85e18"/><rect x="556.03" y="1560.15" width="11.83" height="11.82" fill="#ec780c"/><rect x="567.86" y="1560.15" width="11.83" height="11.82" fill="#f85e18"/><rect x="579.69" y="1560.15" width="11.83" height="11.82" fill="#c44068"/><rect x="591.53" y="1560.15" width="11.83" height="11.82" fill="#f85e18"/><rect x="603.36" y="1560.15" width="11.83" height="11.82" fill="#ff4826"/><rect x="615.19" y="1560.15" width="11.83" height="11.82" fill="#ff4826"/><rect x="627.02" y="1560.15" width="11.83" height="11.82" fill="#ec780c"/><rect x="638.85" y="1560.15" width="11.83" height="11.82" fill="#ff4826"/><rect x="650.69" y="1560.15" width="11.83" height="11.82" fill="#f85e18"/><rect x="662.52" y="1560.15" width="11.83" height="11.82" fill="#5e2ec0"/><rect x="674.35" y="1560.15" width="11.83" height="11.82" fill="#f85e18"/><rect x="686.18" y="1560.15" width="11.83" height="11.82" fill="#a03a8a"/><rect x="698.02" y="1560.15" width="11.83" height="11.82" fill="#a03a8a"/><rect x="709.85" y="1560.15" width="11.83" height="11.82" fill="#c44068"/><rect x="721.68" y="1560.15" width="11.83" height="11.82" fill="#ff4826"/><rect x="733.51" y="1560.15" width="11.83" height="11.82" fill="#000000"/><rect x="745.35" y="1560.15" width="11.83" height="11.82" fill="#000000"/><rect x="757.18" y="1560.15" width="11.83" height="11.82" fill="#7e32a8"/><rect x="769.01" y="1560.15" width="11.83" height="11.82" fill="#000000"/><rect x="780.84" y="1560.15" width="11.83" height="11.82" fill="#ff4826"/><rect x="792.67" y="1560.15" width="11.83" height="11.82" fill="#ff4826"/><rect x="804.51" y="1560.15" width="11.83" height="11.82" fill="#f85e18"/><rect x="816.34" y="1560.15" width="11.83" height="11.82" fill="#f85e18"/><rect x="828.17" y="1560.15" width="11.83" height="11.82" fill="#ff4826"/><rect x="840.00" y="1560.15" width="11.83" height="11.82" fill="#000000"/><rect x="851.84" y="1560.15" width="11.83" height="11.82" fill="#000000"/><rect x="863.67" y="1560.15" width="11.83" height="11.82" fill="#f85e18"/><rect x="508.70" y="1571.97" width="11.83" height="11.82" fill="#e44444"/><rect x="520.53" y="1571.97" width="11.83" height="11.82" fill="#e44444"/><rect x="532.36" y="1571.97" width="11.83" height="11.82" fill="#000000"/><rect x="544.20" y="1571.97" width="11.83" height="11.82" fill="#000000"/><rect x="556.03" y="1571.97" width="11.83" height="11.82" fill="#5e2ec0"/><rect x="567.86" y="1571.97" width="11.83" height="11.82" fill="#f85e18"/><rect x="579.69" y="1571.97" width="11.83" height="11.82" fill="#e44444"/><rect x="591.53" y="1571.97" width="11.83" height="11.82" fill="#ec780c"/><rect x="603.36" y="1571.97" width="11.83" height="11.82" fill="#ec780c"/><rect x="615.19" y="1571.97" width="11.83" height="11.82" fill="#ec780c"/><rect x="627.02" y="1571.97" width="11.83" height="11.82" fill="#ff4826"/><rect x="638.85" y="1571.97" width="11.83" height="11.82" fill="#ec780c"/><rect x="650.69" y="1571.97" width="11.83" height="11.82" fill="#e44444"/><rect x="662.52" y="1571.97" width="11.83" height="11.82" fill="#ff4826"/><rect x="674.35" y="1571.97" width="11.83" height="11.82" fill="#ec780c"/><rect x="686.18" y="1571.97" width="11.83" height="11.82" fill="#c44068"/><rect x="698.02" y="1571.97" width="11.83" height="11.82" fill="#e44444"/><rect x="709.85" y="1571.97" width="11.83" height="11.82" fill="#c44068"/><rect x="721.68" y="1571.97" width="11.83" height="11.82" fill="#f85e18"/><rect x="733.51" y="1571.97" width="11.83" height="11.82" fill="#7e32a8"/><rect x="745.35" y="1571.97" width="11.83" height="11.82" fill="#e44444"/><rect x="757.18" y="1571.97" width="11.83" height="11.82" fill="#e44444"/><rect x="769.01" y="1571.97" width="11.83" height="11.82" fill="#ec780c"/><rect x="780.84" y="1571.97" width="11.83" height="11.82" fill="#a03a8a"/><rect x="792.67" y="1571.97" width="11.83" height="11.82" fill="#ff4826"/><rect x="804.51" y="1571.97" width="11.83" height="11.82" fill="#000000"/><rect x="816.34" y="1571.97" width="11.83" height="11.82" fill="#000000"/><rect x="828.17" y="1571.97" width="11.83" height="11.82" fill="#000000"/><rect x="840.00" y="1571.97" width="11.83" height="11.82" fill="#000000"/><rect x="851.84" y="1571.97" width="11.83" height="11.82" fill="#000000"/><rect x="863.67" y="1571.97" width="11.83" height="11.82" fill="#000000"/><rect x="508.70" y="1583.79" width="11.83" height="11.82" fill="#7e32a8"/><rect x="520.53" y="1583.79" width="11.83" height="11.82" fill="#7e32a8"/><rect x="532.36" y="1583.79" width="11.83" height="11.82" fill="#a03a8a"/><rect x="544.20" y="1583.79" width="11.83" height="11.82" fill="#000000"/><rect x="556.03" y="1583.79" width="11.83" height="11.82" fill="#e44444"/><rect x="567.86" y="1583.79" width="11.83" height="11.82" fill="#e44444"/><rect x="579.69" y="1583.79" width="11.83" height="11.82" fill="#c44068"/><rect x="591.53" y="1583.79" width="11.83" height="11.82" fill="#ff4826"/><rect x="603.36" y="1583.79" width="11.83" height="11.82" fill="#ec780c"/><rect x="615.19" y="1583.79" width="11.83" height="11.82" fill="#ec780c"/><rect x="627.02" y="1583.79" width="11.83" height="11.82" fill="#ff4826"/><rect x="638.85" y="1583.79" width="11.83" height="11.82" fill="#ec780c"/><rect x="650.69" y="1583.79" width="11.83" height="11.82" fill="#f85e18"/><rect x="662.52" y="1583.79" width="11.83" height="11.82" fill="#ec780c"/><rect x="674.35" y="1583.79" width="11.83" height="11.82" fill="#ec780c"/><rect x="686.18" y="1583.79" width="11.83" height="11.82" fill="#f85e18"/><rect x="698.02" y="1583.79" width="11.83" height="11.82" fill="#c44068"/><rect x="709.85" y="1583.79" width="11.83" height="11.82" fill="#f85e18"/><rect x="721.68" y="1583.79" width="11.83" height="11.82" fill="#f85e18"/><rect x="733.51" y="1583.79" width="11.83" height="11.82" fill="#e44444"/><rect x="745.35" y="1583.79" width="11.83" height="11.82" fill="#ec780c"/><rect x="757.18" y="1583.79" width="11.83" height="11.82" fill="#000000"/><rect x="769.01" y="1583.79" width="11.83" height="11.82" fill="#ec780c"/><rect x="780.84" y="1583.79" width="11.83" height="11.82" fill="#f85e18"/><rect x="792.67" y="1583.79" width="11.83" height="11.82" fill="#c44068"/><rect x="804.51" y="1583.79" width="11.83" height="11.82" fill="#000000"/><rect x="816.34" y="1583.79" width="11.83" height="11.82" fill="#e44444"/><rect x="828.17" y="1583.79" width="11.83" height="11.82" fill="#000000"/><rect x="840.00" y="1583.79" width="11.83" height="11.82" fill="#ff4826"/><rect x="851.84" y="1583.79" width="11.83" height="11.82" fill="#ff4826"/><rect x="863.67" y="1583.79" width="11.83" height="11.82" fill="#c44068"/><rect x="508.70" y="1595.60" width="11.83" height="11.82" fill="#000000"/><rect x="520.53" y="1595.60" width="11.83" height="11.82" fill="#000000"/><rect x="532.36" y="1595.60" width="11.83" height="11.82" fill="#000000"/><rect x="544.20" y="1595.60" width="11.83" height="11.82" fill="#000000"/><rect x="556.03" y="1595.60" width="11.83" height="11.82" fill="#000000"/><rect x="567.86" y="1595.60" width="11.83" height="11.82" fill="#000000"/><rect x="579.69" y="1595.60" width="11.83" height="11.82" fill="#a03a8a"/><rect x="591.53" y="1595.60" width="11.83" height="11.82" fill="#c44068"/><rect x="603.36" y="1595.60" width="11.83" height="11.82" fill="#000000"/><rect x="615.19" y="1595.60" width="11.83" height="11.82" fill="#000000"/><rect x="627.02" y="1595.60" width="11.83" height="11.82" fill="#7e32a8"/><rect x="638.85" y="1595.60" width="11.83" height="11.82" fill="#000000"/><rect x="650.69" y="1595.60" width="11.83" height="11.82" fill="#000000"/><rect x="662.52" y="1595.60" width="11.83" height="11.82" fill="#a03a8a"/><rect x="674.35" y="1595.60" width="11.83" height="11.82" fill="#e44444"/><rect x="686.18" y="1595.60" width="11.83" height="11.82" fill="#000000"/><rect x="698.02" y="1595.60" width="11.83" height="11.82" fill="#000000"/><rect x="709.85" y="1595.60" width="11.83" height="11.82" fill="#f85e18"/><rect x="721.68" y="1595.60" width="11.83" height="11.82" fill="#000000"/><rect x="733.51" y="1595.60" width="11.83" height="11.82" fill="#ff4826"/><rect x="745.35" y="1595.60" width="11.83" height="11.82" fill="#7e32a8"/><rect x="757.18" y="1595.60" width="11.83" height="11.82" fill="#000000"/><rect x="769.01" y="1595.60" width="11.83" height="11.82" fill="#f85e18"/><rect x="780.84" y="1595.60" width="11.83" height="11.82" fill="#f85e18"/><rect x="792.67" y="1595.60" width="11.83" height="11.82" fill="#000000"/><rect x="804.51" y="1595.60" width="11.83" height="11.82" fill="#000000"/><rect x="816.34" y="1595.60" width="11.83" height="11.82" fill="#a03a8a"/><rect x="828.17" y="1595.60" width="11.83" height="11.82" fill="#c44068"/><rect x="840.00" y="1595.60" width="11.83" height="11.82" fill="#000000"/><rect x="851.84" y="1595.60" width="11.83" height="11.82" fill="#000000"/><rect x="863.67" y="1595.60" width="11.83" height="11.82" fill="#000000"/><rect x="508.70" y="1607.42" width="11.83" height="11.82" fill="#000000"/><rect x="520.53" y="1607.42" width="11.83" height="11.82" fill="#a03a8a"/><rect x="532.36" y="1607.42" width="11.83" height="11.82" fill="#000000"/><rect x="544.20" y="1607.42" width="11.83" height="11.82" fill="#ff4826"/><rect x="556.03" y="1607.42" width="11.83" height="11.82" fill="#c44068"/><rect x="567.86" y="1607.42" width="11.83" height="11.82" fill="#e44444"/><rect x="579.69" y="1607.42" width="11.83" height="11.82" fill="#000000"/><rect x="591.53" y="1607.42" width="11.83" height="11.82" fill="#7e32a8"/><rect x="603.36" y="1607.42" width="11.83" height="11.82" fill="#c44068"/><rect x="615.19" y="1607.42" width="11.83" height="11.82" fill="#000000"/><rect x="627.02" y="1607.42" width="11.83" height="11.82" fill="#000000"/><rect x="638.85" y="1607.42" width="11.83" height="11.82" fill="#000000"/><rect x="650.69" y="1607.42" width="11.83" height="11.82" fill="#000000"/><rect x="662.52" y="1607.42" width="11.83" height="11.82" fill="#000000"/><rect x="674.35" y="1607.42" width="11.83" height="11.82" fill="#e44444"/><rect x="686.18" y="1607.42" width="11.83" height="11.82" fill="#7e32a8"/><rect x="698.02" y="1607.42" width="11.83" height="11.82" fill="#ff4826"/><rect x="709.85" y="1607.42" width="11.83" height="11.82" fill="#f85e18"/><rect x="721.68" y="1607.42" width="11.83" height="11.82" fill="#000000"/><rect x="733.51" y="1607.42" width="11.83" height="11.82" fill="#f85e18"/><rect x="745.35" y="1607.42" width="11.83" height="11.82" fill="#7e32a8"/><rect x="757.18" y="1607.42" width="11.83" height="11.82" fill="#e44444"/><rect x="769.01" y="1607.42" width="11.83" height="11.82" fill="#c44068"/><rect x="780.84" y="1607.42" width="11.83" height="11.82" fill="#c44068"/><rect x="792.67" y="1607.42" width="11.83" height="11.82" fill="#000000"/><rect x="804.51" y="1607.42" width="11.83" height="11.82" fill="#f85e18"/><rect x="816.34" y="1607.42" width="11.83" height="11.82" fill="#5e2ec0"/><rect x="828.17" y="1607.42" width="11.83" height="11.82" fill="#c44068"/><rect x="840.00" y="1607.42" width="11.83" height="11.82" fill="#000000"/><rect x="851.84" y="1607.42" width="11.83" height="11.82" fill="#000000"/><rect x="863.67" y="1607.42" width="11.83" height="11.82" fill="#000000"/><rect x="508.70" y="1619.24" width="11.83" height="11.82" fill="#e44444"/><rect x="520.53" y="1619.24" width="11.83" height="11.82" fill="#ff4826"/><rect x="532.36" y="1619.24" width="11.83" height="11.82" fill="#e44444"/><rect x="544.20" y="1619.24" width="11.83" height="11.82" fill="#f85e18"/><rect x="556.03" y="1619.24" width="11.83" height="11.82" fill="#ff4826"/><rect x="567.86" y="1619.24" width="11.83" height="11.82" fill="#f85e18"/><rect x="579.69" y="1619.24" width="11.83" height="11.82" fill="#c44068"/><rect x="591.53" y="1619.24" width="11.83" height="11.82" fill="#ff4826"/><rect x="603.36" y="1619.24" width="11.83" height="11.82" fill="#f85e18"/><rect x="615.19" y="1619.24" width="11.83" height="11.82" fill="#ec780c"/><rect x="627.02" y="1619.24" width="11.83" height="11.82" fill="#f85e18"/><rect x="638.85" y="1619.24" width="11.83" height="11.82" fill="#ec780c"/><rect x="650.69" y="1619.24" width="11.83" height="11.82" fill="#ec780c"/><rect x="662.52" y="1619.24" width="11.83" height="11.82" fill="#f85e18"/><rect x="674.35" y="1619.24" width="11.83" height="11.82" fill="#f85e18"/><rect x="686.18" y="1619.24" width="11.83" height="11.82" fill="#ec780c"/><rect x="698.02" y="1619.24" width="11.83" height="11.82" fill="#ec780c"/><rect x="709.85" y="1619.24" width="11.83" height="11.82" fill="#f85e18"/><rect x="721.68" y="1619.24" width="11.83" height="11.82" fill="#e44444"/><rect x="733.51" y="1619.24" width="11.83" height="11.82" fill="#ec780c"/><rect x="745.35" y="1619.24" width="11.83" height="11.82" fill="#ff4826"/><rect x="757.18" y="1619.24" width="11.83" height="11.82" fill="#e44444"/><rect x="769.01" y="1619.24" width="11.83" height="11.82" fill="#000000"/><rect x="780.84" y="1619.24" width="11.83" height="11.82" fill="#c44068"/><rect x="792.67" y="1619.24" width="11.83" height="11.82" fill="#000000"/><rect x="804.51" y="1619.24" width="11.83" height="11.82" fill="#e44444"/><rect x="816.34" y="1619.24" width="11.83" height="11.82" fill="#c44068"/><rect x="828.17" y="1619.24" width="11.83" height="11.82" fill="#f85e18"/><rect x="840.00" y="1619.24" width="11.83" height="11.82" fill="#ff4826"/><rect x="851.84" y="1619.24" width="11.83" height="11.82" fill="#e44444"/><rect x="863.67" y="1619.24" width="11.83" height="11.82" fill="#e44444"/><rect x="508.70" y="1631.05" width="11.83" height="11.82" fill="#c44068"/><rect x="520.53" y="1631.05" width="11.83" height="11.82" fill="#ff4826"/><rect x="532.36" y="1631.05" width="11.83" height="11.82" fill="#ff4826"/><rect x="544.20" y="1631.05" width="11.83" height="11.82" fill="#c44068"/><rect x="556.03" y="1631.05" width="11.83" height="11.82" fill="#5e2ec0"/><rect x="567.86" y="1631.05" width="11.83" height="11.82" fill="#f85e18"/><rect x="579.69" y="1631.05" width="11.83" height="11.82" fill="#ff4826"/><rect x="591.53" y="1631.05" width="11.83" height="11.82" fill="#ec780c"/><rect x="603.36" y="1631.05" width="11.83" height="11.82" fill="#ec780c"/><rect x="615.19" y="1631.05" width="11.83" height="11.82" fill="#ec780c"/><rect x="627.02" y="1631.05" width="11.83" height="11.82" fill="#ec780c"/><rect x="638.85" y="1631.05" width="11.83" height="11.82" fill="#f85e18"/><rect x="650.69" y="1631.05" width="11.83" height="11.82" fill="#ec780c"/><rect x="662.52" y="1631.05" width="11.83" height="11.82" fill="#ec780c"/><rect x="674.35" y="1631.05" width="11.83" height="11.82" fill="#f85e18"/><rect x="686.18" y="1631.05" width="11.83" height="11.82" fill="#f85e18"/><rect x="698.02" y="1631.05" width="11.83" height="11.82" fill="#ec780c"/><rect x="709.85" y="1631.05" width="11.83" height="11.82" fill="#ff4826"/><rect x="721.68" y="1631.05" width="11.83" height="11.82" fill="#ec780c"/><rect x="733.51" y="1631.05" width="11.83" height="11.82" fill="#ec780c"/><rect x="745.35" y="1631.05" width="11.83" height="11.82" fill="#e44444"/><rect x="757.18" y="1631.05" width="11.83" height="11.82" fill="#f85e18"/><rect x="769.01" y="1631.05" width="11.83" height="11.82" fill="#7e32a8"/><rect x="780.84" y="1631.05" width="11.83" height="11.82" fill="#e44444"/><rect x="792.67" y="1631.05" width="11.83" height="11.82" fill="#a03a8a"/><rect x="804.51" y="1631.05" width="11.83" height="11.82" fill="#f85e18"/><rect x="816.34" y="1631.05" width="11.83" height="11.82" fill="#000000"/><rect x="828.17" y="1631.05" width="11.83" height="11.82" fill="#c44068"/><rect x="840.00" y="1631.05" width="11.83" height="11.82" fill="#f85e18"/><rect x="851.84" y="1631.05" width="11.83" height="11.82" fill="#c44068"/><rect x="863.67" y="1631.05" width="11.83" height="11.82" fill="#e44444"/><rect x="508.70" y="1642.87" width="11.83" height="11.82" fill="#ff4826"/><rect x="520.53" y="1642.87" width="11.83" height="11.82" fill="#e44444"/><rect x="532.36" y="1642.87" width="11.83" height="11.82" fill="#7e32a8"/><rect x="544.20" y="1642.87" width="11.83" height="11.82" fill="#ff4826"/><rect x="556.03" y="1642.87" width="11.83" height="11.82" fill="#f85e18"/><rect x="567.86" y="1642.87" width="11.83" height="11.82" fill="#f85e18"/><rect x="579.69" y="1642.87" width="11.83" height="11.82" fill="#e44444"/><rect x="591.53" y="1642.87" width="11.83" height="11.82" fill="#f85e18"/><rect x="603.36" y="1642.87" width="11.83" height="11.82" fill="#ff4826"/><rect x="615.19" y="1642.87" width="11.83" height="11.82" fill="#f85e18"/><rect x="627.02" y="1642.87" width="11.83" height="11.82" fill="#ff4826"/><rect x="638.85" y="1642.87" width="11.83" height="11.82" fill="#ff4826"/><rect x="650.69" y="1642.87" width="11.83" height="11.82" fill="#ec780c"/><rect x="662.52" y="1642.87" width="11.83" height="11.82" fill="#f85e18"/><rect x="674.35" y="1642.87" width="11.83" height="11.82" fill="#ec780c"/><rect x="686.18" y="1642.87" width="11.83" height="11.82" fill="#ff4826"/><rect x="698.02" y="1642.87" width="11.83" height="11.82" fill="#ec780c"/><rect x="709.85" y="1642.87" width="11.83" height="11.82" fill="#c44068"/><rect x="721.68" y="1642.87" width="11.83" height="11.82" fill="#ec780c"/><rect x="733.51" y="1642.87" width="11.83" height="11.82" fill="#ff4826"/><rect x="745.35" y="1642.87" width="11.83" height="11.82" fill="#f85e18"/><rect x="757.18" y="1642.87" width="11.83" height="11.82" fill="#ff4826"/><rect x="769.01" y="1642.87" width="11.83" height="11.82" fill="#f85e18"/><rect x="780.84" y="1642.87" width="11.83" height="11.82" fill="#000000"/><rect x="792.67" y="1642.87" width="11.83" height="11.82" fill="#c44068"/><rect x="804.51" y="1642.87" width="11.83" height="11.82" fill="#ec780c"/><rect x="816.34" y="1642.87" width="11.83" height="11.82" fill="#c44068"/><rect x="828.17" y="1642.87" width="11.83" height="11.82" fill="#7e32a8"/><rect x="840.00" y="1642.87" width="11.83" height="11.82" fill="#e44444"/><rect x="851.84" y="1642.87" width="11.83" height="11.82" fill="#e44444"/><rect x="863.67" y="1642.87" width="11.83" height="11.82" fill="#7e32a8"/><rect x="508.70" y="1654.68" width="11.83" height="11.82" fill="#000000"/><rect x="520.53" y="1654.68" width="11.83" height="11.82" fill="#000000"/><rect x="532.36" y="1654.68" width="11.83" height="11.82" fill="#7e32a8"/><rect x="544.20" y="1654.68" width="11.83" height="11.82" fill="#a03a8a"/><rect x="556.03" y="1654.68" width="11.83" height="11.82" fill="#e44444"/><rect x="567.86" y="1654.68" width="11.83" height="11.82" fill="#a03a8a"/><rect x="579.69" y="1654.68" width="11.83" height="11.82" fill="#000000"/><rect x="591.53" y="1654.68" width="11.83" height="11.82" fill="#000000"/><rect x="603.36" y="1654.68" width="11.83" height="11.82" fill="#000000"/><rect x="615.19" y="1654.68" width="11.83" height="11.82" fill="#a03a8a"/><rect x="627.02" y="1654.68" width="11.83" height="11.82" fill="#000000"/><rect x="638.85" y="1654.68" width="11.83" height="11.82" fill="#e44444"/><rect x="650.69" y="1654.68" width="11.83" height="11.82" fill="#7e32a8"/><rect x="662.52" y="1654.68" width="11.83" height="11.82" fill="#e44444"/><rect x="674.35" y="1654.68" width="11.83" height="11.82" fill="#f85e18"/><rect x="686.18" y="1654.68" width="11.83" height="11.82" fill="#c44068"/><rect x="698.02" y="1654.68" width="11.83" height="11.82" fill="#c44068"/><rect x="709.85" y="1654.68" width="11.83" height="11.82" fill="#c44068"/><rect x="721.68" y="1654.68" width="11.83" height="11.82" fill="#f85e18"/><rect x="733.51" y="1654.68" width="11.83" height="11.82" fill="#7e32a8"/><rect x="745.35" y="1654.68" width="11.83" height="11.82" fill="#c44068"/><rect x="757.18" y="1654.68" width="11.83" height="11.82" fill="#ff4826"/><rect x="769.01" y="1654.68" width="11.83" height="11.82" fill="#f85e18"/><rect x="780.84" y="1654.68" width="11.83" height="11.82" fill="#000000"/><rect x="792.67" y="1654.68" width="11.83" height="11.82" fill="#a03a8a"/><rect x="804.51" y="1654.68" width="11.83" height="11.82" fill="#ff4826"/><rect x="816.34" y="1654.68" width="11.83" height="11.82" fill="#c44068"/><rect x="828.17" y="1654.68" width="11.83" height="11.82" fill="#a03a8a"/><rect x="840.00" y="1654.68" width="11.83" height="11.82" fill="#c44068"/><rect x="851.84" y="1654.68" width="11.83" height="11.82" fill="#a03a8a"/><rect x="863.67" y="1654.68" width="11.83" height="11.82" fill="#c44068"/></g>
<rect x="898" y="1300.3" width="36.8" height="365" fill="url(#cbar)"/>
<text x="40.4" y="1254.8" font-family="Liberation Serif" font-size="91" text-anchor="start" >C</text>
<text x="516.3" y="1259.9" font-family="Liberation Serif" font-size="90" text-anchor="start" >D</text>
<text x="41.6" y="1308.7" font-family="Liberation Serif" font-size="35.5" text-anchor="end" >0</text>
<text x="49.5" y="1667" font-family="Liberation Serif" font-size="35.5" text-anchor="end" >30</text>
<text x="57.2" y="1705.4" font-family="Liberation Serif" font-size="35.5" text-anchor="middle" >0</text>
<text x="252.4" y="1702.6" font-family="Liberation Serif" font-size="35.5" text-anchor="middle" >90</text>
<text x="423.4" y="1702.6" font-family="Liberation Serif" font-size="35.5" text-anchor="middle" >170</text>
<text x="74.3" y="1737.5" font-family="Liberation Serif" font-size="41" text-anchor="start" textLength="339" lengthAdjust="spacingAndGlyphs">In-Plane Angle [deg.]</text>
<text transform="translate(29.2,1603.5) rotate(-90)" font-family="Liberation Serif" font-size="41" textLength="260.5" lengthAdjust="spacingAndGlyphs">Y Position [mm]</text>
<text x="494" y="1308.5" font-family="Liberation Serif" font-size="35.5" text-anchor="end" >0</text>
<text x="501.7" y="1667" font-family="Liberation Serif" font-size="35.5" text-anchor="end" >30</text>
<text x="502.7" y="1705.4" font-family="Liberation Serif" font-size="35.5" text-anchor="middle" >0</text>
<text x="861" y="1700.8" font-family="Liberation Serif" font-size="35.5" text-anchor="middle" >30</text>
<text x="562.6" y="1741.5" font-family="Liberation Serif" font-size="39.5" text-anchor="start" textLength="262" lengthAdjust="spacingAndGlyphs">X Position [mm]</text>
<text transform="translate(479.8,1604) rotate(-90)" font-family="Liberation Serif" font-size="41" textLength="257" lengthAdjust="spacingAndGlyphs">Y Position [mm]</text>
<text x="941.5" y="1315" font-family="Liberation Serif" font-size="35.5" text-anchor="start" >1</text>
<text x="941.5" y="1493.5" font-family="Liberation Serif" font-size="35.5">10<tspan dy="-10.5" font-size="23.5">-2</tspan></text>
<text x="941.5" y="1675.5" font-family="Liberation Serif" font-size="35.5">10<tspan dy="-10.5" font-size="23.5">-4</tspan></text>
</svg>
</body></html>
